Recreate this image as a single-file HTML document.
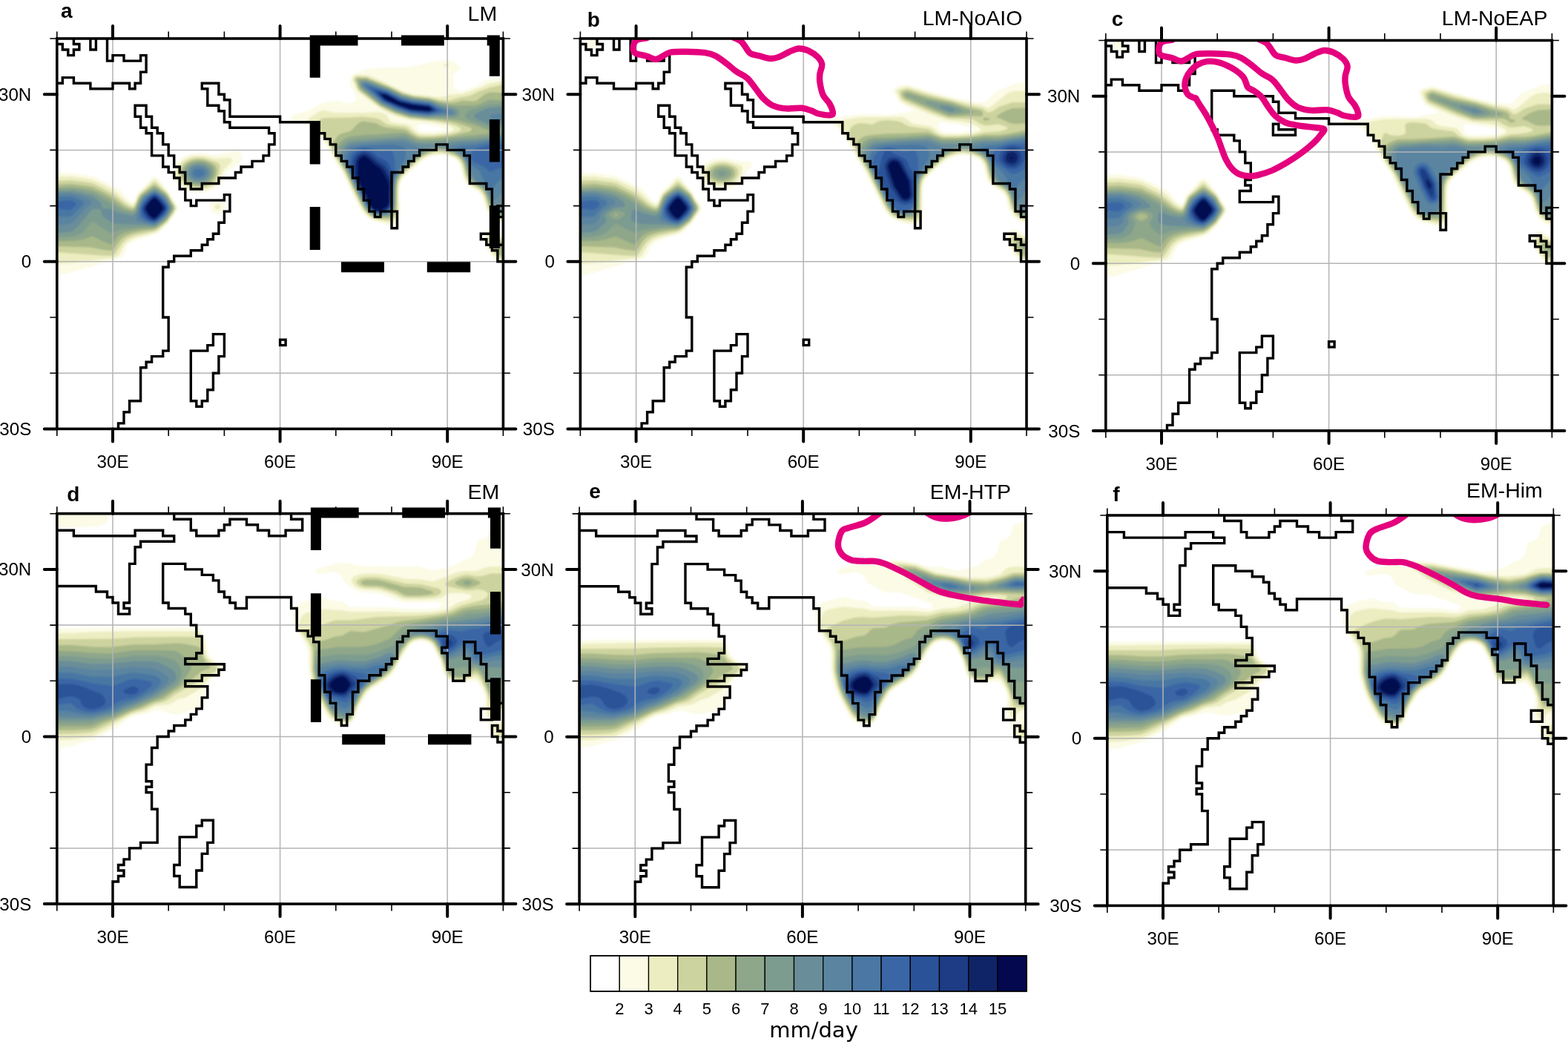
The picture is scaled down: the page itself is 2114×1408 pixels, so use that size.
<!DOCTYPE html>
<html lang="en"><head><meta charset="utf-8"><title>Precipitation maps</title>
<style>html,body{margin:0;padding:0;background:#fff}svg{display:block}text{font-family:"Liberation Sans",Arial,Helvetica,sans-serif;fill:#000}.b{font-weight:bold;font-size:28px}.t{font-size:24.2px}.ti{font-size:28.5px}.cb{font-size:22px}.u{font-family:"DejaVu Sans",Verdana,sans-serif;font-size:29px}</style></head><body>
<svg width="2114" height="1408" viewBox="0 0 2114 1408" role="img" aria-label="Precipitation maps for six simulations">
<rect width="2114" height="1408" fill="#fff"/>
<defs><clipPath id="cpa"><rect x="0" y="0" width="601.6" height="526.4"/></clipPath><filter id="bl" x="-5%" y="-5%" width="110%" height="110%"><feGaussianBlur stdDeviation="1.1"/></filter></defs>
<g transform="translate(76.8 52)"><g clip-path="url(#cpa)"><g filter="url(#bl)"><path fill="#fbfbe6" fill-rule="evenodd" d="M511.9 30.1L522.6 28.5L528.3 28.9L533.9 31.1L538.7 33.8L544.1 39.5L544.2 41.4L535.1 47L533.9 48.9L533.6 50.8L535.2 65.8L537.7 68.7L541.4 70.3L547.1 70.4L565.7 63.9L573.4 58.4L579 56L587.3 54.5L601.6 52.9L601.6 249.6L596 248.4L590.3 246L586.6 243.2L582.8 239L577.6 229.4L573.4 215.3L570.9 210.6L565.9 205.9L554.6 199.3L549.6 193.6L546.4 186.1L543.3 172.3L541.4 168.2L539.6 165.7L535.8 162.8L530.2 160.3L522.6 158.2L517 157.6L511.4 158L504.2 159.8L498.2 162.2L492.6 165.4L471.9 183.6L466.2 189.9L463.8 195.5L462.6 203L462.5 216.2L463.3 229.4L463 236.9L460.9 244.4L458.7 247.8L456.8 249.7L453.1 251.8L449.3 252.2L430.5 247.4L424.9 245.5L421.1 243.6L417.2 240.6L413.5 236.9L409.4 231.2L401.2 216.2L383.5 179.7L373.3 163.6L363.2 144.8L349.7 125.9L344 119.9L338.4 116.6L332.8 115L320.7 112.8L315.9 110.9L315.5 109L315.8 107L316.6 105.3L319.6 102.5L323.4 101L334.6 98.6L340.3 96.8L355.3 88.1L359.1 86.6L376 83.9L379.8 84.3L392.9 87.7L396.7 87.5L400.4 85.7L402.8 82.7L403.3 79L401 73.3L395.3 63.9L394.6 60.2L395.4 54.5L397 50.8L398.6 48.9L402.3 46.6L408 45.3L411.7 42.9L416.5 41.4L434.3 39.6L471.9 39.1L490.7 35.3ZM488.8 115.9L486.9 116.6L486 118.4L486.2 120.3L486.9 122.2L488.6 124.1L490.7 124.9L507.6 125.7L519.6 124.1L523.8 122.2L520 120.3L507.6 117.4L492.6 115.8ZM214.3 157.3L238.8 151.7L242.5 151.7L244.4 152.3L247.2 154.2L248.7 156L250 159.8L249.7 163.6L248.9 165.4L246.3 168.5L233.1 176.9L229.4 179.9L227.5 182.5L223.5 191.8L220.9 195.5L216.2 200.1L210.6 203.7L203 206.6L195.5 208L188 208.1L180.5 207L173 204.4L165.4 199.8L161.1 195.5L157.7 189.9L156.4 186.1L155.8 180.5L156.8 174.8L158.4 171.1L160.8 167.3L164.4 163.6L169.2 160L173 158.1L180.5 155.5L189.9 154.3L197.4 154.7L208.7 157ZM0 319.7L0 180.8L18.8 180.9L45.1 184.9L50.8 186.4L81.8 201.2L86.5 205.1L95.2 216.2L99.6 219.9L101.5 220.6L103.4 219.9L105.3 216.7L107.5 210.6L109.6 206.8L117.6 199.3L126 188.9L129.7 186.1L131.6 185.8L133.5 186.2L137.2 189.1L143.4 197.4L150.4 205.5L156 215.6L161.8 223.7L163.3 227.5L163.3 229.4L162.7 231.2L158.2 238.8L150.4 249.5L139.1 260.7L133.5 263.9L109 271.3L101.4 274.5L97.8 277.2L95.1 280.1L90.6 291.4L89.4 293.3L86.5 295.7L79 298.8L62 302.3L47 307.8L30.1 311.7L18.8 316.1ZM212 218.1L216.2 217.2L220 217.7L223.7 219.5L226 221.8L227.6 225.6L227.4 229.4L225.6 232.9L223.3 235L218.3 236.9L214.3 236.8L209.9 235L206.8 231.8L205.4 227.5L206.1 223.7L208.7 220.1ZM581.8 257.6L584.7 257.1L588.4 258L601.6 265L601.6 303.7L594.1 300.7L588.4 296.3L582.8 289.1L577.8 280.1L575.5 272.6L575.4 267L577.4 261.3L579 259.3Z"/><path fill="#ecedc0" fill-rule="evenodd" d="M524.3 33.8L526.4 33.8L528.3 35.4L527.5 37.6L524.5 38.3L522.4 37.6L521.6 35.7ZM403.8 48.9L419.2 49.6L438 57.1L467.1 71.4L473.4 73.3L481.3 75.3L503.8 77.6L513.2 79.1L518.6 79L530.2 75.7L547.1 74.6L571.5 66.1L582.8 60.5L601.6 57.3L601.6 246.6L596 245.1L592.2 243.4L586.2 238.8L583.2 235L580.2 229.4L575.6 214.3L572.6 208.7L568.9 204.9L558.4 198.7L552.8 193.6L550.6 189.9L549.1 186.1L545.2 170.3L541.4 164.1L537.7 161.1L532 158.5L524 156L517 155L507.6 156.1L500.1 158.6L493.8 161.7L488.5 165.4L471.7 180.5L464.8 188L462 193.6L460.7 201.2L460.4 214.3L460.9 227.5L460.4 235L458.1 242.5L455 246.5L453.1 247.7L449.3 248.4L430.5 245L423 242L417.4 237.8L413.4 233.1L408.7 225.6L399 206.8L387.3 182L374.8 161.7L365.5 142.9L347.8 118.8L344 115.6L336.7 110.9L338.5 109L347.8 101.9L357.2 96.9L361 97.1L371.2 99.6L377.9 100.3L411.7 100.2L432.4 99.2L438 100L443.7 102.6L446 105.3L448.4 110.9L450.7 112.8L455 113.8L470 115.6L473.8 116.6L477.5 118.7L484.4 126L488.8 128.3L492.6 128.8L505.7 129L524.5 127.2L532 125.1L534.2 124.1L535.2 122.2L533.7 120.3L530.5 118.4L525.1 116.6L505.4 112.8L477.5 109.7L470 108.2L456.8 104.7L443.7 99L434.3 93.3L405.8 71.4L403.3 67.7L401.4 62L398.6 56.4L398.9 52.6L400.2 50.8ZM187.1 157.9L197.4 158.2L214.3 161.9L229.4 160.9L233.1 161.1L235.1 161.7L236.3 163.6L234.4 167.3L225 176.7L223.7 178.9L219.6 189.9L217.1 193.6L213.3 197.4L208.7 200.5L201.2 203.4L193.6 204.7L186.1 204.5L176.7 202.1L171.4 199.3L167.3 196.2L162.5 189.9L161 186.1L160.3 180.5L160.9 176.7L162.3 173L164.6 169.2L168.3 165.4L173 162.2L176.7 160.4L182.4 158.6ZM0 186.1L18.8 185.9L43.2 189.3L48.9 190.7L65.8 198.5L77.1 204.6L80.8 207.5L94 220L99.5 223.7L101.5 224.3L103.4 223.6L105.3 220.8L108.6 212.4L110.9 208.4L119.3 201.2L127.8 192L129.7 190.6L131.6 190.1L133.5 190.7L135.4 192.2L150.4 208.4L154.5 216.2L160.7 225.6L161.2 229.4L158.6 235L149.3 248.2L139.1 257.5L135.4 260.3L131.6 262L107.2 268.2L99.6 271.5L95.3 274.5L91.4 278.2L84 291.4L82.1 293.3L79 295.2L73.3 296.6L58.3 297.9L45.1 300.1L16.9 303.1L0 304.1ZM215.3 223.7L218.1 223.7L220.3 225.6L220.6 227.5L220 229.1L218.1 230.4L216.2 230.7L214.3 230.1L212.5 227.5L212.9 225.6ZM581 263.2L582.8 262.1L586.6 262.1L601.6 268.6L601.6 300.4L596 298.1L592 295.2L586.9 289.5L581.9 282L579.4 276.4L578.5 270.7L579 266.6Z"/><path fill="#cdd39f" fill-rule="evenodd" d="M401.5 52.6L404.2 51L417.4 51.4L449.3 64.7L466.8 73.3L481.3 77.2L502 79.5L515.8 82.7L524.5 83.6L530.2 83.2L541.4 79.8L554.6 77.5L558.4 76.2L568.2 71.4L582.8 66.2L601.6 62.1L601.6 244.3L594.1 241.7L590.3 239.3L586.6 235.8L583.3 231.2L581.5 227.5L577.2 213.1L573.7 206.8L569.6 202.9L558.4 196.3L554 191.8L550.7 184.2L547.1 169.8L543.3 163.3L539.6 160L535.8 157.9L524.5 154.1L517 152.9L511.4 153.2L505.7 154.5L498.2 157.2L492.6 160.1L486.9 164.2L470 179.5L463.9 186.1L460.8 191.8L459.3 199.3L458.9 210.6L459.2 225.6L458.5 233.1L456.8 238.9L455 242L453.1 243.8L451.2 244.7L447.4 245.2L432.4 243.6L424.9 241L418.9 236.9L414.1 231.2L408.6 221.8L387.3 178.2L376 159.8L367.5 141L358.8 129.7L351.5 118.4L351 114.7L351.4 112.8L353.4 110.2L357.2 107.8L362.8 106.9L392.9 106.4L411.7 105.4L426.8 106.8L434.3 108.6L443.4 114.7L448.2 116.6L468.1 118.9L471.9 120.1L479.4 126.1L485 129.7L488.8 131.1L492.6 131.5L507.6 131.4L528.3 129.1L540.4 126L544 124.1L544.8 122.2L542.9 120.3L539.6 118.3L528.3 114.3L509.5 111.2L475.6 107.7L456.8 102.1L445.6 97L434.3 91.1L408 70.9L405.3 67.7L403.5 62L400.9 56.4L400.7 54.5ZM182.1 161.7L189.9 160.5L199.3 161.4L211.5 165.4L216 167.3L218.7 169.2L219.7 171.1L219.9 173L218 184.2L215.6 189.9L210.6 195.5L206.8 198L201.2 200.4L195.5 201.7L188 201.8L182.4 200.9L176.7 198.8L171.5 195.5L167.7 191.8L165.5 188L164.3 184.2L164.2 178.6L165.3 174.8L167.5 171.1L171.1 167.3L176.7 163.7ZM0 191.8L18.8 191.1L43.2 194.2L48.9 195.6L73.3 207.8L79 211.7L92.1 222.8L97.8 226.1L101.5 227.2L103.4 226.6L105.3 224.3L110.2 212.4L112.8 208.9L129.7 194.7L131.6 194.1L133.5 194.8L148.7 208.7L151.3 212.4L154.2 218.4L158.9 225.6L159.6 229.4L156.9 235L148.5 246.8L137.2 256.5L131.6 259.7L105.3 265.2L96.6 268.8L92.1 271.9L88.4 275.4L79 289.5L77.2 291.4L75.2 292.4L71.4 292.9L58.3 292.4L0 288.1ZM584.2 267L586.6 266.7L588.4 267.2L596 270.1L601.6 271.6L601.6 297.6L596.5 295.2L592.2 291.5L584.7 281.2L582.4 276.4L581.8 272.6L582.3 268.8Z"/><path fill="#a9b888" fill-rule="evenodd" d="M403.3 54.5L404.2 53.6L406.1 53.1L417.4 53.2L449.3 66.1L464.4 73.8L468.1 75.1L481.3 78.5L502 80.8L515.1 84.6L526.4 86.5L535.4 86.5L547.1 83.7L562.3 84.6L565.9 83.5L575.3 76.1L580.9 73.1L586.6 72.2L601.6 73.2L601.6 242.3L594.1 239.4L588.4 235L585.4 231.2L583.4 227.5L578.6 212.4L575.3 206.1L571.5 202.3L560.2 195.5L556.2 191.8L553.9 188L552.5 184.2L548.6 169.2L546.8 165.4L544.1 161.7L539.6 158L535.5 156L522.6 151.7L517 150.9L511.4 151.3L505.7 152.6L498.2 155.3L492.6 158.1L485 163.7L468.1 179L462.5 185.4L459.3 191.8L458.2 197.4L457.4 229.4L456.1 235L453.1 240.1L451.2 241.5L447.4 242.5L432.4 242L424.9 239.4L419.2 235.2L414.5 229.4L409.2 220L399.6 201.2L389.2 178.6L378.8 161.7L373.7 150.4L371.8 144.8L371.5 141L374.8 137.2L377.9 132L379.8 130.2L383.5 128.3L394.8 125.1L396.7 124.1L405.8 114.7L408.6 112.8L413.6 111.4L430.5 114.3L438 118.4L443.7 120.1L468.1 122.8L471.9 124.5L477.5 128.5L483.2 131.6L486.9 133.1L490.7 133.9L509.5 133.6L532 131L554.7 126L558.4 124.1L559.6 122.2L557.9 120.3L554.6 119.1L539.6 114.1L530.2 111.8L513.2 109.7L498.2 108.8L475.6 106.3L455 99.9L436.2 90.8L409 69.6L406.3 65.8L403.2 56.4ZM185.2 163.6L191.8 163L199.3 164L207.9 167.3L213.1 171.1L214.4 173L215.4 176.7L215.4 180.5L214.7 184.2L212 189.9L206.8 194.9L203 197L197.4 198.8L191.8 199.5L186.1 199.1L180.5 197.6L176.7 195.8L173 193.1L170.1 189.9L168.1 186.1L167.3 182.4L167.5 178.6L169.2 174L171.3 171.1L175.7 167.3L180.5 164.9ZM0 280.2L0 196.9L18.8 196L47 199.8L60.2 205.7L73.3 212.6L90.5 225.6L97.8 229L101.5 229.8L103.4 229.3L105.3 227.2L110.8 214.3L113.4 210.6L127.8 199.6L131.6 197.8L135.4 199.7L144.8 206.9L148.5 210.5L157.3 225.6L158 229.4L156.4 233.1L148.5 244.9L144.8 248.5L137.2 254.3L131.6 257.5L116.6 259.6L105.3 261.8L99.6 263.2L94 265.4L90.2 267.6L86.4 270.7L83.2 274.5L77.1 284L75.2 285.7L73.3 286.3L62 284.9L45.1 281.5ZM587.4 274.5L588.4 273.5L590.3 273.1L601.6 274.4L601.6 293.1L597.8 292.5L596 291.5L592.5 287.6L588.3 280.1L587.2 276.4Z"/><path fill="#8ea68a" fill-rule="evenodd" d="M405.6 56.4L408 55L417.4 54.9L449.3 67.4L466.2 75.8L481.3 79.7L502 82L517 86.9L530.2 89.4L543.3 90.4L564 89.9L569.9 88.4L574.6 86.5L580.9 83L584.7 82.2L601.6 84.1L601.6 240.5L594.1 237.3L590.3 234.4L587.5 231.2L584.3 225.6L579 209.7L575.3 203.8L571.5 200.5L560.4 193.6L556.9 189.9L554.2 184.2L549.4 167.3L545.2 160.7L541.4 157.4L535.8 154.5L522.6 149.9L517 149.1L511.4 149.5L505.7 150.8L496.7 154.2L490.7 157.4L485 161.7L468.1 177.1L461.6 184.2L458.6 189.9L457 197.4L456.5 223.7L455.9 229.4L454 235L451.2 238.6L449.3 239.7L445.6 240.6L434.3 240.9L430.5 240.3L426.8 238.9L420.8 235L416 229.4L410.6 220L399.2 197.4L391 179.5L379.5 159.8L375.5 150.4L375.7 146.6L381.6 140.1L387.3 135.4L391 133.6L394.8 132.5L413.6 130L430.5 129.6L451.2 127.7L466.2 127.1L470 127.8L483.2 134.3L488.8 136.2L507.6 136.1L579 128.4L582 127.8L583.8 126L581.2 124.1L568.6 118.4L541.4 110.1L513.2 107.8L498.2 107.6L477.5 105.4L471.9 104.1L455 98.6L436.2 89.4L411.5 69.6L408.1 65.8ZM188.3 165.4L195.5 165.6L201.8 167.3L208.3 171.1L211.2 174.8L212.3 180.5L210.9 186.1L206.8 191.6L201.2 195.1L193.6 197L188 197L184.2 196.3L180.5 195L176.7 192.8L173.6 189.9L171.2 186.1L170.3 182.4L170.5 178.6L173.3 173L176.7 169.7L180.5 167.5ZM0 201.3L20.7 200.3L37.6 202.4L47 204.4L58.3 209.3L73.3 217.3L82.7 224.6L88.4 228.1L95.9 231.2L101.5 232.4L103.4 231.9L105.3 230.1L111.3 216.2L114.7 211.3L127.8 201.9L131.6 200.5L135.4 202.1L146.8 210.6L149.6 214.3L155.7 225.6L156.6 229.4L155 233.1L148.5 243.1L142.9 248.3L133.5 254.8L129.7 255.9L110.9 257.3L97.8 259.8L90.2 262L86.5 263.8L82.7 266.5L80.5 268.8L75.2 276.7L73.3 277.7L68.6 276.4L48.9 267.1L47 267.1L33.8 271.1L22.6 272.9L0 273.3ZM596.2 278.2L601.6 277.4L601.6 284.2L595.6 282L594.2 280.1Z"/><path fill="#7d9c90" fill-rule="evenodd" d="M409.8 56.6L417.4 56.6L447.4 67.9L466.2 77.1L481.3 80.9L502 83.2L517 88.7L537.7 93.5L541.3 95.9L542.6 97.8L542.7 101.5L541.7 103.4L539.8 105.3L535.8 106.7L511.4 106.1L500.1 106.5L475.6 103.9L456.8 98L436.8 88.4L411.7 67.7L409.1 63.9L407.8 58.3ZM558.8 95.9L584.7 88.7L601.6 88.4L601.6 123.8L600.1 122.2L596 120.9L582.8 118.9L575.3 116.8L556.5 109.9L551.9 107.2L550.9 105.3L550.9 103.4L552.7 99.7L554.8 97.8ZM599.9 126L601.6 124.2L601.6 238.7L597.8 237.4L594.1 235.3L588.2 229.4L585.2 223.7L580 208.7L576.5 203L572.2 199.3L562.1 193.1L558.4 189.3L555.7 184.2L550.8 167.3L549 163.6L546.2 159.8L541.9 156L537.7 153.8L524.5 148.7L517 147.3L511.4 147.8L505.7 149.2L498.2 151.8L492.6 154.5L485 159.9L464.4 179L458.9 186.1L456.8 191.8L455.7 201.2L455.2 225.6L453.1 233.2L450.1 236.9L445.6 238.8L436.2 239.7L432.4 239.5L428.6 238.5L424.9 236.7L421.1 233.8L418.7 231.2L414.9 225.6L403.1 203L391 176.8L381 159.8L379.3 156L378.3 152.3L381.6 146.6L387.3 141.3L392.9 137.8L398.6 136.4L468.1 131.1L471.9 132L483.2 137.2L488.8 138.8L509.5 138.6L545.2 135.1L564 134.3L580.9 132.3L591.3 129.7ZM182.5 169.2L188 167.7L193.6 167.7L199.3 168.9L204.9 171.9L207.6 174.8L209.1 178.6L208.7 184.2L206.6 188L204.9 189.9L201.2 192.5L197.4 194L193.6 194.8L186.1 194.4L182.4 193.2L178.6 191L174.3 186.1L173.2 182.4L173.5 178.6L174.8 175.5L176.8 173ZM129.6 203L131.6 202.6L135.4 204L146.6 212.3L148.5 214.8L155 227.5L154.5 231.2L148.5 241.3L142.9 246.6L133.5 253L129.7 254.1L114.7 253.9L92.1 256.4L84.6 257.9L75.2 262L73.3 262.1L69.6 260.5L62 256.2L48.9 246.9L47 247.2L45.1 248.9L36.8 259.4L33.8 261.9L30.1 263.9L24.4 265.9L18.8 267.2L0 268.1L0 204L20.7 203.3L33.8 205.3L47 208.4L55.7 212.4L75.2 223.8L86.4 231.2L94 233.8L101.5 235L103.4 234.5L105.3 233L106.4 231.2L112.7 216.2L114.7 213.3L120.3 208.8Z"/><path fill="#6a8d9a" fill-rule="evenodd" d="M411.3 58.3L415.5 57.9L417.4 58.3L447.4 69.1L462.5 76.9L466.2 78.3L481.3 82.1L503.8 84.9L515.1 89.9L535.8 96.1L537.8 97.8L538.4 99.6L538.1 101.5L536.3 103.4L533.9 104.1L511.4 104.5L498.2 105.2L475.6 102.8L458.7 97.4L439.9 88.9L436.2 86.5L412 65.8L410.9 63.9L410 60.2ZM580.9 94L586.6 93.2L601.6 92.5L601.6 115.8L586.6 115.6L580.9 114.9L575.6 112.8L564.3 107.2L562.4 105.3L562.7 103.4L564.8 101.5L575.5 95.9ZM582.8 134.8L601.6 130.3L601.6 233.2L594.1 233.2L591.9 231.2L587.7 225.6L581.4 208.7L578.1 203L573.4 198.6L562.6 191.8L559.2 188L556.5 182L552.1 167.3L549.3 161.7L546.3 157.9L541.4 154.2L535.8 151.5L522.6 146.2L517 145.5L511.4 145.8L503.8 147.9L494.4 151.8L490.7 153.9L483.2 159.7L463.1 178.6L458.7 184.2L456.8 188L455.8 191.8L454.7 201.2L454.1 225.6L453.2 229.4L451.4 233.1L447.4 236.5L443.7 237.7L434.3 238.6L428.6 237.4L424.9 235.5L421.9 233.1L418.5 229.4L416.1 225.6L403.3 201.2L391 174.4L381.6 157.9L382.6 154.2L384.3 150.4L389.1 144.8L394.8 141.2L400.4 140L430.5 137.2L468.1 134.6L471.5 135.4L479.4 139.2L486.9 141.5L492.6 142.1L509.5 142.1L524.5 141.1L545.2 138.1L565.9 137.2ZM184.3 171.1L188 170.1L193.6 170L199.3 171.5L203 173.9L205.3 176.7L206.2 180.5L205.6 184.2L203.1 188L200.7 189.9L197.4 191.5L191.8 192.6L188 192.4L184.2 191.3L179.1 188L176.7 184.2L176.2 182.4L176.6 178.6L178.7 174.8L180.8 173ZM129.4 204.9L131.6 204.4L133.5 204.8L144.9 212.4L148.5 217.2L153.6 227.5L153.2 231.2L147.5 240.6L141 246.5L133.5 251.4L131.6 252.2L127.8 252.5L114.7 251.1L92.1 250.5L77.1 249.2L71.4 246.8L62.7 240.6L60.3 236.9L59.9 231.2L58.3 229.8L50.8 229.7L46.8 231.2L30.1 251.6L21.4 259.4L16.9 261.1L0 262.3L0 206.4L20.7 206L33.7 208.7L43.2 211.3L50 214.3L57.8 220L59.4 221.8L60.2 223.7L60.7 227.5L62 229.2L73.3 229.8L80.8 234L84.6 235.5L94 237.6L101.5 238.4L103.4 237.8L105.3 236.3L107.2 233.5L112.8 219.1L115.7 214.3L120.3 210.4Z"/><path fill="#5a84a0" fill-rule="evenodd" d="M412.7 60.2L415.5 59.6L417.4 59.9L445.6 69.6L462.5 78.3L466.2 79.6L479.4 82.9L500.1 85.2L503.8 86.1L515.1 91.6L532.8 97.8L534.7 99.6L533.9 101L532 101.8L511.4 102.9L500.1 104.2L477.5 102L471.9 100.4L456.8 95.4L438 86.5L426.8 76.2L414.3 65.8L412.8 63.9L412.1 62ZM584.9 103.4L588.4 102L601.6 101.5L601.6 110.8L592.2 110.2L585.7 109L584.2 107.2L584.2 105.3ZM588.4 136.3L601.6 133.3L601.6 205.3L594.8 214.3L588.4 219.2L586.6 218.8L585.3 214.3L582.8 208.7L579 202.3L575.3 198.3L569.6 194.1L567.7 193.6L564.1 189.9L559.6 180.5L556.5 176.9L555.6 173L552.6 165.4L548.1 157.9L545.2 155.2L541.4 152.7L528.8 146.6L530.8 144.8L541.4 141.8L547.1 141.1L565.9 140.2ZM449.1 139.1L464.5 139.1L470 139.9L486.9 146.6L488.6 148.5L489 152.3L463.3 176.7L459.9 180.5L456.8 185.3L455.2 189.9L454.3 195.5L453.3 223.7L452.6 227.5L451 231.2L447.4 234.8L443.7 236.4L438 237.4L432.4 237.4L428.6 236.3L423.3 233.1L419.7 229.4L417.2 225.6L403.4 199.3L392.9 175.9L385.4 161.8L385.4 160.7L386.7 156L389.6 150.4L392.9 146.6L396.7 144.5L411.7 141.9ZM186.9 173L191.8 172.4L195.5 172.9L199.3 174.6L201.2 176.3L202.5 178.6L202.9 180.5L202.1 184.2L200.8 186.1L197.4 188.6L191.8 190.1L186.1 189.2L182.4 187.1L180.5 184.8L179.6 182.4L180 178.6L183 174.8ZM128.9 206.8L131.6 206L133.5 206.4L139.1 209.8L144.8 214.2L146.6 216.5L151.6 225.6L152.4 229.4L148.5 237.3L144.8 241.7L135.4 248.9L131.6 250.7L129.7 250.9L120.3 249.6L110.9 246.8L107.2 244.6L106.4 242.5L110.7 227.5L114.8 218.1L116.6 215.5L119.9 212.4ZM0 251.6L0 209.2L16.9 208.9L22.6 209.6L32.7 212.4L41.9 216.2L45.2 218.1L47.1 220L47.3 221.8L38.8 229.4L28.2 241.5L18.8 249.5L15 250.4Z"/><path fill="#4a77a3" fill-rule="evenodd" d="M415 62L418.4 62L445.6 70.8L464.4 80.3L479.4 84.1L502 86.7L513.2 92.6L525.8 97.8L526.3 99.6L502 102.9L498.2 103L477.5 100.8L460.6 95.5L441.8 87.3L438 85L428.6 76L416.8 65.8L415.1 63.9ZM564 143.6L601.6 136.8L601.6 188.6L597.8 190.6L594.1 193.6L584.7 204.5L582.8 203.5L575.1 189.9L569.9 178.6L565.5 174.8L556.5 170.1L551.1 159.8L549 157L545.2 153.3L540.2 150.4L539.6 149.2L538.5 148.5L541.5 146.6L547.1 145ZM410.9 144.8L453.1 143.1L462.5 144.8L466.2 146.2L469.2 148.5L469.9 150.4L470.1 157.9L469.3 163.6L463.7 171.1L461.2 176.7L456.2 184.2L454.2 189.9L453.1 199.3L452.5 221.8L451.5 227.5L449.3 231.4L447.4 233.2L443.7 235.1L436.2 236.6L430.5 236.1L424.9 233.2L420.8 229.4L417.1 223.7L405.3 201.2L389.9 167.3L389.3 165.4L390.6 157.9L392.4 154.2L394.8 150.9L397.7 148.5L400.4 147.3ZM186.4 176.7L191.8 175.5L196 176.7L198 178.6L198.7 180.5L198.6 182.4L197.6 184.2L195 186.1L191.8 186.9L188 186.5L186.1 185.5L184.2 183.6L183.6 180.5L184.3 178.6ZM128.1 208.7L131.6 207.6L133.5 208L137.9 210.6L142.8 214.3L146 218.1L148.5 222.2L150.9 227.5L151 229.4L148.5 235L144 240.6L135.4 247.5L131.6 249.2L129.7 249.4L122.7 248.2L117.8 246.3L112.3 242.5L111.1 240.6L110.7 238.8L111.5 229.4L112.8 225.4L115.4 220L119.9 214.3ZM0 240.3L0 212.9L18.8 212.8L24 214.3L32.4 218.1L35.3 220L36.4 221.8L35.7 223.7L34 225.6L22.6 237.1L18.8 239.8L15 240.4Z"/><path fill="#3a66a6" fill-rule="evenodd" d="M420.2 65.8L421.1 65.2L424.9 65.8L445.6 72L464.4 81.5L479.4 85.2L502 87.9L519.3 97.8L507.6 100.7L500.1 101.9L479.4 99.9L473.8 98.7L456.8 92.8L439.9 85L421.6 67.7ZM576 144.8L584.7 143.1L601.6 142.9L601.6 173.1L584.7 179.4L582.8 179L575.3 172.7L563.2 167.3L558.4 163.6L557.2 161.7L557.1 157.9L558.6 154.2L561.4 150.4L564.7 148.5ZM407 148.5L413.6 147.1L419.2 147.4L425.1 148.5L432.4 151.7L436.2 152.5L449.3 150.4L451.2 151.1L453.1 153.7L455.6 163.6L455.4 171.1L456.9 180.5L454.3 186.1L453 191.8L451.8 220L451.1 225.6L449.4 229.4L447.8 231.2L443.7 233.9L438 235.4L432.4 235.6L426.8 233.4L423 230.5L420.4 227.5L417 221.8L400 188L392.9 171.1L393.8 163.6L395.3 157.9L397.8 154.2L402.3 150.6ZM127.4 210.6L131.6 209.1L133.5 209.5L138.3 212.4L144.8 218.9L148.5 224.9L149.5 227.5L149 231.2L144.8 237.9L137.2 244.8L131.6 247.9L126 247.3L119.2 244.4L115.1 240.6L114 238.8L113 235L112.8 231.2L113.4 227.5L116.6 221L122.2 214.3ZM14.4 218.1L18.8 218.2L20.7 218.7L23.3 220L25.6 221.8L26 223.7L25 225.6L20.7 229.8L18.8 230.9L15 231.4L0 229.1L0 219.6Z"/><path fill="#2a5298" fill-rule="evenodd" d="M426.7 69.6L428.6 69.1L430.5 69.3L445.6 73.2L460.6 81.3L464.4 82.7L479.4 86.4L502 89.1L510.2 94L512.1 95.9L511.8 97.8L507.6 99.4L500.1 100.8L479.4 98.8L473.8 97.5L458.7 92.3L441.4 84.6L435.1 79ZM410.7 150.4L415.5 149.9L423 152.2L426.2 154.2L432.4 159.4L439.9 162.7L443.7 165L447.4 169.8L453.1 181.5L453.5 184.2L451.8 195.5L450.5 223.7L449.3 227.5L447.4 230.1L445.6 231.7L441.8 233.5L436.2 234.8L430.5 234.3L425 231.2L421.4 227.5L417.9 221.8L407.2 201.2L397.9 180.5L396.5 176.7L396.3 173L397.1 165.4L398.8 159.8L400.4 157.1L403.5 154.2ZM131.4 210.6L133.5 211L136 212.4L142 218.1L146.6 224.3L148.1 227.5L148.1 229.4L145.1 235L140 240.6L133.5 245.8L129.7 246.6L123.2 244.4L118.6 240.6L115.4 235L114.5 229.4L116.6 224L122.6 216.2L127.8 211.9Z"/><path fill="#1d3c85" fill-rule="evenodd" d="M432.2 73.3L432.4 72.5L434.3 71.8L445.6 74.4L460.6 82.6L464.4 83.9L479.4 87.5L501.8 90.2L507.9 94L509.5 95.9L508 97.8L500.1 99.6L479.4 97.7L475.6 96.9L458.7 91L441.8 83.5L436.8 79ZM406.1 156.4L411.7 153.2L415.5 152.9L419.2 154.3L423 156.6L432.4 164.5L438 167.9L441.8 171.1L446.1 176.7L450 184.2L451.2 187L451.5 189.9L450.7 199.3L450 221.8L448.2 227.5L446.7 229.4L443.7 231.6L438 233.6L432.4 233.9L428.6 232.7L424.1 229.4L421.1 225.8L418.7 221.8L401.8 188L399.3 180.5L400.4 165.4L402.9 159.8ZM129.7 212.4L131.6 212.1L133.5 212.5L136.1 214.3L142.9 221.8L146.4 227.5L146.5 229.4L145.8 231.2L142.9 235.2L135.9 242.5L131.6 245.1L127.3 244.4L121.8 240.6L117.9 235L116.6 231.6L116.3 229.4L117.6 225.6L121.7 220L126 215.2Z"/><path fill="#0f2466" fill-rule="evenodd" d="M435.7 75.2L436.2 74.2L438 73.9L444.2 75.2L460.6 84L464.4 85.2L479.4 88.6L500.1 90.9L502 91.6L505.6 94L506.9 95.9L503.8 97.7L500.1 98.5L479.4 96.5L475.6 95.7L460 90.2L443.7 83.2L440.2 80.8ZM413.3 156L417.4 156.9L421.1 159.3L430.5 167.6L438 173.1L442.6 178.6L449.3 191.9L449.6 216.2L449.3 220.1L447.9 225.6L444.7 229.4L441.5 231.2L436.2 233.1L432.4 233.1L428.6 231.8L425.3 229.4L421.1 224.4L406.1 195.3L402.5 186.1L403 169.2L403.6 165.4L405.4 161.7L407 159.8L409.8 157.4ZM129.6 214.3L131.6 213.8L133.5 214.3L135.4 215.8L142.2 223.7L144.4 227.5L144.5 229.4L142.4 233.1L135.8 240.6L133.5 242.7L131.6 243.4L127.8 242.7L124.1 239.7L119.5 233.1L118.4 229.4L118.7 227.5L121 223.7L126 217.6Z"/><path fill="#03084f" fill-rule="evenodd" d="M439 77.1L439.9 76L441.8 76L445.6 77L460.6 85.7L462.5 86.2L479.4 89.8L500.1 92.1L503.2 94L503.8 95.9L500.1 97.2L498.2 97.2L479.4 95.3L475.6 94.5L458.9 88.4L445.4 82.7L442 80.8ZM411.6 159.8L413.6 159.2L415.5 159.5L419.2 161.6L426.9 169.2L436.2 176.4L440.2 182.4L445.9 193.6L446.9 199.3L446.6 220L446 223.7L444.8 225.6L442.7 227.5L436.1 231.2L432.4 231.7L430 231.2L426.8 229.3L423.6 225.6L418 210.6L409.8 196.3L407 189.9L406.1 184.2L406.3 167.3L407.7 163.6ZM127.8 218.1L131.6 215.8L133.5 216.5L135.4 218.3L141.3 225.6L142.3 227.5L142.4 229.4L140.2 233.1L135.4 238.8L133.5 240.6L131.6 241.5L129.7 241.3L126 238.5L122 233.1L120.6 229.4L120.9 227.5L123.2 223.7Z"/></g></g><path d="M75.2 0V526.4M300.8 0V526.4M526.4 0V526.4M0 150.4H601.6M0 300.8H601.6M0 451.2H601.6" stroke="#b4b4b4" stroke-width="1.5" fill="none"/><g clip-path="url(#cpa)"><path d="M0 7.5L7.5 7.5L7.5 15L15 15L15 22.6L22.6 22.6L22.6 15L30.1 15L30.1 7.5L22.6 7.5L22.6 0M45.1 0L45.1 15L52.6 15L52.6 0M67.7 0L67.7 30.1L75.2 30.1L75.2 22.6L90.2 22.6L90.2 30.1L112.8 30.1L112.8 22.6L120.3 22.6L120.3 45.1L112.8 45.1L112.8 60.2L105.3 60.2L105.3 67.7L97.8 67.7L97.8 60.2L75.2 60.2L75.2 67.7L45.1 67.7L45.1 60.2L22.6 60.2L22.6 52.6L7.5 52.6L7.5 60.2L0 60.2M120.3 90.2L105.3 90.2L105.3 105.3L112.8 105.3L112.8 120.3L120.3 120.3L120.3 127.8L127.8 127.8L127.8 157.9L142.9 157.9L142.9 173L150.4 173L150.4 180.5L157.9 180.5L157.9 188L165.4 188L165.4 203L173 203L173 218.1L180.5 218.1L180.5 225.6L188 225.6L188 218.1L225.6 218.1L225.6 210.6L233.1 210.6L233.1 233.1L225.6 233.1L225.6 248.2L218.1 248.2L218.1 263.2L210.6 263.2L210.6 270.7L203 270.7L203 278.2L195.5 278.2L195.5 285.8L180.5 285.8L180.5 293.3L157.9 293.3L157.9 300.8L150.4 300.8L150.4 308.3L142.9 308.3L142.9 376L150.4 376L150.4 421.1L142.9 421.1L142.9 428.6L127.8 428.6L127.8 436.2L120.3 436.2L120.3 443.7L112.8 443.7L112.8 488.8L97.8 488.8L97.8 503.8L90.2 503.8L90.2 518.9L82.7 518.9L82.7 526.4M120.3 90.2L120.3 105.3L127.8 105.3L127.8 120.3L135.4 120.3L135.4 127.8L142.9 127.8L142.9 142.9L150.4 142.9L150.4 157.9L157.9 157.9L157.9 173L165.4 173L165.4 180.5L173 180.5L173 195.5L180.5 195.5L180.5 203L195.5 203L195.5 195.5L218.1 195.5L218.1 188L240.6 188L240.6 180.5L248.2 180.5L248.2 173L263.2 173L263.2 165.4L278.2 165.4L278.2 157.9L285.8 157.9L285.8 142.9L293.3 142.9L293.3 127.8L285.8 127.8L285.8 120.3L233.1 120.3L233.1 112.8L225.6 112.8L225.6 97.8L218.1 97.8L218.1 90.2L203 90.2L203 67.7L195.5 67.7L195.5 60.2L218.1 60.2L218.1 75.2L225.6 75.2L225.6 82.7L233.1 82.7L233.1 105.3L300.8 105.3L300.8 112.8L353.4 112.8L353.4 127.8L361 127.8L361 135.4L368.5 135.4L368.5 142.9L376 142.9L376 157.9L383.5 157.9L383.5 165.4L391 165.4L391 173L398.6 173L398.6 188L406.1 188L406.1 203L413.6 203L413.6 218.1L421.1 218.1L421.1 233.1L428.6 233.1L428.6 240.6L436.2 240.6L436.2 233.1L451.2 233.1L451.2 180.5L466.2 180.5L466.2 173L473.8 173L473.8 165.4L481.3 165.4L481.3 157.9L488.8 157.9L488.8 150.4L511.4 150.4L511.4 142.9L526.4 142.9L526.4 150.4L549 150.4L549 157.9L556.5 157.9L556.5 195.5L579 195.5L579 203L586.6 203L586.6 233.1L601.6 233.1M601.6 225.6L594.1 225.6L594.1 240.6L601.6 240.6M451.2 233.1L458.7 233.1L458.7 255.7L451.2 255.7ZM601.6 278.2L594.1 278.2L594.1 270.7L586.6 270.7L586.6 263.2L571.5 263.2L571.5 270.7L579 270.7L579 278.2L586.6 278.2L586.6 285.8L594.1 285.8L594.1 300.8L601.6 300.8M210.6 398.6L225.6 398.6L225.6 428.6L218.1 428.6L218.1 451.2L210.6 451.2L210.6 473.8L203 473.8L203 488.8L195.5 488.8L195.5 496.3L188 496.3L188 488.8L180.5 488.8L180.5 421.1L203 421.1L203 413.6L210.6 413.6ZM300.8 406.1L308.3 406.1L308.3 413.6L300.8 413.6Z" fill="none" stroke="#000" stroke-width="3.4" stroke-linejoin="miter" stroke-linecap="square"/></g><path fill="#000" d="M340.9 -4.5h64.8v14h-64.8ZM464.2 -4.5h57.8v14h-57.8ZM579.9 -4.5h17.1v14h-17.1ZM583 -4.5h14v55.2h-14ZM583 109h14v57.5h-14ZM583 225.2h14v57.8h-14ZM383.2 301.2h58v14h-58ZM499 301.2h58.4v14h-58.4ZM340.9 -4.5h14v57.3h-14ZM340.9 111.2h14v58.2h-14ZM340.9 227.1h14v57.9h-14Z"/><rect x="0" y="0" width="601.6" height="526.4" fill="none" stroke="#000" stroke-width="3.6"/><path d="M75.2 0v-17M75.2 526.4v17M300.8 0v-17M300.8 526.4v17M526.4 0v-17M526.4 526.4v17M0 526.4h-17M601.6 526.4h17M0 300.8h-17M601.6 300.8h17M0 75.2h-17M601.6 75.2h17" stroke="#000" stroke-width="4" stroke-linecap="round" fill="none"/><path d="M0 0v-9.5M0 526.4v9.5M150.4 0v-9.5M150.4 526.4v9.5M225.6 0v-9.5M225.6 526.4v9.5M376 0v-9.5M376 526.4v9.5M451.2 0v-9.5M451.2 526.4v9.5M601.6 0v-9.5M601.6 526.4v9.5M0 451.2h-9.5M601.6 451.2h9.5M0 376h-9.5M601.6 376h9.5M0 225.6h-9.5M601.6 225.6h9.5M0 150.4h-9.5M601.6 150.4h9.5M0 0h-9.5M601.6 0h9.5" stroke="#000" stroke-width="1.6" fill="none"/><text class="t" x="75.2" y="579.2" text-anchor="middle">30E</text><text class="t" x="300.8" y="579.2" text-anchor="middle">60E</text><text class="t" x="526.4" y="579.2" text-anchor="middle">90E</text><text class="t" x="-34.5" y="83.8" text-anchor="end">30N</text><text class="t" x="-34.5" y="309.4" text-anchor="end">0</text><text class="t" x="-34.5" y="535" text-anchor="end">30S</text></g><text class="ti" x="670.2" y="27.8" text-anchor="end">LM</text><text class="b" x="82" y="24.4">a</text>
<g transform="translate(782.4 52)"><g clip-path="url(#cpa)"><g filter="url(#bl)"><path fill="#fbfbe6" fill-rule="evenodd" d="M11.1 1.9L13.2 0.9L16.9 0.4L20.7 1.2L22.6 2.3L24.4 4.5L25.3 7.5L24 11.3L21.9 13.2L18.8 14.4L15 14.6L11.1 13.2L9.1 11.3L7.7 7.5L9.1 3.8ZM589.7 60.2L601.6 58.3L601.6 249.6L596 248.4L590.3 246L586.6 243.2L582.8 239L577.6 229.4L573.4 215.3L570.9 210.6L565.9 205.9L554.6 199.3L549.6 193.6L546.4 186.1L543.3 172.3L541.4 168.2L539.6 165.7L535.8 162.8L530.2 160.3L522.6 158.2L517 157.6L511.4 158L504.2 159.8L498.2 162.2L492.6 165.4L471.2 184.2L466.1 189.9L463.5 195.5L462.2 203L462 216.2L462.9 233.1L462.5 238.8L460.6 244.9L456.8 249.7L453.1 251.8L449.3 252.2L428.6 246.7L423 244.4L419.2 242.2L415.5 238.9L409.5 231.2L399.6 212.4L383.5 179.7L373.3 163.6L364.4 146.6L349.7 124.1L345.9 119.9L340.3 115.9L334.6 113.8L320 110.9L319.6 109.2L321.5 107.1L332.8 108.2L338.4 108.1L374.1 102.3L392.9 102L413.6 103.3L447.4 98.2L448.2 97.8L447.3 95.9L444.6 94L434.3 88.9L430.5 86.3L427.7 82.7L425.1 77.1L422.6 73.3L422.1 71.4L422.8 67.7L424.9 65.3L426.8 64.4L432.4 63.6L438 62.1L443.7 62.4L470 70.5L503.8 79.5L528.3 84.5L543.3 85.8L545.2 85.7L547.7 84.6L558.2 73.3L562.1 70.4L574.6 65.8L582.8 61.8ZM483.2 113.7L481.6 114.7L484.6 122.2L486.9 124.8L490.7 126.4L505.7 126.9L517.9 126L527.7 124.1L529.1 122.2L527.4 120.3L524.5 119.2L509.5 116L488.8 113.2ZM180.5 162.5L191.8 161.3L197.4 161.7L214.3 165.6L226.5 165.4L229.8 167.3L230.8 169.2L231 171.1L229.4 174.7L225.6 178.1L223.9 180.5L219.7 189.9L216.6 193.6L212.4 196.9L206.8 199.8L199.3 201.9L189.9 202.7L182.4 201.9L173 198.8L169.2 196.7L165.4 193.6L161.3 188L160.2 184.2L160.1 180.5L161.9 174.8L164.7 171.1L167.3 168.7L174.8 164.3ZM0 319.7L0 180.8L18.8 180.9L45.1 184.9L50.8 186.4L81.8 201.2L86.5 205.1L95.2 216.2L99.6 219.9L101.5 220.6L103.4 219.9L105.3 216.7L107.5 210.6L109.6 206.8L117.6 199.3L126 188.9L129.7 186.1L131.6 185.8L133.5 186.2L137.2 189.1L143.4 197.4L150.4 205.5L156 215.6L161.8 223.7L163.3 227.5L163.3 229.4L162.7 231.2L158.2 238.8L150.4 249.5L139.1 260.7L133.5 263.9L109 271.3L101.4 274.5L97.8 277.2L95.1 280.1L90.6 291.4L89.4 293.3L86.5 295.7L79 298.8L62 302.3L47 307.8L30.1 311.7L18.8 316.1ZM581.8 257.6L584.7 257.1L588.4 258L601.6 265L601.6 303.7L594.1 300.7L588.4 296.3L582.8 289.1L577.8 280.1L575.5 272.6L575.4 267L577.4 261.3L579 259.3Z"/><path fill="#ecedc0" fill-rule="evenodd" d="M428.4 67.7L439.9 64.8L443.7 65.3L470 73.5L520.8 86.3L541.4 90.3L549 93.2L550.8 93.2L553.1 92.1L563.3 84.6L571.4 77.1L577.4 73.3L584.7 71L601.6 70.4L601.6 246.6L596 245.1L592.2 243.4L586.2 238.8L583.2 235L580.2 229.4L575.6 214.3L572.6 208.7L568.9 204.9L558.4 198.7L552.8 193.6L550.6 189.9L549.1 186.1L545.2 170.3L541.4 164.1L537.7 161.1L532 158.5L524 156L517 155L507.6 156.1L500.1 158.6L493.8 161.7L488.5 165.4L471.7 180.5L464.4 188.2L461.7 193.6L460.3 201.2L459.7 236.9L458.1 242.5L455 246.5L453.1 247.6L449.3 248.4L430.5 244.8L423 241.8L419.2 239.2L415.5 235.5L412.2 231.2L408.9 225.6L387.3 182L374.8 161.7L364.7 141.3L351.6 121L346 114.7L347 112.8L351.1 110.9L355.3 109.8L376 106.2L432.4 105.8L438 107.3L440.9 109L445 112.8L449.3 115L471.9 118.2L475.6 120.3L481.8 126L484.8 127.8L490.7 129.6L507.6 129.8L526.4 128.2L535.3 126L539.2 124.1L540.1 122.2L538.5 120.3L535.5 118.4L526.4 114.4L513.2 112L494.4 110L471.9 102.6L435.8 86.5L432.9 84.6L430.5 82L425.9 71.4L426.2 69.6ZM184.2 165.4L191.8 164.8L199.3 165.7L212.4 169.9L215.2 171.1L217.8 173L218.6 174.8L218 180.5L216.2 186.1L213.9 189.9L209.9 193.6L204.9 196.4L199.3 198.3L193.6 199.1L186.1 198.8L180.5 197.7L175.2 195.5L171.1 192.8L168.1 189.9L166 186.1L165.4 180.5L166.5 176.7L169.1 173L173 169.7L178.6 166.9ZM0 186.1L18.8 185.9L43.2 189.3L48.9 190.7L65.8 198.5L77.1 204.6L80.8 207.5L94 220L99.5 223.7L101.5 224.3L103.4 223.6L105.3 220.8L108.6 212.4L110.9 208.4L119.3 201.2L127.8 192L129.7 190.6L131.6 190.1L133.5 190.7L135.4 192.2L150.4 208.4L154.5 216.2L160.7 225.6L161.2 229.4L158.6 235L149.3 248.2L139.1 257.5L135.4 260.3L131.6 262L107.2 268.2L99.6 271.5L95.3 274.5L91.4 278.2L84 291.4L82.1 293.3L79 295.2L73.3 296.6L58.3 297.9L45.1 300.1L16.9 303.1L0 304.1ZM581 263.2L582.8 262.1L586.6 262.1L601.6 268.6L601.6 300.4L596 298.1L592 295.2L586.9 289.5L581.9 282L579.4 276.4L578.5 270.7L579 266.6Z"/><path fill="#cdd39f" fill-rule="evenodd" d="M439 67.7L443.7 68.2L468.1 75.8L500.1 83.3L520.8 89.4L539.6 93.4L543.3 94.9L549 99.3L550.8 99.6L556.1 97.8L564.8 92.1L582.8 85.9L601.6 86.2L601.6 244.3L594.1 241.7L590.3 239.3L586.6 235.8L583.3 231.2L581.5 227.5L577.2 213.1L573.7 206.8L569.6 202.9L558.4 196.3L554 191.8L550.7 184.2L547.1 169.8L543.3 163.3L539.6 160L535.8 157.9L524.5 154.1L517 152.9L511.4 153.2L505.7 154.5L498.2 157.2L492.6 160.1L486.9 164.2L468.9 180.5L462.5 187.7L460.4 191.8L458.7 199.6L458.2 227.5L457.5 235L455.7 240.6L453.1 243.7L451.2 244.7L447.4 245.1L430.5 242.9L423 239.6L417.4 234.8L413.2 229.4L408.9 221.8L387.5 178.6L376.9 161.7L368.5 142.6L361.3 129.7L363.6 122.2L366.6 118.1L370.4 115.9L376 114.2L381.6 114.3L392.9 115.8L394.8 115.4L399 112.8L404.7 110.9L413.6 110L425.5 110.9L432.4 112.4L439.9 117.1L445.6 118.9L470 122.1L478.6 127.8L482.5 129.7L488.8 131.7L494.4 132L509.5 131.9L528.3 130.4L545.2 126.8L562.1 125.4L570.3 124.1L575.4 122.2L575.9 120.3L573.1 118.4L564 115.4L549 117.3L545.2 117.2L538.9 114.7L530.2 109.4L528.3 108.8L496.3 107.6L475.6 100.3L439.9 85.3L434.3 82.1L432.1 79L430.2 73.3L430.2 71.4L433.1 69.6ZM181.9 169.2L188 168L195.5 168.1L203 169.9L208.7 172.6L211.4 174.8L213 178.6L212.9 182.4L211.6 186.1L208.8 189.9L206.5 191.8L203 193.7L197.4 195.5L191.8 196.2L186.1 195.8L180.5 194.3L176.7 192.5L173.4 189.9L171.1 186.8L170 184.2L169.9 180.5L171.3 176.7L173 174.5L176.7 171.5ZM0 191.8L18.8 191.1L43.2 194.2L48.9 195.6L73.3 207.8L79 211.7L92.1 222.8L97.8 226.1L101.5 227.2L103.4 226.6L105.3 224.3L110.2 212.4L112.8 208.9L129.7 194.7L131.6 194.1L133.5 194.8L148.7 208.7L151.3 212.4L154.2 218.4L158.9 225.6L159.6 229.4L156.9 235L148.5 246.8L137.2 256.5L131.6 259.7L105.3 265.2L96.6 268.8L92.1 271.9L88.4 275.4L79 289.5L77.2 291.4L75.2 292.4L71.4 292.9L58.3 292.4L0 288.1ZM584.2 267L586.6 266.7L588.4 267.2L596 270.1L601.6 271.6L601.6 297.6L596.5 295.2L592.2 291.5L584.7 281.2L582.4 276.4L581.8 272.6L582.3 268.8Z"/><path fill="#a9b888" fill-rule="evenodd" d="M436.1 71.4L439.9 70.4L441.8 70.6L468.1 78.7L500.1 85.6L520.8 92.4L537.7 96.5L540.9 97.8L542.4 99.6L542.5 103.4L541.4 104.9L539.6 105L530.2 104.4L500.1 105.5L494.4 104.7L470 95.1L438 81.4L435.3 79L433.8 75.2L433.9 73.3ZM582.3 94L601.6 92.9L601.6 114.5L586.6 115.3L581.1 114.7L576.3 112.8L567.8 108.4L562.1 106.4L560.8 105.3L565.9 101.5L572.4 97.8ZM543 107.2L545.2 106.5L551 107.2L552.7 109L547.3 110.9L545.2 110.7L543 109ZM580.9 127.8L601.6 123.2L601.6 242.3L594.1 239.4L588.4 235L585.4 231.2L583.4 227.5L578.6 212.4L575.3 206.1L571.5 202.3L560.2 195.5L556.2 191.8L553.9 188L552.5 184.2L548.6 169.2L546.8 165.4L544.1 161.7L539.6 158L535.5 156L522.6 151.7L517 150.9L511.4 151.3L505.7 152.6L498.2 155.3L492.6 158.1L485 163.7L468.1 179L462.5 185L459.6 189.9L457.9 195.5L457 204.9L456.3 229.4L454.6 236.9L452 240.6L449.3 242L443.7 242.3L432.4 241.6L426.8 239.8L423 237.6L419.2 234.5L416.4 231.2L412.7 225.6L395.3 191.8L389.2 178.6L376.9 157.9L373.7 150.4L371.6 142.9L372 141L377.9 134.8L381.6 132.3L389.2 130.6L413.6 128.3L432.4 128L466.2 126.4L470 127L481.1 131.6L488.8 133.9L505.7 134.1L526.4 132.9L545.2 130L565.9 129.9ZM186.6 171.1L191.8 170.7L197.4 171.4L202.2 173L205.3 174.8L207.2 176.7L208.7 180.5L208.1 184.2L206.8 186.5L204.9 188.6L201.2 191.1L193.6 193.2L186.1 192.8L182.4 191.7L178.6 189.7L176.6 188L174.4 184.2L174.2 180.5L174.8 178.6L176 176.7L178.6 174.3L182.4 172.3ZM0 280.2L0 196.9L18.8 196L47 199.8L60.2 205.7L73.3 212.6L90.5 225.6L97.8 229L101.5 229.8L103.4 229.3L105.3 227.2L110.8 214.3L113.4 210.6L127.8 199.6L131.6 197.8L135.4 199.7L144.8 206.9L148.5 210.5L157.3 225.6L158 229.4L156.4 233.1L148.5 244.9L144.8 248.5L137.2 254.3L131.6 257.5L116.6 259.6L105.3 261.8L99.6 263.2L94 265.4L90.2 267.6L86.4 270.7L83.2 274.5L77.1 284L75.2 285.7L73.3 286.3L62 284.9L45.1 281.5ZM587.4 274.5L588.4 273.5L590.3 273.1L601.6 274.4L601.6 293.1L597.8 292.5L596 291.5L592.5 287.6L588.3 280.1L587.2 276.4Z"/><path fill="#8ea68a" fill-rule="evenodd" d="M437.5 75.2L439.9 73.4L441.8 73.6L468.1 81.5L500.1 88L527.7 97.8L530.4 99.6L521.8 101.5L513.2 102.5L500.1 103.2L496.3 102.8L475.6 94.6L439.9 79.1L437.8 77.1ZM564 133.1L601.6 127.2L601.6 240.5L594.1 237.3L590.3 234.4L587.5 231.2L584.3 225.6L579 209.7L575.3 203.8L571.5 200.5L560.4 193.6L556.9 189.9L554.2 184.2L549.4 167.3L545.2 160.7L541.4 157.4L535.8 154.5L522.6 149.9L517 149.1L511.4 149.5L505.7 150.8L498.2 153.5L492.6 156.3L485 161.7L464.5 180.5L460 186.1L458.1 189.9L457 193.6L456 201.2L454.9 227.5L453.6 233.1L451.8 236.9L449.3 239L445.6 240L434.3 240.3L428.6 239L424.9 237.1L421.1 234.3L417.4 230.1L414.3 225.6L407.2 212.4L389.2 175.8L379.5 159.8L376.2 152.3L375.3 148.5L375.7 146.6L383.5 138.6L388.9 135.4L394.8 133.8L432.4 132.7L468.1 130.1L471.9 130.7L488.8 136.2L505.7 136.3L526.4 135.1L545.2 132.8ZM184.8 174.8L191.8 173.7L195.5 174.2L199.3 175.4L201.5 176.7L203.3 178.6L204 180.5L203.4 184.2L202 186.1L199.7 188L193.6 190.1L188 190L182.5 188L180.3 186.1L179.1 184.2L178.8 180.5L179.7 178.6L181.5 176.7ZM0 201.3L20.7 200.3L37.6 202.4L47 204.4L58.3 209.3L73.3 217.3L82.7 224.6L88.4 228.1L95.9 231.2L101.5 232.4L103.4 231.9L105.3 230.1L111.3 216.2L114.7 211.3L127.8 201.9L131.6 200.5L135.4 202.1L146.8 210.6L149.6 214.3L155.7 225.6L156.6 229.4L155 233.1L148.5 243.1L142.9 248.3L133.5 254.8L129.7 255.9L110.9 257.3L97.8 259.8L90.2 262L86.5 263.8L82.7 266.5L80.5 268.8L75.2 276.7L73.3 277.7L68.6 276.4L48.9 267.2L47 267.1L33.8 271.1L22.6 272.9L0 273.3ZM48.9 236.2L45.9 236.9L46.2 238.8L47 239.1L49.8 238.8L50.4 236.9ZM596.2 278.2L601.6 277.4L601.6 284.2L595.6 282L594.2 280.1Z"/><path fill="#7d9c90" fill-rule="evenodd" d="M465.6 86.5L466.2 84.8L470 85.1L480.6 86.5L498.2 89.8L509.7 94L513.6 95.9L515.6 97.8L513.2 99.3L511.4 99.8L500.1 100.9L496.3 100.4L476.5 92.1ZM564 135.6L601.6 129.7L601.6 238.7L597.8 237.4L594.1 235.3L588.2 229.4L585.2 223.7L580 208.7L576.5 203L572.2 199.3L562.1 193.1L558.4 189.3L555.7 184.2L550.8 167.3L548.9 163.6L546.2 159.8L541.9 156L537.7 153.8L524.5 148.7L517 147.3L511.4 147.8L505.7 149.2L498.2 151.8L492.6 154.5L485 159.9L464.4 178.8L458.7 185.7L456.2 191.8L455 200.1L453.8 225.6L453 229.4L451.2 233.8L447.9 236.9L443.7 238.2L434.3 238.8L428.6 237.5L424.9 235.5L421.1 232.4L414.7 223.7L408.6 212.4L391 176.7L381 159.8L379.3 156L378.3 152.3L381.6 146.6L385.4 142.8L391 138.9L396.7 137.1L449.3 134.2L468.1 132.7L472.9 133.5L485 138L488.8 138.8L505.7 138.8L524.5 137.8L545.2 135.5ZM187.2 178.6L191.8 177.8L195.2 178.6L197.4 180.5L197.7 182.4L196.6 184.2L193.6 185.8L189.9 186.2L188 185.7L185.6 184.2L184.7 182.4L185.1 180.5ZM129.6 203L131.6 202.6L135.4 204L146.6 212.3L148.5 214.8L155 227.5L154.5 231.2L148.5 241.3L142.9 246.6L133.5 253L129.7 254.1L114.7 253.9L90.2 256.7L82.7 258.5L75.2 262L73.3 262.1L63.9 257.9L48.9 249.6L47 249.9L45.1 251.3L39.4 257.6L35.1 261.3L28.2 264.7L18.8 267.2L0 268.1L0 204L20.7 203.3L33.8 205.3L47 208.4L55.7 212.4L75.2 223.8L86.4 231.2L94 233.8L101.5 235L103.4 234.5L105.3 233L106.4 231.2L112.7 216.2L114.7 213.3L120.3 208.8ZM47 232.2L41.1 235L39.3 236.9L39.1 238.8L40.5 240.6L45.1 243.6L47 244.2L50.8 243.9L56.4 241.4L59.7 238.8L60.1 236.9L58.8 235L56.4 233.7L50.8 232.2Z"/><path fill="#6a8d9a" fill-rule="evenodd" d="M484.4 92.1L485 91L486.9 90.7L496.3 91.8L503.1 94L505.8 95.9L504.5 97.8L498.2 98.4L491.4 95.9ZM564 137.9L601.6 131.8L601.6 233.2L594.1 233.2L591.9 231.2L587.7 225.6L581.4 208.7L578.1 203L573.4 198.6L562.6 191.8L559.2 188L556.5 182L552.1 167.3L549.3 161.7L546.3 157.9L541.4 154.2L535.8 151.5L522.6 146.2L517 145.5L511.4 145.8L503.8 147.9L494.4 151.8L490.7 153.9L483.2 159.7L462.5 179L457.1 186.1L455.1 191.8L454 199.3L452.8 223.7L452 227.5L450.5 231.2L447.4 234.7L443.7 236.3L436.2 237.4L430.5 236.7L426.8 235.1L423 232.4L419.2 228.3L416.1 223.7L410.8 214.3L391.3 174.8L381.6 157.9L382.6 154.2L384.3 150.4L389.1 144.8L394.8 141.2L400.4 140.2L432.4 137.4L468.1 135.3L471.9 136L481.3 139.9L486.9 141.5L492.6 142.1L507.6 142.2L524.5 141.2L545.2 138.2ZM129.4 204.9L131.6 204.4L133.5 204.8L144.9 212.4L148.5 217.2L153.6 227.5L153.2 231.2L148.5 239.4L144.8 243.4L137.2 249.2L133.5 251.4L129.7 252.5L112.8 251L86.5 250.2L75.2 248.7L70.2 246.3L68.3 244.4L68 242.5L70.5 231.2L73.3 230.2L75.2 230.6L80.8 234L86.5 236L97.8 238.2L101.5 238.4L103.4 237.8L105.3 236.3L107.2 233.5L112.8 219.1L115.7 214.3L120.3 210.4ZM0 262.3L0 206.4L15 205.9L20.7 206L33.7 208.7L43.2 211.3L50 214.3L57.8 220L60.2 223.7L60.2 225.6L58.3 226.9L56.4 227.4L47 228.5L39.5 232L34.9 235L33.3 236.9L32.7 238.8L33.2 240.6L35.5 244.4L35.4 246.3L30.1 252.3L21.5 259.4L16.9 261.1Z"/><path fill="#5a84a0" fill-rule="evenodd" d="M577.2 137.8L601.6 134.1L601.6 205.3L594.8 214.3L588.4 219.2L586.6 218.8L585.3 214.3L582.8 208.7L579 202.3L573.4 196.7L569.6 194.2L567.7 193.6L564 189.9L560.2 182L558.1 178.6L556.5 177L555.5 173L552.6 165.4L548.1 157.9L545.2 155.2L541.4 152.7L528.8 146.6L530.8 144.8L543.3 141.5L564 140.4ZM423 141L451.2 139.2L468.1 139.5L486.9 146.6L488.6 148.5L489 150.4L489 152.3L487.3 154.2L462.5 177.4L456.8 184.3L455 188.4L453.7 193.6L452.3 218.1L450.6 227.5L449.3 230L447.4 232.2L443.7 234.4L439.9 235.5L434.3 236L428.6 234.6L423.6 231.2L419.2 226.3L412 214.3L392.9 175.7L385.3 161.7L386 157.9L388.5 152.3L391 148.5L394.8 145.4L398.6 144L404.2 142.9ZM128.9 206.8L131.6 206L133.5 206.4L139.1 209.8L144.8 214.2L146.6 216.5L151.6 225.6L152.4 229.4L148.5 237.3L144.8 241.7L135.4 248.9L131.6 250.7L129.7 250.9L120.3 249.6L110.9 246.8L107.2 244.6L106.4 242.5L110.7 227.5L114.8 218.1L116.6 215.5L119.9 212.4ZM0 251.6L0 209.2L16.9 208.9L22.6 209.6L32.7 212.4L41.9 216.2L45.2 218.1L47.1 220L47.3 221.8L45.5 223.7L32 232.4L28.8 235L26.4 238.8L24.8 244.4L20.7 248.4L18.8 249.5L15 250.4Z"/><path fill="#4a77a3" fill-rule="evenodd" d="M579 139.8L601.6 137L601.6 188.6L597.8 190.6L594.1 193.7L584.7 204.5L582.8 203.5L578.6 195.5L569.1 180.5L564 175.5L556.5 170.4L551.1 159.8L549 157L545.2 153.3L540.2 150.4L539.6 149.2L538.5 148.5L541.5 146.6L547.1 145L562.1 143.7ZM411 144.8L453.1 143.1L462.5 144.8L466.2 146.2L469.2 148.5L469.9 150.4L470.1 157.9L469.3 163.6L463.7 171.1L460.8 176.7L456.7 182.4L453.4 189.9L452.3 197.4L451.5 216.2L449.8 225.6L447.4 229.8L445.6 231.5L441.8 233.4L436.2 234.5L430.5 233.9L425.6 231.2L421.1 226.8L417.4 221.5L412.2 212.4L389.9 167.3L389.3 165.4L390.7 157.9L392.5 154.2L394.8 151.1L397.9 148.5L400.4 147.3ZM128.1 208.7L131.6 207.6L133.5 208L137.9 210.6L142.8 214.3L146 218.1L148.5 222.2L150.9 227.5L151 229.4L148.5 235L144 240.6L135.4 247.5L131.6 249.2L129.7 249.4L122.7 248.2L117.8 246.3L112.3 242.5L111.1 240.6L110.7 238.8L111.5 229.4L112.8 225.4L115.4 220L119.9 214.3ZM0 240.3L0 212.9L18.8 212.8L24 214.3L32.4 218.1L35.3 220L36.4 221.8L35.7 223.7L33.9 225.6L24.4 233.1L18.8 239.4L15 240.4Z"/><path fill="#3a66a6" fill-rule="evenodd" d="M576.1 142.9L584.7 141.7L601.6 142.7L601.6 174.4L592.2 179.8L584.7 182.9L582.8 182.8L579 181L562.7 169.2L557.1 163.6L555.7 159.8L557 154.2L559.1 150.4L561.5 148.5L565.3 146.6ZM407.8 148.5L413.6 147.2L419.2 147.5L424.9 148.7L432.4 152L436.2 152.5L449.3 150.4L451.2 151.1L453.1 153.8L455.6 163.6L455.1 173L455.3 180.5L455.1 182.4L452.9 188L451.8 193.6L450.3 218.1L449.3 222.9L447.4 227.2L445.6 229.4L442.1 231.2L436.2 233.1L433.7 233.1L428.6 231.7L425.4 229.4L421.1 224.9L413.4 212.4L394.8 174.8L393.3 171.1L394.8 162.6L396.6 157.9L401.5 152.3L403.9 150.4ZM127.4 210.6L131.6 209.1L133.5 209.5L138.3 212.4L144.8 218.9L148.5 224.9L149.5 227.5L149 231.2L144.8 237.9L137.2 244.8L131.6 247.9L126 247.3L119.2 244.4L115.1 240.6L114 238.8L113 235L112.8 231.2L113.4 227.5L116.6 221L122.2 214.3ZM14.4 218.1L18.8 218.2L23.3 220L25.6 221.8L26 223.7L24.9 225.6L20.7 229.5L16.9 231.3L0 229.1L0 219.6Z"/><path fill="#2a5298" fill-rule="evenodd" d="M580.6 144.8L586.6 144.8L593 146.6L600.1 150.4L601.6 152.3L601.5 154.2L598.9 163.6L595.8 169.2L590.3 174.1L584.7 176.4L579 175.8L573.4 173L566.7 167.3L564.6 163.6L564.9 157.9L566.3 154.2L568.7 150.4L570.6 148.5L573.9 146.6ZM410.7 152.3L413.6 151.1L417.4 151.7L424.3 156L434.3 160.5L438.9 163.6L441.7 167.3L443.9 173L449.3 182.6L451.2 187L451.4 189.9L450.4 195.5L449.9 214.3L449.3 218.4L447.4 221.4L445.6 222.6L441.8 223.8L438 224.3L432.4 223.2L423 217.5L417.4 216.5L413.5 210.6L407.7 197.4L402.3 187.4L400.4 182.4L402.5 176.7L406.9 159.8L409.2 154.2ZM131.4 210.6L133.5 211L136 212.4L142 218.1L146.6 224.3L148.1 227.5L148.1 229.4L145.1 235L140 240.6L133.5 245.8L129.7 246.6L123.2 244.4L118.6 240.6L115.4 235L114.5 229.4L116.6 224L122.6 216.2L127.8 211.9Z"/><path fill="#1d3c85" fill-rule="evenodd" d="M578.9 148.5L584.7 148.2L588.4 149.6L591.7 152.3L593.6 156L593.9 161.7L592.8 165.4L590 169.2L587.5 171.1L584.7 172.3L580.9 172.5L575.3 170.4L571.5 167.3L569.4 163.6L569.3 159.8L571.4 154.2L575 150.4ZM415.9 161.7L419.2 160.5L424.9 160.5L428.6 161.7L432.4 164L435.2 167.3L439.9 177.4L446.9 189.9L448.2 193.6L449.3 210.6L448.4 214.3L447.4 216.2L443.7 219.6L441.8 220.4L438 220.9L432.4 219.1L429.2 216.2L418.8 201.2L412.8 184.2L410.3 174.8L410.3 171.1L411.4 167.3L413.6 163.6ZM129.7 212.4L131.6 212.1L133.5 212.5L136.1 214.3L142.9 221.8L146.4 227.5L146.5 229.4L145.8 231.2L142.9 235.2L135.9 242.5L131.6 245.1L127.3 244.4L121.8 240.6L117.9 235L116.6 231.6L116.3 229.4L117.6 225.6L121.7 220L126 215.2Z"/><path fill="#0f2466" fill-rule="evenodd" d="M576.8 154.2L579 152.9L582.8 152.4L586.6 153.9L588.4 156L589.3 157.9L589.6 161.7L588.4 164.9L586.2 167.3L582.8 168.7L580.9 168.8L577.2 167.5L574.8 165.4L573.8 163.6L573.5 159.8L575 156ZM420 163.6L423 163.1L426.8 163.7L429.9 165.4L431.7 167.3L444.5 191.8L446.7 210.6L445.6 214.4L443.7 216.6L441.8 217.8L439.9 218.4L436.2 218.2L432.6 216.2L421.8 199.3L413.9 176.7L413.3 173L414 169.2L414.9 167.3L417.4 164.8ZM129.6 214.3L131.6 213.8L133.5 214.3L135.4 215.8L142.2 223.7L144.4 227.5L144.5 229.4L142.4 233.1L135.8 240.6L133.5 242.7L131.6 243.4L127.8 242.7L124.1 239.7L119.5 233.1L118.4 229.4L118.7 227.5L121 223.7L126 217.6Z"/><path fill="#03084f" fill-rule="evenodd" d="M580.3 159.8L580.9 159.3L582.8 159.6L582.8 162.1L580.9 162.5L580 161.7ZM418.3 167.3L421.1 165.8L423 165.4L426.8 166.3L428.6 167.5L442 191.8L442.6 193.6L444.3 210.6L443.9 212.4L442.7 214.3L439.9 216L436.2 215.7L434.1 214.3L424.3 199.3L416 174.8L416 171.1ZM127.8 218.1L131.6 215.8L133.5 216.5L135.4 218.3L141.3 225.6L142.3 227.5L142.4 229.4L140.2 233.1L135.4 238.8L133.5 240.6L131.6 241.5L129.7 241.3L126 238.5L122 233.1L120.6 229.4L120.9 227.5L123.2 223.7Z"/></g></g><path d="M75.2 0V526.4M300.8 0V526.4M526.4 0V526.4M0 150.4H601.6M0 300.8H601.6M0 451.2H601.6" stroke="#b4b4b4" stroke-width="1.5" fill="none"/><g clip-path="url(#cpa)"><path d="M0 7.5L7.5 7.5L7.5 15L15 15L15 22.6L22.6 22.6L22.6 15L30.1 15L30.1 7.5L22.6 7.5L22.6 0M45.1 0L45.1 15L52.6 15L52.6 0M67.7 0L67.7 30.1L75.2 30.1L75.2 22.6L90.2 22.6L90.2 30.1L112.8 30.1L112.8 22.6L120.3 22.6L120.3 45.1L112.8 45.1L112.8 60.2L105.3 60.2L105.3 67.7L97.8 67.7L97.8 60.2L75.2 60.2L75.2 67.7L45.1 67.7L45.1 60.2L22.6 60.2L22.6 52.6L7.5 52.6L7.5 60.2L0 60.2M120.3 90.2L105.3 90.2L105.3 105.3L112.8 105.3L112.8 120.3L120.3 120.3L120.3 127.8L127.8 127.8L127.8 157.9L142.9 157.9L142.9 173L150.4 173L150.4 180.5L157.9 180.5L157.9 188L165.4 188L165.4 203L173 203L173 218.1L180.5 218.1L180.5 225.6L188 225.6L188 218.1L225.6 218.1L225.6 210.6L233.1 210.6L233.1 233.1L225.6 233.1L225.6 248.2L218.1 248.2L218.1 263.2L210.6 263.2L210.6 270.7L203 270.7L203 278.2L195.5 278.2L195.5 285.8L180.5 285.8L180.5 293.3L157.9 293.3L157.9 300.8L150.4 300.8L150.4 308.3L142.9 308.3L142.9 376L150.4 376L150.4 421.1L142.9 421.1L142.9 428.6L127.8 428.6L127.8 436.2L120.3 436.2L120.3 443.7L112.8 443.7L112.8 488.8L97.8 488.8L97.8 503.8L90.2 503.8L90.2 518.9L82.7 518.9L82.7 526.4M120.3 90.2L120.3 105.3L127.8 105.3L127.8 120.3L135.4 120.3L135.4 127.8L142.9 127.8L142.9 142.9L150.4 142.9L150.4 157.9L157.9 157.9L157.9 173L165.4 173L165.4 180.5L173 180.5L173 195.5L180.5 195.5L180.5 203L195.5 203L195.5 195.5L218.1 195.5L218.1 188L240.6 188L240.6 180.5L248.2 180.5L248.2 173L263.2 173L263.2 165.4L278.2 165.4L278.2 157.9L285.8 157.9L285.8 142.9L293.3 142.9L293.3 127.8L285.8 127.8L285.8 120.3L233.1 120.3L233.1 112.8L225.6 112.8L225.6 97.8L218.1 97.8L218.1 90.2L203 90.2L203 67.7L195.5 67.7L195.5 60.2L218.1 60.2L218.1 75.2L225.6 75.2L225.6 82.7L233.1 82.7L233.1 105.3L300.8 105.3L300.8 112.8L353.4 112.8L353.4 127.8L361 127.8L361 135.4L368.5 135.4L368.5 142.9L376 142.9L376 157.9L383.5 157.9L383.5 165.4L391 165.4L391 173L398.6 173L398.6 188L406.1 188L406.1 203L413.6 203L413.6 218.1L421.1 218.1L421.1 233.1L428.6 233.1L428.6 240.6L436.2 240.6L436.2 233.1L451.2 233.1L451.2 180.5L466.2 180.5L466.2 173L473.8 173L473.8 165.4L481.3 165.4L481.3 157.9L488.8 157.9L488.8 150.4L511.4 150.4L511.4 142.9L526.4 142.9L526.4 150.4L549 150.4L549 157.9L556.5 157.9L556.5 195.5L579 195.5L579 203L586.6 203L586.6 233.1L601.6 233.1M601.6 225.6L594.1 225.6L594.1 240.6L601.6 240.6M451.2 233.1L458.7 233.1L458.7 255.7L451.2 255.7ZM601.6 278.2L594.1 278.2L594.1 270.7L586.6 270.7L586.6 263.2L571.5 263.2L571.5 270.7L579 270.7L579 278.2L586.6 278.2L586.6 285.8L594.1 285.8L594.1 300.8L601.6 300.8M210.6 398.6L225.6 398.6L225.6 428.6L218.1 428.6L218.1 451.2L210.6 451.2L210.6 473.8L203 473.8L203 488.8L195.5 488.8L195.5 496.3L188 496.3L188 488.8L180.5 488.8L180.5 421.1L203 421.1L203 413.6L210.6 413.6ZM300.8 406.1L308.3 406.1L308.3 413.6L300.8 413.6Z" fill="none" stroke="#000" stroke-width="3.4" stroke-linejoin="miter" stroke-linecap="square"/></g><g clip-path="url(#cpa)"><path d="M89.5 -0.6C87.5 -0.3 80.3 0.3 77.5 1.5C74.6 2.7 73.4 4 72.5 6.4C71.6 8.9 71.2 14 71.8 16.4C72.4 18.7 73.2 19.5 76 20.6C78.9 21.8 84.6 22.2 88.8 23.5C93.1 24.7 97.8 28 101.6 28C105.4 28 108.2 25.1 111.5 23.5C114.8 21.9 116.3 19.5 121.5 18.5C126.7 17.6 134.9 17.7 142.7 17.8C150.5 17.9 161.7 18.3 168.3 19.2C174.9 20.2 177.7 21.1 182.5 23.5C187.2 25.8 191.9 29.9 196.7 33.4C201.4 37 206.1 41.5 210.9 44.8C215.6 48.1 220.8 49.5 225 53.3C229.3 57.1 232.9 63 236.4 67.5C239.9 72 242.5 76.5 246.3 80.2C250.1 84 253.9 87.8 259.1 90.2C264.3 92.5 270.9 93.8 277.6 94.4C284.2 95 293.2 93.2 298.8 93.7C304.5 94.2 307.8 96 311.6 97.3C315.4 98.6 317 100.6 321.5 101.5C326 102.5 335.5 103.7 338.6 102.9C341.6 102.2 340.5 99.9 340 97.3C339.5 94.7 337.9 90.9 335.7 87.3C333.6 83.8 329.3 80.7 327.2 76C325.1 71.3 323.7 63.7 323 59C322.3 54.2 322.5 51.6 323 47.6C323.4 43.6 326.3 38.6 325.8 34.8C325.3 31 323.2 28 320.1 24.9C317 21.8 311.6 18.3 307.4 16.4C303.1 14.5 298.8 13.3 294.6 13.5C290.3 13.8 286.3 15.9 281.8 17.8C277.3 19.7 271.9 23.4 267.6 24.9C263.4 26.4 260.5 27.3 256.3 27C252 26.8 246.6 24.7 242.1 23.5C237.6 22.3 232.6 22.1 229.3 19.9C226 17.8 224.3 13.4 222.2 10.7C220.1 8 219.1 5.6 216.5 3.6C213.9 1.6 208.3 -0.5 206.6 -1.4" fill="none" stroke="#e5007d" stroke-width="8.4" stroke-linecap="round" stroke-linejoin="round"/></g><rect x="0" y="0" width="601.6" height="526.4" fill="none" stroke="#000" stroke-width="3.6"/><path d="M75.2 0v-17M75.2 526.4v17M300.8 0v-17M300.8 526.4v17M526.4 0v-17M526.4 526.4v17M0 526.4h-17M601.6 526.4h17M0 300.8h-17M601.6 300.8h17M0 75.2h-17M601.6 75.2h17" stroke="#000" stroke-width="4" stroke-linecap="round" fill="none"/><path d="M0 0v-9.5M0 526.4v9.5M150.4 0v-9.5M150.4 526.4v9.5M225.6 0v-9.5M225.6 526.4v9.5M376 0v-9.5M376 526.4v9.5M451.2 0v-9.5M451.2 526.4v9.5M601.6 0v-9.5M601.6 526.4v9.5M0 451.2h-9.5M601.6 451.2h9.5M0 376h-9.5M601.6 376h9.5M0 225.6h-9.5M601.6 225.6h9.5M0 150.4h-9.5M601.6 150.4h9.5M0 0h-9.5M601.6 0h9.5" stroke="#000" stroke-width="1.6" fill="none"/><text class="t" x="75.2" y="579.2" text-anchor="middle">30E</text><text class="t" x="300.8" y="579.2" text-anchor="middle">60E</text><text class="t" x="526.4" y="579.2" text-anchor="middle">90E</text><text class="t" x="-34.5" y="83.8" text-anchor="end">30N</text><text class="t" x="-34.5" y="309.4" text-anchor="end">0</text><text class="t" x="-34.5" y="535" text-anchor="end">30S</text></g><text class="ti" x="1378.4" y="33.5" text-anchor="end">LM-NoAIO</text><text class="b" x="791.8" y="35.8">b</text>
<g transform="translate(1490.8 54.5)"><g clip-path="url(#cpa)"><g filter="url(#bl)"><path fill="#fbfbe6" fill-rule="evenodd" d="M11.1 1.9L13.2 0.9L16.9 0.4L20.7 1.2L22.6 2.3L24.4 4.5L25.3 7.5L24 11.3L21.9 13.2L18.8 14.4L15 14.6L11.1 13.2L9.1 11.3L7.7 7.5L9.1 3.8ZM589.7 60.2L601.6 58.3L601.6 249.6L596 248.4L590.3 246L586.6 243.2L582.8 239L577.6 229.4L573.4 215.3L570.9 210.6L565.9 205.9L554.6 199.3L549.6 193.6L546.4 186.1L543.3 172.3L541.4 168.2L539.6 165.7L535.8 162.8L530.2 160.3L522.6 158.2L517 157.6L511.4 158L504.2 159.8L498.2 162.2L492.6 165.4L469 186.1L464.4 191.7L462.2 197.4L461.4 204.9L461.4 216.2L462.5 233.1L462.3 238.8L460.8 244.4L458.7 247.8L456.8 249.7L453.1 251.8L449.3 252.1L437.5 248.2L426.8 245.4L423 243.8L416.2 238.8L410.4 231.2L401.4 214.3L385.4 181.7L374.4 165.4L364.7 147L355.3 130.8L351.6 125.3L345.9 119.2L340.3 115.6L334.6 113.6L320 110.9L319.6 109.2L321.5 107.1L332.8 108.2L338.4 108.2L374.1 102.3L392.9 102L413.6 103.3L421.1 102.4L432.4 100.2L443.7 99.1L447.4 98.2L448 97.8L446.8 95.9L444.1 94L434.3 89.2L430.3 86.5L427.3 82.7L422.1 71.4L422.8 67.7L424.9 65.3L426.8 64.4L438 61.8L443.7 62.1L470 70.3L503.8 79.3L526.4 83.9L543.3 85.6L545.2 85.6L547.6 84.6L558.2 73.3L562.1 70.4L574.6 65.8L582.8 61.8ZM483.2 113.6L481.5 114.7L484.4 124.1L486.9 126.4L490.7 127.7L507.6 128L524.5 126.4L526.6 126L530.1 124.1L530.5 122.2L528.5 120.3L524.5 118.8L511.4 116.3L488.8 113.2ZM0 319.7L0 180.8L18.8 180.9L45.1 184.9L50.8 186.4L81.8 201.2L86.5 205.1L95.2 216.2L99.6 219.9L101.5 220.6L103.4 219.9L105.3 216.7L107.5 210.6L109.6 206.8L117.6 199.3L126 188.9L129.7 186.1L131.6 185.8L133.5 186.2L137.2 189.1L143.4 197.4L150.4 205.5L156 215.6L161.8 223.7L163.3 227.5L163.3 229.4L162.7 231.2L158.2 238.8L150.4 249.5L139.1 260.7L133.5 263.9L109 271.3L101.4 274.5L97.8 277.2L95.1 280.1L90.6 291.4L89.4 293.3L86.5 295.7L79 298.8L62 302.3L47 307.8L30.1 311.7L18.8 316.1ZM581.8 257.6L584.7 257.1L588.4 258L601.6 265L601.6 303.7L594.1 300.7L588.4 296.3L582.8 289.1L577.8 280.1L575.5 272.6L575.4 267L577.4 261.3L579 259.3Z"/><path fill="#ecedc0" fill-rule="evenodd" d="M428.6 67.6L438 64.5L443.7 64.9L471 73.3L520.8 85.9L541.4 89.8L549 92.9L550.8 93.1L552.7 92.4L560.8 86.5L571.4 77.1L577.4 73.3L584.7 71L601.6 70.4L601.6 246.6L596 245.1L592.2 243.4L586.2 238.8L583.2 235L580.2 229.4L575.6 214.3L572.6 208.7L568.9 204.9L558.4 198.7L552.8 193.6L550.6 189.9L549.1 186.1L545.2 170.3L541.4 164.1L537.7 161.1L532 158.5L524 156L517 155L511.4 155.4L505.7 156.7L498.2 159.4L492.6 162.5L486.9 166.8L467.3 184.2L462.5 189.8L460.1 195.5L459.1 203L458.9 216.2L459.5 233.1L459.2 238.8L458 242.5L455 246.5L453.1 247.6L449.3 248.2L430.5 243.8L423 240.8L417.4 236.3L413.3 231.2L409 223.7L387.3 180.1L374.9 161.7L363.3 137.2L353.4 122.3L346.8 114.7L347.5 112.8L351.3 110.9L355.3 109.8L376 106.2L432.4 105.8L438 107.3L440.9 109L444.8 112.8L449.3 115.1L468.1 117.4L472.1 118.4L475 120.3L479.4 126L481.8 127.8L488.8 130.6L507.6 130.9L524.7 129.7L530.2 128.5L537 126L539.9 124.1L540.6 122.2L538.9 120.3L535.8 118.4L526.4 114.5L513.2 112.3L494.4 110.3L475.6 104.2L462.5 99.1L435 86.5L430.5 82.7L425.9 71.4L426.8 68.7ZM0 186.1L18.8 185.9L43.2 189.3L48.9 190.7L65.8 198.5L77.1 204.6L80.8 207.5L94 220L99.5 223.7L101.5 224.3L103.4 223.6L105.3 220.8L108.6 212.4L110.9 208.4L119.3 201.2L127.8 192L129.7 190.6L131.6 190.1L133.5 190.7L135.4 192.2L150.4 208.4L154.5 216.2L160.7 225.6L161.2 229.4L158.6 235L149.3 248.2L139.1 257.5L135.4 260.3L131.6 262L107.2 268.2L99.6 271.5L95.3 274.5L91.4 278.2L84 291.4L82.1 293.3L79 295.2L73.3 296.6L58.3 297.9L45.1 300.1L16.9 303.1L0 304.1ZM581 263.2L582.8 262.1L586.6 262.1L601.6 268.6L601.6 300.4L596 298.1L592 295.2L586.9 289.5L581.9 282L579.4 276.4L578.5 270.7L579 266.6Z"/><path fill="#cdd39f" fill-rule="evenodd" d="M436.6 67.7L439.9 67L443.7 67.6L470 75.8L500.1 82.9L522.6 89.2L539.6 92.8L543.3 94.2L549 98.9L550.8 99.4L554.6 98.6L564.8 92.1L582.8 85.9L601.6 86.2L601.6 244.3L594.1 241.7L590.3 239.3L586.6 235.8L583.3 231.2L581.5 227.5L577.2 213.1L573.7 206.8L569.6 202.9L558.4 196.3L554 191.8L550.7 184.2L547.1 169.8L543.3 163.3L539.6 160L535.8 157.9L524.5 154.1L517 152.9L511.4 153.2L505.7 154.5L498.2 157.2L492.6 160.1L486.9 164.2L466.4 182.4L461.2 188L458.7 193.1L457.5 199.3L456.6 236.9L455.5 240.6L453.1 243.6L451.2 244.5L447.4 244.6L430.5 241.7L424.9 239.5L419 235L415.8 231.2L412.3 225.6L389.2 179.5L377.1 161.7L371.8 150.4L368.1 139.1L368.3 137.2L371.7 133.5L374.1 127.6L376 125L377.9 125.1L381.6 127L385.4 128L394.8 128.4L400.4 127.5L403.6 126L404.5 124.1L403.7 114.7L404.3 112.8L408.2 110.9L413.6 110.4L422.7 110.9L430.5 112.1L432.5 112.8L438 117.4L443.7 119.3L468.1 122.8L470 123.7L474.8 127.8L478.3 129.7L485 132.3L490.7 133.4L507.6 133.4L526.4 132.1L545.2 126.9L562.1 125.4L570.4 124.1L575.4 122.2L575.9 120.3L573.1 118.4L564 115.4L549 117.3L545.2 117.2L538.9 114.7L530.2 110L526.4 109.1L496.3 108.1L473.8 100.2L438 85.1L434.1 82.7L431.5 79L429.9 73.3L430 71.4L432.4 69.6ZM0 191.8L18.8 191.1L43.2 194.2L48.9 195.6L73.3 207.8L79 211.7L92.1 222.8L97.8 226.1L101.5 227.2L103.4 226.6L105.3 224.3L110.2 212.4L112.8 208.9L129.7 194.7L131.6 194.1L133.5 194.8L148.7 208.7L151.3 212.4L154.2 218.4L158.9 225.6L159.6 229.4L156.9 235L148.5 246.8L137.2 256.5L131.6 259.7L105.3 265.2L96.6 268.8L92.1 271.9L88.4 275.4L79 289.5L77.2 291.4L75.2 292.4L71.4 292.9L58.3 292.4L0 288.1ZM584.2 267L586.6 266.7L588.4 267.2L596 270.1L601.6 271.6L601.6 297.6L596.5 295.2L592.2 291.5L584.7 281.2L582.4 276.4L581.8 272.6L582.3 268.8Z"/><path fill="#a9b888" fill-rule="evenodd" d="M434.8 71.4L438 70L441.8 69.9L468.1 78L500.1 85.1L520.8 91.7L539.6 96.2L542.2 97.8L543.4 99.6L544.6 105.3L547.1 106.3L551.4 107.2L552.7 109L547.5 110.9L545.2 110.8L542.5 109L541.1 107.2L537.7 105.9L533.9 105.3L502 106.1L494.4 105.3L468.1 95.1L438 82.1L436 80.8L433.7 77.1L433.3 73.3ZM582.3 94L601.6 92.9L601.6 114.5L586.6 115.3L581.1 114.7L576.3 112.8L567.8 108.4L562.1 106.4L560.8 105.3L565.9 101.5L572.4 97.8ZM580.9 127.8L601.6 123.2L601.6 242.3L594.1 239.4L588.4 235L585.4 231.2L583.4 227.5L578.6 212.4L575.3 206.1L571.5 202.3L560.2 195.5L556.2 191.8L553.9 188L552.5 184.2L548.6 169.2L546.8 165.4L544.1 161.7L539.6 158L535.5 156L522.6 151.7L517 150.9L511.4 151.3L505.7 152.6L498.2 155.3L492.6 158.1L485.2 163.6L473.8 174.1L463.8 182.4L460.3 186.1L458.1 189.9L456.4 195.5L455.7 203L454.9 231.2L453.8 236.9L453.1 238.8L451.4 240.6L449.3 241.5L445.6 241.6L432.4 240.1L426.8 238.3L423 236.1L419.7 233.1L414.3 225.6L391 179.5L377 157.9L374.5 152.3L372.9 146.6L372.9 144.8L374.1 143.3L383.5 137L389.2 134.4L394.8 133.3L413.6 133.1L434.3 132.1L468.1 129.5L471.9 130.3L488.8 135.8L509.5 135.7L526.4 134.5L545.2 130.1L567.1 129.7ZM0 280.2L0 196.9L18.8 196L47 199.8L60.2 205.7L73.3 212.6L90.5 225.6L97.8 229L101.5 229.8L103.4 229.3L105.3 227.2L110.8 214.3L113.4 210.6L127.8 199.6L131.6 197.8L135.4 199.7L144.8 206.9L148.5 210.5L157.3 225.6L158 229.4L156.4 233.1L148.5 244.9L144.8 248.5L137.2 254.3L131.6 257.5L116.6 259.6L105.3 261.8L99.6 263.2L94 265.4L90.2 267.6L86.4 270.7L83.2 274.5L77.1 284L75.2 285.7L73.3 286.3L62 284.9L45.1 281.5ZM47 236.7L47 238.8L48.9 238L49.1 236.9ZM587.4 274.5L588.4 273.5L590.3 273.1L601.6 274.4L601.6 293.1L597.8 292.5L596 291.5L592.5 287.6L588.3 280.1L587.2 276.4Z"/><path fill="#8ea68a" fill-rule="evenodd" d="M437.5 73.3L439.9 72.5L441.8 72.6L468.1 80.7L500.1 87.3L520.8 94.6L532.4 97.8L536.3 99.6L531.4 101.5L520.8 102.6L505.7 103.7L496.3 103.5L476.7 95.9L439.9 80.1L438.1 79L436.7 77.1L436.4 75.2ZM565.9 132.9L601.6 127.2L601.6 240.5L594.1 237.3L590.3 234.4L587.5 231.2L584.3 225.6L579 209.7L575.3 203.8L571.5 200.5L560.4 193.6L556.9 189.9L554.2 184.2L549.4 167.3L545.2 160.7L541.4 157.4L535.8 154.5L522.6 149.9L517 149.1L511.4 149.5L505.7 150.8L498.2 153.5L492.6 156.3L485.1 161.7L473.8 172.1L461.5 182.4L457.2 188L455 195L453.6 225.6L452.8 231.2L451.2 235.9L449.3 237.9L445.6 238.9L434.3 238.6L428.6 237.3L424.9 235.3L422 233.1L419.2 230.1L416.2 225.6L392.9 179.9L389.2 173.4L379.9 159.8L375.7 150.4L376 147.8L383.5 141.8L391 138L396.7 136.7L413.6 136.4L468.1 132.7L471.9 133.2L483.8 137.2L488.8 138.4L509.5 138L526.4 136.9L545.2 132.9ZM0 201.3L20.7 200.3L37.6 202.4L47 204.4L58.3 209.3L73.3 217.3L82.7 224.6L88.4 228.1L95.9 231.2L101.5 232.4L103.4 231.9L105.3 230.1L111.3 216.2L114.7 211.3L127.8 201.9L131.6 200.5L135.4 202.1L146.8 210.6L149.6 214.3L155.7 225.6L156.6 229.4L155 233.1L148.5 243.1L142.9 248.3L133.5 254.8L129.7 255.9L110.9 257.3L97.8 259.8L90.2 262L86.5 263.8L82.7 266.5L80.5 268.8L75.2 276.7L73.3 277.7L68.6 276.4L48.9 266.7L47 266.6L37.6 270.2L26.3 272.4L16.9 273.3L0 273.3ZM47 232.8L43.2 234.3L40.7 236.9L40.6 238.8L41.4 239.9L45.1 243L47 243.7L50.8 243L54.7 240.6L56.6 238.8L56.9 236.9L55.5 235L51.4 233.1ZM596.2 278.2L601.6 277.4L601.6 284.2L595.6 282L594.2 280.1Z"/><path fill="#7d9c90" fill-rule="evenodd" d="M446 79L447.4 78.3L451.2 78.8L466.2 83.2L500.1 89.5L512.1 94L518.7 97.8L517.4 99.6L513.2 100.6L502 101.6L496.3 101.3L474.2 92.1ZM565.9 135.4L601.6 129.7L601.6 238.7L597.8 237.4L594.1 235.3L588.2 229.4L585.2 223.7L580 208.7L576.5 203L572.2 199.3L562.1 193.1L558.4 189.3L555.7 184.2L550.8 167.3L548.9 163.6L546.2 159.8L541.9 156L537.7 153.8L524.5 148.7L517 147.3L511.4 147.8L505.7 149.2L498.2 151.8L492.6 154.5L485 159.9L473.8 170.4L460.6 181.2L456.6 186.1L454.8 189.9L453.8 193.6L453.1 199.3L452.2 223.7L451.2 229.4L449.6 233.1L447.4 235.3L441.8 236.8L434.3 236.9L428.6 235.5L424.9 233.4L422.4 231.2L416.8 223.7L392.9 177L380.6 157.9L379.6 156L379 152.3L381.3 148.5L385.2 144.8L391 141.3L396.7 139.8L413.6 139.1L432.4 137.4L451.2 136.9L468.1 135.6L471.9 136.1L483.2 139.7L488.8 140.7L509.5 140.3L526.4 139.3L545.2 135.6ZM129.6 203L131.6 202.6L135.4 204L146.6 212.3L148.5 214.8L155 227.5L154.5 231.2L148.5 241.3L142.9 246.6L133.5 253L129.7 254.1L114.7 253.9L92.1 256.4L84.6 257.9L75.2 261.9L73.3 261.9L69.6 259.8L65.8 256.6L62 252L59.7 248.2L59.1 246.3L59.6 244.4L63.6 238.8L63.9 236.9L63.4 235L61.7 233.1L57.1 231.2L50.8 230.2L47 230.3L39.7 233.1L37.2 235L35.7 236.9L35.4 238.8L36.1 240.6L38.9 244.4L39.6 246.3L39.4 248.2L35.8 257.6L32 262.3L26.8 265.1L20.1 267L0 268.1L0 204L20.7 203.3L33.8 205.3L47 208.4L55.7 212.4L75.2 223.8L86.4 231.2L94 233.8L101.5 235L103.4 234.5L105.3 233L106.4 231.2L112.7 216.2L114.7 213.3L120.3 208.8Z"/><path fill="#6a8d9a" fill-rule="evenodd" d="M476.9 88.4L481.3 88.4L500.1 91.7L508.9 95.9L509.4 97.8L502 99.3L496.3 99L480.8 92.1L477.5 90.2ZM564 137.9L601.6 131.8L601.6 233.2L594.1 233.2L591.9 231.2L587.7 225.6L581.4 208.7L578.1 203L573.4 198.6L562.6 191.8L559.2 188L556.5 182L552.1 167.3L549.3 161.7L547.1 158.7L543.3 155.4L539.6 153.2L522.6 146.1L517 145.4L511.4 145.7L503.8 147.9L492.6 152.8L485 158.1L471.9 170.4L458.7 181L454.9 186.1L452.9 191.8L452 199.3L451.6 216.2L449.8 227.5L448 231.2L445.9 233.1L439.9 235.1L434.3 235.2L428.6 233.7L424.9 231.4L421.1 227.5L415.4 218.1L395.3 178.6L383.9 159.8L385.3 152.3L387 148.5L390.9 144.8L396.7 142.6L432.4 139.8L451.2 140.2L468.1 138.9L488.8 143.1L507.6 143.3L526.4 142.1L545.2 138.3ZM129.4 204.9L131.6 204.4L133.5 204.8L144.9 212.4L148.5 217.2L153.6 227.5L153.2 231.2L148.5 239.4L144.8 243.4L137.2 249.2L133.5 251.4L129.7 252.5L112.8 251L88.4 250.3L77.1 249.1L73.3 247.1L71.4 245L70.4 242.5L70.4 240.6L71.9 233.1L73.3 230.9L75.2 230.8L82.7 234.8L88.4 236.5L99.6 238.4L103.4 237.8L105.3 236.3L107.2 233.5L112.8 219.1L115.7 214.3L120.3 210.4ZM0 262.3L0 206.4L18.8 205.9L26.3 207.1L40.9 210.6L47 212.7L52.8 216.2L57.8 220L59.4 221.8L60.2 223.7L59.6 225.6L58.3 226.1L47 227.7L39.5 230.3L34.3 233.1L32.1 235L30.2 238.8L31.1 244.4L30.1 247.9L24.9 255.7L20.7 259.7L15 261.3Z"/><path fill="#5a84a0" fill-rule="evenodd" d="M493.6 94L498.2 94L501.2 95.9L498.2 96.5L496.3 96.1ZM564 140.5L601.6 134.1L601.6 205.3L594.8 214.3L588.4 219.2L586.6 218.8L585.3 214.3L582.8 208.7L579 202.3L573.4 196.7L569.6 194.2L567.7 193.6L564 189.9L560.3 182.4L558 178.6L556.5 177.1L555.5 173L552.6 165.4L548.1 157.9L545.2 155.2L541.4 152.7L528.8 146.6L531.4 144.8L543.3 141.6ZM396.7 146.2L432.4 142.9L451.2 144.6L470 143L485.5 146.6L488.4 148.5L489 152.3L487.3 154.2L471.1 169.2L466.2 173.1L462.5 175L460.6 176.7L454 184.2L452.3 188L451 195.5L450.8 212.4L449.3 222.8L447.8 227.5L446.6 229.4L443.7 231.8L440 233.1L434.3 233.5L428.6 231.9L424.9 229.4L421.1 225L415.5 215.3L399.1 182.4L391.7 169.2L391.1 167.3L391.4 157.9L391.8 152.3L393 148.5L394.8 146.9ZM128.9 206.8L131.6 206L133.5 206.4L139.1 209.8L144.8 214.2L146.6 216.5L151.6 225.6L152.4 229.4L148.5 237.3L144.8 241.7L135.4 248.9L131.6 250.7L129.7 250.9L120.3 249.6L110.9 246.8L107.2 244.6L106.4 242.5L110.7 227.5L114.8 218.1L116.6 215.5L119.9 212.4ZM0 251.6L0 209.2L16.9 208.9L22.6 209.6L32.7 212.4L41.9 216.2L45.2 218.1L47.1 220L47.3 221.8L42.6 225.6L32 230.9L28.8 233.1L25.8 236.9L23.2 244.4L18.8 249.2L15 250.4Z"/><path fill="#4a77a3" fill-rule="evenodd" d="M579 139.9L601.6 137L601.6 188.7L597.8 190.6L594.1 193.7L584.7 204.5L582.8 203.5L578.5 195.5L568 180.5L562.4 174.8L556.5 170.6L551.1 159.8L549 157L545.2 153.3L540.2 150.4L539.6 149.2L538.5 148.5L541.6 146.6L547.1 145L562.1 143.7ZM419.2 167.2L424.9 164.5L428.6 164.4L432.4 165.6L435.2 167.3L437 169.2L439.2 173L448.2 189.9L449.2 193.6L449.3 196.6L449.8 210.6L449.3 216.2L447.4 218.6L443.7 220.8L438 220.9L434.3 219L431.7 216.2L424.1 201.2L416.1 182.4L414.7 176.7L415.4 173L417.4 169.2ZM128.1 208.7L131.6 207.6L133.5 208L137.9 210.6L142.8 214.3L146 218.1L148.5 222.2L150.9 227.5L151 229.4L148.5 235L144 240.6L135.4 247.5L131.6 249.2L129.7 249.4L122.7 248.2L117.8 246.3L112.3 242.5L111.1 240.6L110.7 238.8L111.5 229.4L112.8 225.4L115.4 220L119.9 214.3ZM0 240.3L0 212.9L18.8 212.8L24 214.3L32.4 218.1L35.3 220L36.4 221.8L35.7 223.7L33.7 225.6L25.3 231.2L18.8 239.1L16.9 240.1Z"/><path fill="#3a66a6" fill-rule="evenodd" d="M577.1 142.9L584.7 141.9L601.6 142.7L601.6 175L592.2 181L584.7 184.2L580.9 183.6L575.3 180.2L569.6 176L558.3 165.4L555.9 161.7L555.6 159.8L557 154.2L559.2 150.4L561.7 148.5L565.6 146.6ZM422.5 169.2L424.9 168.1L428.6 168L431.7 169.2L433.9 171.1L445.5 191.8L448 210.6L446.9 214.3L443.7 217.2L439.9 217.8L436 216.2L434.4 214.3L426.8 199.3L418.5 178.6L418.5 174.8L419.1 173L420.3 171.1ZM127.4 210.6L131.6 209.1L133.5 209.5L138.3 212.4L144.8 218.9L148.5 224.9L149.5 227.5L149 231.2L144.8 237.9L137.2 244.8L131.6 247.9L126 247.3L119.2 244.4L115.1 240.6L114 238.8L113 235L112.8 231.2L113.4 227.5L116.6 221L122.2 214.3ZM14.4 218.1L18.8 218.2L22.6 219.6L25.6 221.8L26 223.7L24.8 225.6L20.7 229.3L16.9 231.3L0 229.1L0 219.6Z"/><path fill="#2a5298" fill-rule="evenodd" d="M574.6 146.6L580.9 145L588.4 145.5L596.8 148.5L599.9 150.4L601.6 152.3L600.6 159.8L598.2 167.3L594.2 173L588.4 177L582.8 178.4L577.2 177L573.4 174.9L569.6 171.9L567 169.2L564.4 165.4L563.9 163.6L564 159.8L566.2 154.2L569.6 149.7ZM424.5 171.1L426.8 170.5L428.6 170.7L432.1 173L443.7 193.2L445.4 210.6L445 212.4L443.7 214.3L441.8 215.2L439.9 215.2L438 214.5L436.3 212.4L429.2 199.3L426.2 191.8L421.2 178.6L420.9 176.7L422.2 173ZM131.4 210.6L133.5 211L136 212.4L142 218.1L146.6 224.3L148.1 227.5L148.1 229.4L145.1 235L140 240.6L133.5 245.8L129.7 246.6L123.2 244.4L118.6 240.6L115.4 235L114.5 229.4L116.6 224L122.6 216.2L127.8 211.9Z"/><path fill="#1d3c85" fill-rule="evenodd" d="M580.4 148.5L584.7 148.5L590.3 151.1L593.1 154.2L594.9 159.8L594.3 165.4L592.2 169.4L588.3 173L582.8 174.8L579 174.3L573.4 171.3L569.7 167.3L568.2 163.6L569 157.9L571.5 153.7L575.3 150.4ZM424.6 174.8L426.8 173.6L428.6 174L429.6 174.8L441.7 193.6L442.1 206.8L441.8 209.7L440.9 210.6L439.9 210.8L438 209.2L430.7 197.4L424.9 180.5L424 176.7ZM129.7 212.4L131.6 212.1L133.5 212.5L136.1 214.3L142.9 221.8L146.4 227.5L146.5 229.4L145.8 231.2L142.9 235.2L135.9 242.5L131.6 245.1L127.3 244.4L121.8 240.6L117.9 235L116.6 231.6L116.3 229.4L117.6 225.6L121.7 220L126 215.2Z"/><path fill="#0f2466" fill-rule="evenodd" d="M576.4 154.2L579 152.8L582.8 152.3L586.6 153.7L589.1 156L590.8 159.8L590.9 163.6L589.4 167.3L586.6 170.1L582.8 171.5L579 171.1L575.5 169.2L573.4 167L571.9 163.6L572.2 159.8L574.3 156ZM431.7 188L432.4 186.8L434.3 188L438.7 193.6L439.3 195.5L438 200.4L436.2 200.1L433.6 197.4L432.3 193.6ZM129.6 214.3L131.6 213.8L133.5 214.3L135.4 215.8L142.2 223.7L144.4 227.5L144.5 229.4L142.4 233.1L135.8 240.6L133.5 242.7L131.6 243.4L127.8 242.7L124.1 239.7L119.5 233.1L118.4 229.4L118.7 227.5L121 223.7L126 217.6Z"/><path fill="#03084f" fill-rule="evenodd" d="M578.4 157.9L580.9 156.9L582.8 157L584.7 157.8L586.3 159.8L586.7 163.6L584.7 166.5L582.8 167.5L580.9 167.6L579 167L577.1 165.4L576.2 163.6L576.1 161.7L576.7 159.8ZM127.8 218.1L131.6 215.8L133.5 216.5L135.4 218.3L141.3 225.6L142.3 227.5L142.4 229.4L140.2 233.1L135.4 238.8L133.5 240.6L131.6 241.5L129.7 241.3L126 238.5L122 233.1L120.6 229.4L120.9 227.5L123.2 223.7Z"/></g></g><path d="M75.2 0V526.4M300.8 0V526.4M526.4 0V526.4M0 150.4H601.6M0 300.8H601.6M0 451.2H601.6" stroke="#b4b4b4" stroke-width="1.5" fill="none"/><g clip-path="url(#cpa)"><path d="M0 7.5L7.5 7.5L7.5 15L15 15L15 22.6L22.6 22.6L22.6 15L30.1 15L30.1 7.5L22.6 7.5L22.6 0M45.1 0L45.1 15L52.6 15L52.6 0M67.7 0L67.7 30.1L75.2 30.1L75.2 22.6L90.2 22.6L90.2 30.1L112.8 30.1L112.8 22.6L120.3 22.6L120.3 45.1L112.8 45.1L112.8 60.2L105.3 60.2L105.3 67.7L97.8 67.7L97.8 60.2L75.2 60.2L75.2 67.7L45.1 67.7L45.1 60.2L22.6 60.2L22.6 52.6L7.5 52.6L7.5 60.2L0 60.2M601.6 233.1L586.6 233.1L586.6 203L579 203L579 195.5L556.5 195.5L556.5 157.9L549 157.9L549 150.4L526.4 150.4L526.4 142.9L511.4 142.9L511.4 150.4L488.8 150.4L488.8 157.9L481.3 157.9L481.3 165.4L473.8 165.4L473.8 173L466.2 173L466.2 180.5L451.2 180.5L451.2 233.1L436.2 233.1L436.2 240.6L428.6 240.6L428.6 233.1L421.1 233.1L421.1 218.1L413.6 218.1L413.6 203L406.1 203L406.1 188L398.6 188L398.6 173L391 173L391 165.4L383.5 165.4L383.5 157.9L376 157.9L376 142.9L368.5 142.9L368.5 135.4L361 135.4L361 127.8L353.4 127.8L353.4 112.8L300.8 112.8L300.8 105.3L255.7 105.3L255.7 97.8L233.1 97.8L233.1 82.7L225.6 82.7L225.6 75.2L173 75.2L173 67.7L142.9 67.7L142.9 120.3L150.4 120.3L150.4 127.8L173 127.8L173 135.4L180.5 135.4L180.5 150.4L188 150.4L188 165.4L195.5 165.4L195.5 188L188 188L188 195.5L195.5 195.5L195.5 203L180.5 203L180.5 218.1L225.6 218.1L225.6 210.6L233.1 210.6L233.1 233.1L225.6 233.1L225.6 248.2L218.1 248.2L218.1 263.2L210.6 263.2L210.6 270.7L203 270.7L203 278.2L195.5 278.2L195.5 285.8L180.5 285.8L180.5 293.3L157.9 293.3L157.9 300.8L150.4 300.8L150.4 308.3L142.9 308.3L142.9 376L150.4 376L150.4 421.1L142.9 421.1L142.9 428.6L127.8 428.6L127.8 436.2L120.3 436.2L120.3 443.7L112.8 443.7L112.8 488.8L97.8 488.8L97.8 503.8L90.2 503.8L90.2 518.9L82.7 518.9L82.7 526.4M225.6 112.8L233.1 112.8L233.1 120.3L255.7 120.3L255.7 127.8L225.6 127.8ZM601.6 225.6L594.1 225.6L594.1 240.6L601.6 240.6M451.2 233.1L458.7 233.1L458.7 255.7L451.2 255.7ZM601.6 278.2L594.1 278.2L594.1 270.7L586.6 270.7L586.6 263.2L571.5 263.2L571.5 270.7L579 270.7L579 278.2L586.6 278.2L586.6 285.8L594.1 285.8L594.1 300.8L601.6 300.8M210.6 398.6L225.6 398.6L225.6 428.6L218.1 428.6L218.1 451.2L210.6 451.2L210.6 473.8L203 473.8L203 488.8L195.5 488.8L195.5 496.3L188 496.3L188 488.8L180.5 488.8L180.5 421.1L203 421.1L203 413.6L210.6 413.6ZM300.8 406.1L308.3 406.1L308.3 413.6L300.8 413.6Z" fill="none" stroke="#000" stroke-width="3.4" stroke-linejoin="miter" stroke-linecap="square"/></g><g clip-path="url(#cpa)"><path d="M89.5 -0.6C87.5 -0.3 80.3 0.3 77.5 1.5C74.6 2.7 73.4 4 72.5 6.4C71.6 8.9 71.2 14 71.8 16.4C72.4 18.7 73.2 19.5 76 20.6C78.9 21.8 84.6 22.2 88.8 23.5C93.1 24.7 97.8 28 101.6 28C105.4 28 108.2 25.1 111.5 23.5C114.8 21.9 116.3 19.5 121.5 18.5C126.7 17.6 134.9 17.7 142.7 17.8C150.5 17.9 161.7 18.3 168.3 19.2C174.9 20.2 177.7 21.1 182.5 23.5C187.2 25.8 191.9 29.9 196.7 33.4C201.4 37 206.1 41.5 210.9 44.8C215.6 48.1 220.8 49.5 225 53.3C229.3 57.1 232.9 63 236.4 67.5C239.9 72 242.5 76.5 246.3 80.2C250.1 84 253.9 87.8 259.1 90.2C264.3 92.5 270.9 93.8 277.6 94.4C284.2 95 293.2 93.2 298.8 93.7C304.5 94.2 307.8 96 311.6 97.3C315.4 98.6 317 100.6 321.5 101.5C326 102.5 335.5 103.7 338.6 102.9C341.6 102.2 340.5 99.9 340 97.3C339.5 94.7 337.9 90.9 335.7 87.3C333.6 83.8 329.3 80.7 327.2 76C325.1 71.3 323.7 63.7 323 59C322.3 54.2 322.5 51.6 323 47.6C323.4 43.6 326.3 38.6 325.8 34.8C325.3 31 323.2 28 320.1 24.9C317 21.8 311.6 18.3 307.4 16.4C303.1 14.5 298.8 13.3 294.6 13.5C290.3 13.8 286.3 15.9 281.8 17.8C277.3 19.7 271.9 23.4 267.6 24.9C263.4 26.4 260.5 27.3 256.3 27C252 26.8 246.6 24.7 242.1 23.5C237.6 22.3 232.6 22.1 229.3 19.9C226 17.8 224.3 13.4 222.2 10.7C220.1 8 219.1 5.6 216.5 3.6C213.9 1.6 208.3 -0.5 206.6 -1.4M120.5 78.1C118.9 77.2 113.1 75.6 110.8 73C108.5 70.3 107.2 65.8 106.7 62.2C106.3 58.6 106.7 55 108.1 51.4C109.4 47.8 112.1 43.7 114.8 40.6C117.5 37.4 120.7 34.5 124.3 32.5C127.9 30.5 132.1 29 136.4 28.4C140.7 27.9 145.4 28.2 149.9 29.1C154.4 30 159.1 31.9 163.4 33.8C167.7 35.7 171.9 38.1 175.5 40.6C179.1 43.1 182.7 46 185 48.7C187.2 51.4 187.9 54.3 189 56.8C190.2 59.2 189.7 61.5 191.7 63.5C193.8 65.5 198 66.7 201.2 68.9C204.3 71.2 207.7 73.6 210.6 77C213.5 80.4 216 85.3 218.7 89.1C221.4 93 224.1 97 226.8 99.9C229.5 102.9 231.8 104.7 234.9 106.7C238.1 108.7 240.8 110.6 245.7 112.1C250.6 113.5 258.5 114.6 264.6 115.5C270.7 116.4 277.2 116.8 282.1 117.5C287.1 118.2 292.9 117.9 294.3 119.5C295.6 121.1 292.5 123.9 290.2 126.9C288 130 285.1 133.7 280.8 137.7C276.5 141.8 270.7 146.7 264.6 151.2C258.5 155.7 251.1 160.7 244.4 164.7C237.6 168.7 230.6 172.7 224.1 175.5C217.6 178.3 210.6 180.3 205.2 181.6C199.8 182.8 196.2 183.3 191.7 182.9C187.2 182.6 182.1 181.5 178.2 179.5C174.4 177.6 171.5 174.6 168.8 171.4C166.1 168.3 164.1 164.7 162.1 160.7C160 156.6 158.5 151.9 156.7 147.2C154.9 142.4 153.3 137.3 151.3 132.3C149.2 127.4 147.2 122.9 144.5 117.5C141.8 112.1 138.2 105.3 135.1 99.9C131.9 94.5 127.9 88.8 125.6 85.1C123.3 81.4 122 78.9 121.3 77.7" fill="none" stroke="#e5007d" stroke-width="8.4" stroke-linecap="round" stroke-linejoin="round"/></g><rect x="0" y="0" width="601.6" height="526.4" fill="none" stroke="#000" stroke-width="3.6"/><path d="M75.2 0v-17M75.2 526.4v17M300.8 0v-17M300.8 526.4v17M526.4 0v-17M526.4 526.4v17M0 526.4h-17M601.6 526.4h17M0 300.8h-17M601.6 300.8h17M0 75.2h-17M601.6 75.2h17" stroke="#000" stroke-width="4" stroke-linecap="round" fill="none"/><path d="M0 0v-9.5M0 526.4v9.5M150.4 0v-9.5M150.4 526.4v9.5M225.6 0v-9.5M225.6 526.4v9.5M376 0v-9.5M376 526.4v9.5M451.2 0v-9.5M451.2 526.4v9.5M601.6 0v-9.5M601.6 526.4v9.5M0 451.2h-9.5M601.6 451.2h9.5M0 376h-9.5M601.6 376h9.5M0 225.6h-9.5M601.6 225.6h9.5M0 150.4h-9.5M601.6 150.4h9.5M0 0h-9.5M601.6 0h9.5" stroke="#000" stroke-width="1.6" fill="none"/><text class="t" x="75.2" y="579.2" text-anchor="middle">30E</text><text class="t" x="300.8" y="579.2" text-anchor="middle">60E</text><text class="t" x="526.4" y="579.2" text-anchor="middle">90E</text><text class="t" x="-34.5" y="83.8" text-anchor="end">30N</text><text class="t" x="-34.5" y="309.4" text-anchor="end">0</text><text class="t" x="-34.5" y="535" text-anchor="end">30S</text></g><text class="ti" x="2086.4" y="33.8" text-anchor="end">LM-NoEAP</text><text class="b" x="1498.8" y="34.9">c</text>
<g transform="translate(76.8 692.7)"><g clip-path="url(#cpa)"><g filter="url(#bl)"><path fill="#fbfbe6" fill-rule="evenodd" d="M0 0L68.7 0L68.5 7.5L67.2 11.3L65.5 13.2L62.4 15L56.3 16.9L30.1 18.4L0 18.9ZM599 9.4L601.6 5.8L601.6 270.2L599.4 272.6L599.4 274.5L601.6 277L601.6 308.7L596 306.4L589.8 302.7L586.1 298.9L584.3 295.2L581.2 285.8L577 276.4L575.5 270.7L575.1 265.1L576.9 250L576.3 244.4L573.4 237.3L569.6 231.3L565.9 227.4L562.1 226L550.8 227L537.7 227.1L532 226.3L526.4 223.7L524.5 221.8L522 218.1L519.8 212.4L515.4 197.4L507.6 182.1L503.8 177.2L500.8 174.8L496.7 173L492.6 172.1L488.8 172L485 172.7L481.3 174.3L477.5 176.9L471.9 183.9L462.5 199.2L456.6 210.6L451.2 218.1L443.7 224.8L424.9 236.7L419.2 242L408 259.2L406.1 263.3L402.7 274.5L400.7 278.2L398.6 280.9L396.7 282.4L392.9 284.2L389.2 284.8L383.5 284.7L376 282.9L372.2 281.2L367.9 278.2L364.5 274.5L359.9 267L351 250L345.4 236.9L341 221.8L338.9 212.4L338.4 204.9L338.5 189.9L337.2 182.4L334.7 176.7L325.1 161.7L320.1 150.4L317.7 135.3L320.5 127.8L323.4 124.1L328.5 120.3L332.8 118.4L353.4 113.3L357.2 112.9L372.2 117.4L385.4 119L388 120.3L392.9 124.6L394.8 125.5L398.6 126.1L449.3 126.2L471.9 128.8L503.8 128.7L510.6 127.8L515.6 126L518.9 124.1L519.9 122.2L516.5 120.3L509.5 119.5L475.6 120L466.2 119.4L458.7 117.5L449.3 113.2L432.4 107.3L413.6 106.6L408 105.6L400.4 102.7L390.6 95.9L387.5 92.1L384.1 84.6L381.6 82.2L377.9 79.7L372.2 78.6L357.2 81.1L353.4 81L349.7 80L348.1 79L348.1 77.1L350.1 75.2L354.4 73.3L366.6 70.4L374.2 67.7L383.5 66.4L389.2 66.8L406.1 70.1L413.6 71L486.9 71.4L503.8 75.7L507.6 76.2L517 74.8L532 71.2L539.6 68.1L547.1 62.7L554.6 61.1L559.1 58.3L560.8 56.4L562.9 52.6L564.7 47L565.9 40.3L567.1 37.6L569.6 35.8L577.2 32.9L580.5 30.1L582.4 26.3L584.5 16.9L585.9 15L596 11.3ZM0 154.2L188 153.6L189.9 154.2L193.6 157L198.3 163.6L200.9 171.1L203.4 186.1L205.9 191.8L210.6 196.5L221.1 203L223.2 204.9L224.3 206.8L224.3 210.6L221.5 214.3L209.1 221.8L205.8 225.6L203 231.2L200 248.2L198 253.8L195.5 258.6L193.6 260.8L191.8 262L174.8 267.9L161.7 270.7L156.9 270.7L142.9 266.6L137.2 265.5L133.5 265.4L120.3 270L103.4 272.9L99.6 274.6L93.7 278.2L80.2 289.5L63.5 297L50.8 305L32 309.2L18.8 314.1L0 315.8Z"/><path fill="#ecedc0" fill-rule="evenodd" d="M584.4 71.4L601.6 71.3L601.6 264.7L596 265.6L592.9 267L590.9 268.8L586.6 275.6L584.7 275.9L582.8 274.7L580.9 271.8L579.7 267L579.9 251.9L578.8 244.4L575.3 235.3L571.5 228.6L567.8 223.4L565.9 222L562.1 221.3L550.8 224.5L539.6 225.2L533.9 224.5L528.3 222L526.1 220L523.7 216.2L521.4 210.6L517 196.1L507.6 178.1L503.8 174.1L500.1 171.9L494.4 170.3L488.8 169.9L483.2 171L479.4 172.7L475.6 175.6L472.9 178.6L464.4 191.8L455.4 208.7L449.3 216.7L439.9 224.4L423.2 235L417.4 240.4L406.1 258.9L400.4 274.5L396.7 279.7L394.8 281.1L391 282.4L383.5 282.5L377.9 281.1L374.1 279.4L368.5 274.9L364.1 268.8L356.7 255.7L351.1 244.4L347.3 235L343.2 220L341.7 212.4L341.1 204.9L341.4 188L340.3 180.8L337.7 174.8L329.7 163.6L325 154.2L325.2 150.6L327.2 144.8L330 139.1L332.8 135.8L336.5 133.9L344 131.7L357.2 128.8L383.5 130.5L396.7 132.6L447.4 132.1L473.8 133.5L505.7 132.8L522.6 129.7L528.3 127.6L539.6 120.6L552.9 116.6L556.5 114.9L559 112.8L559.6 110.9L557.4 109L547.1 107.4L532 107.1L528.3 107.7L518.9 113L511.4 114.8L490.7 116L470 115.8L462.5 114L451.2 108.8L434.3 103.4L428.6 102.7L415.5 102.6L408 101L402.3 98.2L399.8 95.9L397.5 92.1L397.5 88.4L398.6 86.5L400.4 84.9L408 82L415.5 81L430.5 81L441.8 82.2L471.9 88.2L488.8 88.5L503.8 91.3L507.6 91.5L539.6 79.3L550.8 77.4L562.1 77.9L565.9 77.5L577.2 73ZM42.4 159.8L105.3 158.6L189.9 158.7L191.8 159.6L193.6 161.7L196.8 167.3L198.4 173L200.5 188L202.9 193.6L206.8 197.6L218.3 204.9L219.9 206.8L220.4 208.7L219.9 210.6L216.2 214.3L204.4 221.8L197.4 231.2L191.8 237.1L173 248.3L163.6 250.1L160.1 251.9L156 255L152.3 256.7L144.8 258.1L133.1 259.4L118.4 266.5L101.5 270.8L90.9 276.4L69.6 289.5L47 300.7L18.8 304.8L0 305.2L0 161.4L18.8 161.3ZM591.8 283.9L596 283.3L601.6 283.7L601.6 305.4L597.8 303.7L594.1 301.2L590.6 297L589.4 293.3L589.1 289.5L589.9 285.8Z"/><path fill="#cdd39f" fill-rule="evenodd" d="M584.7 80.8L601.6 80.6L601.6 261.7L588.4 260.9L586.6 260.3L584.7 258.2L580.3 242.5L577.2 234.4L571.5 223.3L567.8 218.4L565.9 217.1L564 216.7L562.1 217.1L552.7 221.6L545.2 223.2L535.8 222.9L532 221.7L529.1 220L526.4 217L524.5 213.6L518.9 196.5L511.4 180.9L507.6 175.1L503.8 171.8L500.1 170L494.4 168.5L488.8 168.2L481.3 169.7L477.5 171.7L473.8 174.8L466.6 184.2L454.6 206.8L449.3 214L441.8 220.6L422.5 233.1L416.3 238.8L413.6 242.5L406.1 255.6L403.5 261.3L399.5 272.6L397.4 276.4L395.7 278.2L391 280.5L383.5 280.6L376 278L370.4 273.6L365.4 267L357.9 253.8L352.3 242.5L348.7 233.1L344.8 218.1L343.6 210.6L343.9 188L343 180.5L340.1 173L332 161.7L331.6 159.8L332.8 158.5L336.5 156.8L351.6 152.5L370.4 145.3L376 143.9L396.7 143.8L432.4 139.4L488.8 137.9L509.5 135.8L526.4 132.6L545.2 124L573.3 116.6L576.9 114.7L579.1 112.8L580.5 110.9L581.1 109L580.6 107.2L578.9 105.3L575.3 103.5L571.5 102.6L565.9 102.2L556.5 103.6L552.7 103.6L530.2 99.2L526 97.8L523.6 95.9L524 94L526 92.1L537.7 86.2L549 82.8L554.6 82.3L564 84.4L568.6 84.6L575.3 83.7ZM410.6 86.5L417.4 85.5L432.4 85.7L439.9 87L470 94.3L490.7 95.2L515.1 101.1L517 102.6L518 105.3L517.4 107.2L515.5 109L511.5 110.9L507.6 111.9L488.8 113.3L470 113L464.4 111.3L453.1 106.1L436.2 100.8L430.5 100L415.5 99.7L409.8 98.4L405.7 95.9L404.2 94L403.7 92.1L404.3 90.2L406.1 88.5ZM73.3 168.9L105.3 166.8L163.6 166L188 166.3L193.6 167.1L195.9 173L197.8 188L199.5 193.6L203 198L214.3 205.8L215.3 206.8L215.8 208.7L215.3 210.6L213.8 212.4L210.6 214.8L203 217.3L199.3 219.4L192.1 225.6L188 228.5L174.8 234.5L167.3 239.6L159.8 243.5L148.7 251.9L142.9 254L131.6 256.5L116.6 263.8L100.1 268.8L59.8 289.5L50.8 293.6L45.1 295.3L39.5 295.9L18.8 297.4L0 297.5L0 169.2ZM599.7 289.5L601.6 289L601.6 299L597.8 297.3L596.1 295.2L596.2 293.3L597.1 291.4Z"/><path fill="#a9b888" fill-rule="evenodd" d="M550.6 86.5L554.6 86.2L558.4 87.1L570.5 92.1L570.9 94L567.8 95.9L560.2 98.7L554.6 100.1L550.8 99.8L543.3 97.8L538.3 95.9L536.5 94L537.2 92.1L539.8 90.2L545.2 87.9ZM411.8 90.2L417.4 89.1L428.6 89L434.3 89.6L468.1 98.9L490.7 99.9L505.7 104.7L507 105.3L507.5 107.2L502.3 109L490.7 110.3L475.6 110.5L470 110L467.1 109L458.7 104.1L448.8 101.5L439.9 98.4L432.4 97.2L417.4 97L413.6 96.4L412.2 95.9L410.1 94L409.9 92.1ZM582.8 122.4L601.6 118.9L601.6 259.2L592.2 257.3L588.4 255.2L586.6 253.1L584.7 249.5L580.1 236.9L575.3 225.8L571.5 218.6L567.8 213.8L565.9 212.6L564 212.3L562.1 212.8L552.7 219.3L547.1 221.2L541.4 221.7L537.7 221.5L532 219.6L528.3 216.4L525.8 212.4L519.9 195.5L513.2 181.5L509.4 174.8L505.7 171.2L502 169L496.3 167.3L488.8 166.7L483.8 167.3L479.4 168.7L473.8 172.6L465.6 182.4L454.2 204.9L449.3 211.7L441.8 218.5L422.4 231.2L415.5 237.3L411.7 242.5L406.1 252.8L402.3 260.8L398.6 271.2L396.8 274.5L394.8 276.9L392.9 278.1L389.2 279.2L383.5 278.9L379.8 277.8L374.1 274.5L370.4 270.7L367.6 267L359.8 253.8L355 244.4L351 235L348.9 227.5L345.4 210.6L346.1 186.1L345.6 180.5L343.6 173L344 171.7L353.4 171.9L359.1 171.3L374.1 166L385.4 164.4L392.9 159.5L396.7 158.4L411.7 159.5L415.5 159.2L449.3 150L458.1 146.6L465.4 144.8L490.7 142L526.4 136L533.9 133.5L545.2 128.2L550.8 126.7L564 124.3ZM157 174.8L165.4 174.9L174.8 176L189.9 179.4L193.6 181.2L196.5 193.6L201.2 202.1L206.7 206.8L206.3 208.7L197.4 211.9L193.6 213.9L182 223.7L174.8 228.4L165.4 235.7L157.1 240.6L144.8 249.5L139.1 251.8L129.7 254.4L112.8 262.3L98.9 267L79 276.7L65.2 282L50.8 289.1L47 290.3L41.4 291L18.8 292L0 292L0 177.2L20.7 177.4L48.9 179.9L71.4 180.1L103.4 176.5L131.6 176.3Z"/><path fill="#8ea68a" fill-rule="evenodd" d="M551.3 90.2L554.6 90L556.5 90.5L558.8 92.1L559 94L556.8 95.9L554.6 96.4L550.5 95.9L547.6 94L547.7 92.1ZM582.8 127.8L601.6 125.4L601.6 256.9L594.1 255L590.3 252.7L587.8 250L584.7 244.1L581.3 235L573.4 217.6L570.2 212.4L567.8 209.9L565.2 208.7L562.1 208.8L560.2 209.8L553.7 216.2L550.8 218.1L549 218.6L537.7 219.2L533.2 218.1L530.2 215.8L526.4 210.3L521.3 195.5L513.2 178.7L509.7 173L505.7 169.5L502 167.6L496.3 165.9L490.7 165.3L481.3 166.4L477.5 167.8L473.8 170.5L467.9 176.7L463.7 182.4L453.8 203L449.3 209.6L439.9 218.2L421.1 230.4L414 236.9L410.1 242.5L404.2 253.8L396.7 272.1L394.8 274.7L392.9 276.3L389.2 277.5L383.5 277.3L379.8 276L374.6 272.6L371 268.8L367.1 263.2L356.5 244.4L351.9 233.1L347.2 212.4L346.9 204.9L347.9 191.8L348.5 186.1L349.7 183.4L359.1 183.1L377.9 180.1L413.6 179.5L428.6 176.8L449.3 168.2L462.5 155.4L468.1 151.8L475.6 148.8L530.2 138.6L537.7 136.3L547.1 132L552.7 130.5ZM108.3 184.2L150.4 184.5L159.8 185.2L165.4 188.1L177.5 199.3L181.2 204.9L181.1 208.7L171.8 223.7L165.4 231.2L143.5 246.3L139.1 248.7L126 253.5L110.9 260.4L95.9 265.9L77.1 274.9L60.7 280.1L47 285.7L41.4 286.4L22.6 286.9L0 287L0 185.4L18.8 185.5L47 187.9L73.3 188.8L99.6 184.8Z"/><path fill="#7d9c90" fill-rule="evenodd" d="M565.9 135L601.6 130.5L601.6 227L586.6 226.9L582.8 226L579 224.1L578.3 221.8L577.2 220.8L576.2 218.1L571.6 210.6L569.6 208.3L565.9 205.9L562.1 205.5L560.2 206.1L556.5 208.9L549 206.9L545.2 207.1L533.9 209.2L530.2 209L528.3 207.4L524.9 199.3L519.6 189.9L513.2 176.1L509.7 171.1L505.7 168L500.1 165.5L494.4 164.2L486.9 164L481.3 164.8L477.5 166L471.9 170L461.4 182.4L454.5 199.3L451.4 204.9L448.4 208.7L439.9 216.5L420.4 229.4L413.6 235.5L409.8 240.6L404.2 251.3L396.7 269.5L394.8 272.5L392.9 274.4L389.2 275.9L385.4 275.9L380.4 274.5L376 271.7L372.2 267.9L368.5 262.8L357 242.5L352.7 231.2L348.9 214.3L348.4 204.9L349.7 193.5L357.2 193.6L377.9 189.8L413.6 190.8L430.5 187.3L452.3 178.6L454.3 176.7L459.1 169.2L462.5 165.9L475.6 155.6L483.2 151.9L520.8 144L538.2 141L554.6 135.9ZM102.8 191.8L133.5 191.8L146.6 194L157 197.4L161.9 201.2L164.8 204.9L166.8 208.7L167.7 212.4L167.8 216.2L167.4 220L166.1 223.7L163.7 227.5L159.8 231.2L137.2 246.3L107.2 259.3L94 264.2L75.2 273.1L45.1 281.6L0 282.2L0 192.1L18.8 192.3L47 195.3L71.4 195.9L79 195.4Z"/><path fill="#6a8d9a" fill-rule="evenodd" d="M582.8 137.8L601.6 135.2L601.6 207.5L582.8 207.5L571.5 205.7L564 202.8L560.2 202.5L558.4 201L552.7 193.5L549 192.1L545.2 192.6L532 196.4L528.3 196.2L524.5 193.9L520.8 190L513.2 173.8L511.3 171.1L507 167.3L502 164.8L494.4 162.8L486.9 162.5L481.3 162.8L477.5 163.9L475.9 163.6L481.3 158.7L486.9 155.4L491.6 154.2L505.7 151.8L520.8 147.4L528.3 146.2L543.3 144.7L554.6 142.3L564 141.7ZM465.3 173L466.2 171L468.1 169.2L468.5 171.1L466.2 173.3ZM446.2 188L451.2 187.4L453.1 188.1L455 190.3L455.4 191.8L455.1 195.5L451.3 203L447.4 208L440.8 214.3L434.3 219.1L419.2 228.7L412.5 235L409.7 238.8L406.1 245.1L394.8 270.3L392.6 272.6L389.2 273.9L374.1 267.6L370.4 263.2L363.4 251.9L358.2 242.5L355 235L352.5 225.6L350 212.4L350.1 204.9L351.6 201.9L359.1 201.4L377.9 197.9L385.4 197.9L400 199.3L413.6 199.3L432.4 194.3ZM0 277.8L0 198.8L18.8 199L45.1 202.6L50.8 202.9L75.2 202L105.3 198.8L131.6 199.4L137.2 200.9L142.9 203.3L150.4 207.3L156 211L157.9 212.8L160.2 216.2L161.2 220L161 221.8L159.1 225.6L155.2 229.4L133.5 244.8L105.3 257.5L92.1 262.4L75.2 270.6L45.1 277.8Z"/><path fill="#5a84a0" fill-rule="evenodd" d="M564 146.4L601.6 139.3L601.6 196.6L579 199.9L565.9 200.5L562.1 198.9L560.2 197.1L554.6 187.5L552.7 185.8L549 185.1L545.2 185.9L538.1 189.9L533.9 191.5L530.2 192.3L526.4 191.9L520.8 187.9L514 173L509.5 167.7L502 163.3L489.7 159.8L507.6 156L517 152.2L524.5 149.9L543.3 148.6L554.6 146.8ZM447.8 193.6L449.3 193.5L451.2 194.8L451.9 197.4L451.2 200.9L449.3 203.9L445.1 208.7L439 214.3L419.2 227.3L412.8 233.1L406.2 242.5L394.8 266L392.9 268.3L391 268.8L387.3 268.1L377.9 264L372.2 262.5L370.4 260.8L360.3 244.4L356.1 235L352.2 218.1L351.2 210.6L351.6 208.3L377.9 203.4L385.4 203.4L398.6 204.5L413.6 204.5L438 198ZM0 272.8L0 206.4L18.8 206.6L48.9 211.1L75.2 210L103.4 206.8L126 208.4L133.5 210.1L144.8 216.1L149.7 220L150.6 221.8L150.6 223.7L148.8 227.5L145.5 231.2L138.9 236.9L130.9 242.5L107.2 254L90.2 260.1L77.1 267L73.3 268.4L50.8 273.6L45.1 274.4L16.9 273.1Z"/><path fill="#4a77a3" fill-rule="evenodd" d="M564 150.5L601.6 143.5L601.6 190.1L571.5 195.9L565.9 196.3L564 195.7L562.1 194.2L560.6 191.8L558.4 185.7L556.5 182.4L552.7 180.2L549 179.9L545.2 180.7L535.8 186.8L530.2 189.1L526.4 189L524.5 188.1L520.8 185.1L515.2 173L513.2 170L507.6 164.6L505.5 163.6L504.7 161.7L522.5 154.2L526.4 153.1L543.3 152.9L554.6 151ZM429.9 204.9L434.3 204.2L439.9 204.5L441.9 204.9L443.9 206.8L441.2 210.6L434.7 216.2L421.1 224.6L413.6 230.7L407.3 238.8L402.3 248.3L397.6 253.8L392.9 260.9L391 262.1L387.3 262.1L383.5 260.7L376 256.5L368.5 255.4L367.9 253.8L366.6 252.8L361.4 244.4L357.8 236.9L355.6 229.4L353.4 218.1L353.4 216.1L364.6 210.6L376 207.8L385.4 207.4L398.6 208.9L413.6 209.3L419.2 208.3ZM0 265.3L0 214.3L16.9 214.4L24.4 215.4L47 219.9L67.7 220.1L75.2 219.7L99.6 214.9L107.2 214.8L127.8 217.6L133.5 219.2L137.2 221.4L139.1 223.4L140 225.6L139.9 227.5L139.3 229.4L136.7 233.1L132.5 236.9L123 242.5L105.3 251.8L88.4 257L77.1 263.4L71.4 265.8L48.9 270.9L41.4 270.9L30.1 269.4L16.9 266.6Z"/><path fill="#3a66a6" fill-rule="evenodd" d="M582.8 151.4L601.6 148.3L601.6 183.6L588.4 187.4L569.6 191.2L565.9 191.2L564.3 189.9L561.3 180.5L560.2 178.6L556.5 175.8L552.7 174.9L549 174.8L545.2 175.8L532 185L528.3 186.3L526.4 186.1L524.5 185.2L520.8 182.1L518.9 179.3L515.3 171.1L511.7 165.4L513.5 163.6L516.6 161.7L526.4 157.5L532 157.4L545.2 159L554.6 156.2L565.9 155.3ZM380.3 210.6L387.3 210.5L396.7 212.8L409.8 214.7L416.3 216.2L418.4 218.1L418.2 220L414.5 225.6L411.8 231.2L406.9 236.9L406.1 238.8L392.9 252.3L389.2 254.4L385.4 254.1L376 250.1L366.6 248.5L364.7 247.7L360.4 240.6L358.1 235L356.5 229.4L356.3 223.7L362.8 216.5L366.2 214.3L370.4 212.6ZM0 257.9L0 222.3L18.8 222.5L47 228.6L73.3 232.3L77.1 231.8L97.8 223.9L105.3 222.8L122.5 225.6L127.7 227.5L128.7 229.4L128.2 231.2L126.5 233.1L119.7 238.8L114.7 242.5L105.3 248L101.5 249.3L90.2 251L84.6 252.7L80.8 254.8L73.3 260.3L66.7 263.2L52.4 267L45.1 267.7L35.7 266L28.2 263.4L24.6 261.3L20.7 257.4L18.8 256.2L16.9 255.8Z"/><path fill="#2a5298" fill-rule="evenodd" d="M586 157.9L601.6 156.3L601.6 169.5L597.8 170.4L592.2 173L584.7 178.9L582.8 179.6L580.9 179.4L579 177.9L576.6 173L574.8 167.3L574.6 163.6L575.7 161.7L578.5 159.8ZM524.1 163.6L528.3 162.9L532 163.9L537.2 167.3L539.5 171.1L539.5 173L537.4 176.7L533.3 180.5L528.3 183L526.4 182.9L522.5 180.5L519.4 176.7L518.3 173L518.5 169.2L519.2 167.3L520.9 165.4ZM374.8 214.3L383.5 212.9L389.2 213.5L403.6 220L405.5 221.8L406.4 223.7L407.1 229.4L405.7 233.1L404.1 235L397.4 240.6L392.9 245.8L389.2 248.3L387.3 248.8L383.5 248.6L366.5 244.4L362.8 242.5L359.1 235.3L358.3 229.4L361.4 223.7L367 218.1ZM0 250.2L0 230.6L18.8 229.6L27.5 231.2L37.6 234.4L45.1 237.8L56.4 241.8L60.7 244.4L62.5 246.3L64.7 250L65.6 253.8L65.1 255.7L63.8 257.6L61.5 259.4L57.8 261.3L50.8 263.6L45.1 263.8L39.5 262.1L34.9 259.4L33.5 257.6L31.4 251.9L30.1 250.2L28.2 248.9L24.4 247.4L20.7 246.6L15 246.7ZM96 235L101.5 233.4L105.3 233.6L107.2 234.3L109 236L109.6 236.9L109.5 238.8L108.2 240.6L105.9 242.5L101.5 244.1L94 243.1L92.1 242.5L89.7 240.6L89.9 238.8L92.1 236.9Z"/><path fill="#1d3c85" fill-rule="evenodd" d="M524.1 171.1L526.4 169.6L528.3 169.7L530.2 170.6L532.2 173L532.4 174.8L531.6 176.7L528.3 179.2L526.4 179.2L524.5 178.1L522.8 174.8L523.1 173ZM378.1 216.2L385.4 215.2L389.3 216.2L392.3 218.1L398.6 223.7L401.4 227.5L401.9 229.4L401.6 231.2L400.5 233.1L391 243.5L387.3 245.7L381.6 245.6L369.8 242.5L364.7 239.2L362 235L361.5 233.1L362.1 229.4L365.7 223.7L372.2 218.5Z"/><path fill="#0f2466" fill-rule="evenodd" d="M381.3 218.1L385.4 217.7L389.2 219L393.9 223.7L397.2 229.4L397.1 231.2L396.3 233.1L391 240.2L388.4 242.5L385.4 243.6L377.9 242.7L372 240.6L367.1 236.9L365.1 233.1L365.5 229.4L366.6 227.3L369.8 223.7L375.5 220Z"/><path fill="#03084f" fill-rule="evenodd" d="M377.9 221.8L383.5 220.3L387.3 220.9L390.8 223.7L393.4 227.5L394.1 231.2L393.5 233.1L391 237L387.3 240.7L383.5 241.4L376 239.7L371.4 236.9L368.7 233.1L368.4 231.2L370.1 227.5L374.1 223.8Z"/></g></g><path d="M75.2 0V526.4M300.8 0V526.4M526.4 0V526.4M0 150.4H601.6M0 300.8H601.6M0 451.2H601.6" stroke="#b4b4b4" stroke-width="1.5" fill="none"/><g clip-path="url(#cpa)"><path d="M0 22.6L22.6 22.6L22.6 30.1L105.3 30.1L105.3 22.6L142.9 22.6L142.9 30.1L157.9 30.1L157.9 37.6L112.8 37.6L112.8 45.1L105.3 45.1L105.3 67.7L97.8 67.7L97.8 120.3L90.2 120.3L90.2 127.8L97.8 127.8L97.8 135.4L82.7 135.4L82.7 120.3L75.2 120.3L75.2 112.8L67.7 112.8L67.7 105.3L52.6 105.3L52.6 97.8L0 97.8M157.9 0L157.9 7.5L180.5 7.5L180.5 22.6L188 22.6L188 30.1L218.1 30.1L218.1 22.6L225.6 22.6L225.6 15L233.1 15L233.1 7.5L255.7 7.5L255.7 15L270.7 15L270.7 22.6L285.8 22.6L285.8 30.1L308.3 30.1L308.3 22.6L330.9 22.6L330.9 7.5L315.8 7.5L315.8 0M601.6 255.7L594.1 255.7L594.1 248.2L586.6 248.2L586.6 225.6L579 225.6L579 203L571.5 203L571.5 188L564 188L564 173L549 173L549 195.5L556.5 195.5L556.5 218.1L549 218.1L549 225.6L533.9 225.6L533.9 210.6L526.4 210.6L526.4 188L518.9 188L518.9 180.5L526.4 180.5L526.4 165.4L511.4 165.4L511.4 157.9L473.8 157.9L473.8 165.4L466.2 165.4L466.2 173L458.7 173L458.7 195.5L451.2 195.5L451.2 203L443.7 203L443.7 210.6L436.2 210.6L436.2 218.1L421.1 218.1L421.1 225.6L406.1 225.6L406.1 240.6L398.6 240.6L398.6 270.7L391 270.7L391 285.8L383.5 285.8L383.5 278.2L376 278.2L376 255.7L368.5 255.7L368.5 240.6L361 240.6L361 218.1L353.4 218.1L353.4 173L345.9 173L345.9 165.4L338.4 165.4L338.4 157.9L323.4 157.9L323.4 127.8L315.8 127.8L315.8 112.8L255.7 112.8L255.7 127.8L240.6 127.8L240.6 120.3L233.1 120.3L233.1 112.8L225.6 112.8L225.6 105.3L218.1 105.3L218.1 90.2L210.6 90.2L210.6 82.7L195.5 82.7L195.5 75.2L173 75.2L173 67.7L142.9 67.7L142.9 120.3L150.4 120.3L150.4 127.8L173 127.8L173 135.4L180.5 135.4L180.5 150.4L188 150.4L188 165.4L195.5 165.4L195.5 188L188 188L188 195.5L173 195.5L173 203L225.6 203L225.6 210.6L218.1 210.6L218.1 218.1L195.5 218.1L195.5 225.6L173 225.6L173 233.1L203 233.1L203 248.2L195.5 248.2L195.5 263.2L188 263.2L188 270.7L180.5 270.7L180.5 278.2L173 278.2L173 285.8L157.9 285.8L157.9 293.3L150.4 293.3L150.4 300.8L135.4 300.8L135.4 315.8L127.8 315.8L127.8 338.4L120.3 338.4L120.3 361L127.8 361L127.8 368.5L120.3 368.5L120.3 376L127.8 376L127.8 398.6L135.4 398.6L135.4 443.7L112.8 443.7L112.8 451.2L97.8 451.2L97.8 466.2L90.2 466.2L90.2 473.8L82.7 473.8L82.7 481.3L90.2 481.3L90.2 488.8L82.7 488.8L82.7 496.3L75.2 496.3L75.2 526.4M195.5 413.6L210.6 413.6L210.6 443.7L203 443.7L203 458.7L195.5 458.7L195.5 481.3L188 481.3L188 503.8L165.4 503.8L165.4 488.8L157.9 488.8L157.9 473.8L165.4 473.8L165.4 436.2L188 436.2L188 421.1L195.5 421.1ZM571.5 263.2L586.6 263.2L586.6 278.2L571.5 278.2ZM601.6 293.3L594.1 293.3L594.1 285.8L586.6 285.8L586.6 300.8L594.1 300.8L594.1 308.3L601.6 308.3" fill="none" stroke="#000" stroke-width="3.4" stroke-linejoin="miter" stroke-linecap="square"/></g><path fill="#000" d="M342.1 -8.1h64.8v14h-64.8ZM465.4 -8.1h57.8v14h-57.8ZM581.1 -8.1h17.1v14h-17.1ZM584.2 -8.1h14v55.2h-14ZM584.2 105.4h14v57.5h-14ZM584.2 221.6h14v57.8h-14ZM384.4 297.6h58v14h-58ZM500.2 297.6h58.4v14h-58.4ZM342.1 -8.1h14v57.3h-14ZM342.1 107.6h14v58.2h-14ZM342.1 223.5h14v57.9h-14Z"/><rect x="0" y="0" width="601.6" height="526.4" fill="none" stroke="#000" stroke-width="3.6"/><path d="M75.2 0v-17M75.2 526.4v17M300.8 0v-17M300.8 526.4v17M526.4 0v-17M526.4 526.4v17M0 526.4h-17M601.6 526.4h17M0 300.8h-17M601.6 300.8h17M0 75.2h-17M601.6 75.2h17" stroke="#000" stroke-width="4" stroke-linecap="round" fill="none"/><path d="M0 0v-9.5M0 526.4v9.5M150.4 0v-9.5M150.4 526.4v9.5M225.6 0v-9.5M225.6 526.4v9.5M376 0v-9.5M376 526.4v9.5M451.2 0v-9.5M451.2 526.4v9.5M601.6 0v-9.5M601.6 526.4v9.5M0 451.2h-9.5M601.6 451.2h9.5M0 376h-9.5M601.6 376h9.5M0 225.6h-9.5M601.6 225.6h9.5M0 150.4h-9.5M601.6 150.4h9.5M0 0h-9.5M601.6 0h9.5" stroke="#000" stroke-width="1.6" fill="none"/><text class="t" x="75.2" y="579.2" text-anchor="middle">30E</text><text class="t" x="300.8" y="579.2" text-anchor="middle">60E</text><text class="t" x="526.4" y="579.2" text-anchor="middle">90E</text><text class="t" x="-34.5" y="83.8" text-anchor="end">30N</text><text class="t" x="-34.5" y="309.4" text-anchor="end">0</text><text class="t" x="-34.5" y="535" text-anchor="end">30S</text></g><text class="ti" x="673.2" y="672.6" text-anchor="end">EM</text><text class="b" x="90.3" y="675.8">d</text>
<g transform="translate(781.1 692.9)"><g clip-path="url(#cpa)"><g filter="url(#bl)"><path fill="#fbfbe6" fill-rule="evenodd" d="M599 9.4L601.6 5.8L601.6 270.2L599.4 272.6L599.4 274.5L601.6 277L601.6 308.7L596 306.4L589.8 302.7L586.1 298.9L584.3 295.2L581.2 285.8L577 276.4L575.5 270.7L575.1 265.1L576.9 250L576.3 244.4L573.4 237.3L569.6 231.3L565.9 227.4L562.1 226L550.8 227L537.7 227.1L532 226.3L526.4 223.7L524.5 221.8L522 218.1L519.8 212.4L515.4 197.4L507.6 182.1L503.8 177.2L500.8 174.8L496.7 173L492.6 172.1L488.8 172L485 172.7L481.3 174.3L477.5 176.9L471.9 183.9L462.5 199.2L456.6 210.6L451.2 218.1L443.7 224.8L424.9 236.7L419.2 242L408 259.2L406.1 263.3L402.7 274.5L400.7 278.2L398.6 280.9L396.7 282.4L392.9 284.2L389.2 284.8L383.5 284.7L376 282.9L372.2 281.2L367.9 278.2L363.2 272.6L354.9 257.6L348.4 244.4L344.7 235L341 221.8L338.9 212.4L338.4 204.9L338.5 189.9L337.2 182.4L334.7 176.7L323.8 159.8L321 154.2L319 148.5L317 133.5L317.3 129.7L319.3 126L323.5 122.2L330.9 118L353.4 113L357.2 112.6L372.2 116.6L385.4 117.8L389.2 119.5L394.4 124.1L398.6 125L449.3 125.2L468.1 128.2L471.9 127.9L473.8 127L475.6 126L476.5 124.1L475.8 122.2L472.9 120.3L462.5 117.2L455 114.1L445.6 111.2L436.2 107.2L430.5 106.2L413.6 105.8L408 104.3L398.6 98.1L392.9 95.9L389.8 94L388.2 92.1L384.2 84.6L379.8 80.8L376 79L370.4 78.7L357.2 81.1L353.4 81L349.7 80L348.1 79L348.1 77.1L350.1 75.2L354.4 73.3L366.6 70.4L374.2 67.7L381.6 66.5L387.3 66.6L406.1 70.4L413.6 71L415.5 70.2L417.4 65.2L419.2 62.7L423 61.4L436.2 62.9L455 66.4L464.4 69.5L471.9 71.2L488.8 71.9L505.7 76.6L511.4 76.5L524.5 73.7L535.8 70.1L539.6 68.1L547.1 62.7L554.6 61.1L558.4 59L560.8 56.4L562.9 52.6L564.7 47L565.9 40.3L567.1 37.6L569.6 35.8L577.2 32.9L580.5 30.1L582.4 26.3L584.5 16.9L585.9 15L596 11.3ZM0 315.4L0 170.4L48.9 170.1L193.6 170L196 171.1L198.9 174.8L202.9 188L204.9 191.4L209.1 195.5L221.8 204L223.8 206.8L223.9 210.6L221.2 214.3L210 221.8L205 227.5L202.7 233.1L200 248.2L198 253.8L195.5 258.3L191.8 261.4L174.8 267.5L161.7 270.2L156 270L142.9 266.7L135.4 265.7L131.6 266.3L120.3 270.1L105.3 272.7L101.5 274L97.1 276.4L80.8 289L63.9 297L50.8 304.8L32 309.3L17.7 314Z"/><path fill="#ecedc0" fill-rule="evenodd" d="M422.8 65.8L426.8 65.2L432.4 65.4L453.1 68.4L457.3 69.6L481.3 79.1L513.7 84.6L528.3 86.4L547.1 86.6L559 84.6L565.9 82.7L568.9 80.8L573.6 75.2L579 72.4L584.7 71.4L601.6 71.3L601.6 264.7L596 265.6L592.9 267L590.9 268.8L586.6 275.6L584.7 275.9L582.8 274.7L580.9 271.8L579.7 267L579.9 251.9L578.8 244.4L575.3 235.3L571.5 228.6L567.8 223.4L565.9 222L562.1 221.3L550.8 224.5L539.6 225.2L533.9 224.5L528.3 222L526.1 220L523.7 216.2L521.4 210.6L517 196.1L507.6 178.1L503.8 174.1L500.1 171.9L494.4 170.3L488.8 169.9L483.2 171L479.4 172.7L475.6 175.6L472.9 178.6L464.4 191.8L455.4 208.7L449.3 216.7L439.9 224.4L423.2 235L417.4 240.4L406.1 258.9L400.4 274.5L396.7 279.7L394.8 281.1L391 282.4L383.5 282.5L377.9 281.1L374.1 279.4L368.5 274.9L364.1 268.8L356.7 255.7L351.1 244.4L347.3 235L343.2 220L341.7 212.4L341.1 204.9L341.4 188L340.3 180.8L337.7 174.8L327.3 159.8L324.5 154.2L323.3 150.4L323.9 146.6L326.5 139.1L329 134.2L330.9 131.9L334.2 129.7L338.4 128.5L351.3 126L357.2 125.4L374.1 127.3L383.5 127.8L392.9 130.5L396.7 130.9L447.4 130.8L470 133L475.6 131.9L488.8 128.1L507.6 127L528.3 119.4L533.9 117.9L560.2 115.6L564.5 114.7L563.7 112.8L560.2 112.7L528.3 115.5L522.6 115.6L498.2 113.2L475.6 108.1L470 106.4L445.6 90.5L432.4 80.4L426.8 75.1L422.3 69.6L421.7 67.7ZM0 175.7L107.2 173.9L176.7 173.9L193.6 174.3L195.5 175.2L196.3 176.7L199.2 188L201.2 192.1L206.5 197.4L218 204.9L219.4 206.8L219.9 208.7L219.6 210.6L216.3 214.3L205.4 221.8L202.1 225.6L199.3 229.9L191.8 237.4L173 248.5L163.6 250.9L152.3 256.9L146.6 258.1L133.5 259.8L118.4 266.6L101.5 271L91.3 276.4L71.4 288.5L47 300.5L18.8 304.8L0 305.4ZM591.8 283.9L596 283.3L601.6 283.7L601.6 305.4L597.8 303.7L594.1 301.2L590.6 297L589.4 293.3L589.1 289.5L589.9 285.8Z"/><path fill="#cdd39f" fill-rule="evenodd" d="M428.6 69.6L430.5 68.7L436.2 68.6L453.1 70.8L479.4 81.1L528.3 89.2L549 90L567.8 85.5L584.7 79.3L601.6 79L601.6 261.7L588.4 260.9L586.6 260.3L584.7 258.2L580.3 242.5L577.2 234.4L571.5 223.3L567.8 218.4L565.9 217.1L564 216.7L562.1 217.1L552.7 221.6L545.2 223.2L535.8 222.9L532 221.7L529.1 220L526.4 217L524.5 213.6L518.9 196.5L511.4 180.9L507.6 175.1L503.8 171.8L500.1 170L494.4 168.5L488.8 168.2L481.3 169.7L477.5 171.7L473.8 174.8L466.6 184.2L454.6 206.8L449.3 214L441.8 220.6L422.5 233.1L416.3 238.8L413.6 242.5L406.1 255.6L403.5 261.3L399.5 272.6L397.4 276.4L395.7 278.2L391 280.5L383.5 280.6L376 278L370.4 273.6L365.4 267L357.9 253.8L352.3 242.5L348.7 233.1L344.8 218.1L343.6 210.6L343.9 188L343 180.5L340.1 173L330.7 159.8L330.9 158.3L332.3 156L334.6 153.8L355.3 144.4L364.7 141.5L372.2 139.9L381.6 139.3L396.7 140.1L434.3 137L470 137.8L488.8 132.9L507.6 132L519.2 129.7L525.6 127.8L535.8 123L541.4 121.4L566.9 118.4L572 116.6L576.7 112.8L576.7 110.9L575.3 110.4L571.5 109.6L565.9 109.2L549 109.7L524.5 112.4L502 111.3L494.4 110.1L473.8 104.8L468.1 102.1L445.6 86.6L432.1 75.2L428.9 71.4ZM97 180.5L163.6 179.5L191.8 180.4L193.6 180.9L194.6 182.4L196.8 189.9L199.3 194.3L203 198.1L213.2 204.9L214.9 206.8L215.6 208.7L215.2 210.6L211.7 214.3L201.2 219.9L191.4 227.5L186.1 230.4L173 236.3L159.1 244.4L148.5 252.1L142.9 254.1L129.7 257.4L116.6 263.8L99.6 269.2L77.1 280.9L50.8 293.6L45.1 295.4L39.5 296L18.8 297.5L0 297.7L0 182L71.4 181.9ZM599.7 289.5L601.6 289L601.6 299L597.8 297.3L596.1 295.2L596.2 293.3L597.1 291.4Z"/><path fill="#a9b888" fill-rule="evenodd" d="M435.6 73.3L436.2 72.5L438 71.7L439.9 71.7L453.1 73.1L479.4 83.2L502 86.4L524.5 91.1L545.2 92.9L550.8 92.5L567.8 88.1L586.6 82.2L601.6 82.2L601.6 108.5L565.9 106.7L549 106.9L524.5 110.1L503.8 109.5L496.3 108.7L475.6 103.1L470 100.7L447.4 84.9L438.4 77.1ZM584.7 115.5L601.6 112.2L601.6 259.2L592.2 257.3L588.4 255.2L586.6 253.1L584.7 249.5L580.1 236.9L575.3 225.8L571.5 218.6L567.8 213.8L565.9 212.6L564 212.3L562.1 212.8L552.7 219.3L547.1 221.2L541.4 221.7L537.7 221.5L532 219.6L528.3 216.4L525.8 212.4L519.9 195.5L513.2 181.5L509.4 174.8L505.7 171.2L502 169L496.3 167.3L488.8 166.7L483.8 167.3L479.4 168.7L473.8 172.6L465.6 182.4L454.2 204.9L449.3 211.7L441.8 218.5L422.4 231.2L415.5 237.3L411.7 242.5L406.1 252.8L402.3 260.8L398.6 271.2L396.8 274.5L394.8 276.9L392.9 278.1L389.2 279.2L383.5 278.9L379.8 277.8L374.1 274.5L370.4 270.7L367.6 267L359.8 253.8L355 244.4L351 235L348.9 227.5L345.4 210.6L346.1 186.1L345.6 180.5L343.6 173L344 171.5L357.2 171.2L374.1 165.5L383.5 164.4L387.3 162.3L392.9 156.3L396.7 154.3L411.7 153.9L423 148.9L431.4 146.6L468.1 143.8L488.8 137.3L509.5 135.1L522.6 132.8L528.3 131.2L539.1 126L544.6 124.1L571.5 120.5L577.2 118.8ZM99 188L159.8 186.6L173 187.6L187.6 189.9L191.8 191.1L193.6 192.2L195.5 194.1L201.2 202.4L206.4 206.8L207.4 208.7L205.7 210.6L195.5 216.1L184.5 223.7L157.5 240.6L144.8 249.5L139.1 251.8L129.7 254.6L112.8 262.3L99.1 267L79 276.8L65.7 282L50.8 289L47 290.2L41.4 291L18.8 292L0 292.1L0 188.4L18.8 188.5L47 190.2L69.6 190.5L77.1 190.2Z"/><path fill="#8ea68a" fill-rule="evenodd" d="M443 75.2L447.4 74.8L453.1 75.5L479.4 85.2L502 88.2L526.4 93.6L547.1 95.6L550.8 95.2L567.8 90.4L586.6 84.3L601.6 84.4L601.6 105.4L588.4 105.6L571.5 104.5L550.8 104.1L524.5 108L498.2 107.3L477.5 101.6L471.9 99.5L448.5 82.7L442.9 77.1ZM575.3 123.2L601.6 119L601.6 256.9L594.1 255L590.3 252.7L587.8 250L584.7 244.1L581.3 235L573.4 217.6L570.2 212.4L567.8 209.9L565.2 208.7L562.1 208.8L560.2 209.8L553.7 216.2L550.8 218.1L549 218.6L537.7 219.2L533.2 218.1L530.2 215.8L526.4 210.3L521.3 195.5L513.2 178.7L509.7 173L505.7 169.5L501.3 167.3L494.4 165.6L488.8 165.3L483.2 165.9L479.4 167L475.6 169L473.1 171.1L466.3 178.6L463.7 182.4L453.8 203L449.3 209.6L439.9 218.2L421.1 230.4L414 236.9L410.1 242.5L404.2 253.8L396.7 272.1L394.8 274.7L392.9 276.3L391 277.1L387.3 277.7L383.5 277.3L379.8 276L376 273.7L372.6 270.7L367.1 263.2L359.4 250L354.8 240.6L351.9 233.1L348.6 220L347.2 212.4L346.9 204.9L348.3 188L349 184.2L349.7 183.4L359.1 183.1L377.9 180.1L411.7 179.6L419.2 178.4L426.8 175.9L436.2 170.7L447.9 167.3L450.1 165.4L455 158.7L457.7 156L460.9 154.2L470 150.3L479.4 145L485 142.8L492.6 140.9L526.4 135.3L532.2 133.5L543.3 128.2L549 126.5ZM0 287L0 194.8L16.9 194.8L47 196.9L71.4 197.5L105.3 194L156 194.6L163.6 196.3L171.4 201.2L178.2 206.8L179.7 208.7L180.4 212.4L177.5 218.1L168 229.4L163.4 233.1L154.1 238.8L142.9 246.6L110.9 260.3L95.9 265.9L77.1 274.9L61.1 280.1L48.9 285.1L45.1 286L20.7 287Z"/><path fill="#7d9c90" fill-rule="evenodd" d="M449.5 79L451.2 78.2L455 78.6L477.5 86.9L502 89.9L524.5 95.4L542 97.8L549 99.2L557.3 95.9L586.6 86.2L590.3 85.8L601.6 86.3L601.6 103.3L584.7 103.5L554.2 101.5L549 100.3L546.3 101.5L538.9 103.4L524.5 105.9L509.5 106.1L498.2 105.6L479.4 100.1L473 97.8L454.8 84.6L450.5 80.8ZM552.1 129.7L601.6 124.5L601.6 227L586.6 226.9L582.8 226L579 224.1L578.3 221.8L577.2 220.8L576.2 218.1L571.6 210.6L569.6 208.3L565.9 205.9L562.1 205.5L560.2 206.1L556.5 208.9L549 206.9L545.2 207.1L533.9 209.2L530.2 209L528.3 207.4L524.9 199.3L519.6 189.9L513.2 176.1L509.7 171.1L505.7 168L500.1 165.5L494.4 164.2L486.9 164L481.3 164.8L477.5 166L471.9 170L461.4 182.4L454.5 199.3L451.4 204.9L448.4 208.7L439.9 216.5L420.4 229.4L413.6 235.5L409.8 240.6L404.2 251.3L396.7 269.5L394.8 272.5L392.9 274.4L389.2 275.9L385.4 275.9L380.4 274.5L376 271.7L372.2 267.9L368.8 263.2L357.9 244.4L352.7 231.2L348.9 214.3L348.4 204.9L349.7 193.5L357.2 193.6L377.9 189.8L413.6 190.8L430.5 187.3L448.2 180.5L453.1 178L459 169.2L462.5 165.6L470.6 159.8L480.5 150.4L486.9 146.6L493.9 144.8L530.2 137.9L537.7 135.4L545.5 131.6ZM0 282.3L0 200.3L16.9 200.4L48.9 203L71.4 203.2L105.3 199.9L127.8 199.9L137.2 200.5L151.9 203L159.8 206.1L163.6 209.3L165.9 212.4L167.3 216.2L167.5 220L165.5 225.6L162.3 229.4L137.2 246.1L109 258.5L94 264.2L75.2 273L45.1 281.6Z"/><path fill="#6a8d9a" fill-rule="evenodd" d="M460.2 84.6L464.4 84.6L477.5 89L503.8 92L533.6 99.6L533.2 101.5L522.6 103.8L507.6 104.3L498.2 103.9L479.4 98.1L473.8 95.9L463.7 88.4ZM585.2 88.4L590.3 87.6L601.6 88.1L601.6 101.5L590.3 102L582.1 101.5L565.4 99.6L562.1 97.8L565.4 95.9ZM565.9 133.7L601.6 129.5L601.6 207.5L582.8 207.5L571.5 205.7L564 202.8L560.2 202.5L558.4 201L552.7 193.5L549 192.1L545.2 192.6L532 196.4L528.3 196.2L524.5 193.9L520.8 190L513.2 173.8L511.3 171.1L507 167.3L502 164.8L494.4 162.8L486.9 162.5L481.3 162.8L477.5 163.9L475.9 163.6L486.9 153.5L493.3 150.4L515.1 144.5L539.6 139.7L554.6 134.5ZM466.1 171.1L470 168.1L470.3 169.2L466.2 173.3L465.3 173ZM446.2 188L451.2 187.4L453.1 188.1L455 190.3L455.4 191.8L455.1 195.5L451.3 203L447.4 208L440.8 214.3L434.3 219.1L419.2 228.7L412.5 235L409.7 238.8L406.1 245.1L394.8 270.3L392.6 272.6L389.2 273.9L374.1 267.6L370.4 263.2L363.4 251.9L358.2 242.5L355 235L352.5 225.6L350 212.4L350.1 204.9L351.6 201.9L359.1 201.4L377.9 197.9L385.4 197.9L400 199.3L413.6 199.3L432.4 194.3ZM0 277.8L0 205.8L16.9 205.9L50.8 209L75.2 208.4L105.3 205.8L131.6 206.4L142.9 209.4L154.2 214.4L158.6 218.1L159.8 220.2L160 223.7L157.9 227.1L155.5 229.4L134 244.4L107.2 256.6L92.1 262.2L74.2 270.7L45.1 277.8Z"/><path fill="#5a84a0" fill-rule="evenodd" d="M584.8 90.2L590.3 89.2L601.6 89.8L601.6 99.8L586.6 100.2L579 99.3L573.5 97.8L573.1 95.9L575.8 94ZM473.3 92.1L473.8 91.5L475.6 91.3L481.3 91.5L500.1 92.9L511.6 95.9L517.5 97.8L521.2 99.6L519.8 101.5L517 101.9L500.1 102.5L495.8 101.5L479.2 95.9L475.4 94ZM592.6 135.4L601.6 134.3L601.6 196.6L579 199.9L565.9 200.5L562.1 198.9L560.2 197.1L554.6 187.5L552.7 185.8L549 185.1L545.2 185.9L538.1 189.9L533.9 191.5L530.2 192.3L526.4 191.9L520.8 187.9L514 173L509.5 167.7L502 163.3L489.3 159.8L505.7 155.3L515.1 148.9L522.6 146.5L543.3 143.8L554.6 141.3L564 140.6ZM447.8 193.6L449.3 193.5L451.2 194.8L451.9 197.4L451.2 200.9L449.3 203.9L445.1 208.7L439 214.3L419.2 227.3L412.8 233.1L406.2 242.5L394.8 266L392.9 268.3L391 268.8L387.3 268.1L377.9 264L372.2 262.5L370.4 260.8L360.3 244.4L356.1 235L352.2 218.1L351.2 210.6L351.6 208.3L377.9 203.4L385.4 203.4L398.6 204.5L413.6 204.5L438 198ZM0 272.7L0 211.8L18.8 212L45.1 215.3L50.8 215.6L73.3 214.8L103.4 212.1L126 213.3L133.5 214.7L142.9 218.6L147.8 221.8L149.1 223.7L149.3 225.6L147.2 229.4L143.3 233.1L136.3 238.8L130.6 242.5L107.2 253.9L90.2 259.9L73.3 268.2L50.8 273.6L45.1 274.4Z"/><path fill="#4a77a3" fill-rule="evenodd" d="M584.7 92.1L590.3 90.9L601.6 91.6L601.6 98L586.6 98.4L581.9 97.8L578.6 95.9L580.7 94ZM486.9 95.9L488.8 94.3L490.7 94.1L500.1 94.7L509.7 97.8L511 99.6L500.1 100.7L490.6 97.8ZM565.9 145.3L601.6 138.5L601.6 190.1L571.5 195.9L565.9 196.3L564 195.7L561.7 193.6L556.5 182.4L554.6 180.9L550.8 179.9L545.2 180.7L535.8 186.8L532 188.6L528.3 189.3L526.4 189L520.8 185.1L514 171.1L510.7 167.3L507.6 164.6L505.5 163.6L504.5 161.7L511.4 158.6L518.7 152.3L524.5 149.6L530.2 148.8L543.3 148.1L554.6 146.1ZM429.9 204.9L434.3 204.2L439.9 204.5L441.9 204.9L443.9 206.8L441.2 210.6L434.7 216.2L421.1 224.6L413.6 230.7L407.3 238.8L402.3 248.3L397.6 253.8L392.9 260.9L391 262.1L387.3 262.1L383.5 260.7L376 256.5L368.5 255.4L367.9 253.8L366.6 252.8L361.4 244.4L357.8 236.9L355.6 229.4L353.4 218.1L353.4 216.1L364.6 210.6L376 207.8L385.4 207.4L398.6 208.9L413.6 209.3L419.2 208.3ZM0 265.4L0 218.1L16.9 218.2L47 222.5L69.6 222.7L77.1 222.2L97.8 218.8L107.2 218.5L126 220.5L131.6 221.6L136.3 223.7L138.2 225.6L138.9 227.5L137.7 231.2L132 236.9L122.6 242.5L107.2 250.7L88.4 256.8L76.9 263.2L71.4 265.5L50.8 270.4L43.2 271L30.1 269.4L15 266.3Z"/><path fill="#3a66a6" fill-rule="evenodd" d="M586.1 94L590.3 92.9L600.4 94L598.1 95.9L590.3 96.6L585.7 95.9ZM579.5 146.6L601.6 142.6L601.6 183.6L590.3 186.9L569.6 191.2L565.9 191.2L564 189.4L562 182.4L560.2 178.6L556.5 175.8L550.8 174.8L545.2 175.8L532 185L528.3 186.3L526.4 186.1L524.5 185.2L520.8 182.1L518.9 179.3L515.3 171.1L511.7 165.4L522.6 156L526.4 153.6L532 153.3L537.6 154.2L543.3 155.8L545.2 155.8L551.4 152.3L554.6 151.4L565.9 150.1ZM380.3 210.6L387.3 210.5L396.7 212.8L409.8 214.7L416.3 216.2L418.4 218.1L418.2 220L414.5 225.6L411.8 231.2L406.9 236.9L406.1 238.8L392.9 252.3L389.2 254.4L385.4 254.1L376 250.1L366.6 248.5L364.7 247.7L360.4 240.6L358.1 235L356.5 229.4L356.3 223.7L362.8 216.5L366.2 214.3L370.4 212.6ZM0 257.9L0 224.6L20.7 224.8L48.9 229.9L73.3 233L77.1 232.5L95.9 226.4L105.3 225.2L120.3 227.5L125.2 229.4L126.1 231.2L123.3 235L116.8 240.6L111.3 244.4L105.3 247.7L101.5 248.9L90.2 250.8L84.6 252.5L80.8 254.4L73.3 259.8L65.7 263.2L52.6 266.7L45.1 267.5L37.6 266.3L30.1 264L25 261.3L20.7 257.8L16.9 256.2Z"/><path fill="#2a5298" fill-rule="evenodd" d="M585.8 150.4L601.6 147.4L601.6 169.5L596 171.1L592.2 173L584.7 178.9L582.8 179.6L580.9 179.4L579 177.9L577.3 174.8L574.8 167.3L574 161.7L575 157.9L577.6 154.2L580.3 152.3ZM520.7 165.4L526.4 162.3L528.3 162.3L532 163.6L537.2 167.3L539.5 171.1L539.5 173L537.4 176.7L533.3 180.5L528.3 183L526.4 182.9L522.6 180.6L520.7 178.6L518.9 175.5L518.2 171.1L518.9 168.1ZM374.8 214.3L383.5 212.9L389.2 213.5L403.6 220L405.5 221.8L406.4 223.7L407.1 229.4L405.7 233.1L404.1 235L397.4 240.6L392.9 245.8L389.2 248.3L387.3 248.8L383.5 248.6L366.5 244.4L362.8 242.5L359.1 235.3L358.3 229.4L361.4 223.7L367 218.1ZM0 231.6L16.9 230.6L24.4 231.5L37.4 235L54.5 241.2L60.4 244.4L63.7 248.2L65.1 251.9L64.4 255.7L60.5 259.4L56.7 261.3L50.8 263.2L45.1 263.4L39.5 261.8L35.7 259.4L34 257.6L30.1 250.5L28.2 249L24.4 247.5L20.7 246.8L15 246.8L0 249.9ZM97.3 235L101.5 233.9L105.3 234.2L107.2 235.1L108.5 236.9L108.4 238.8L107.2 240.6L103.4 243L99.6 243.6L93.9 242.5L91.4 240.6L91.6 238.8L93.5 236.9Z"/><path fill="#1d3c85" fill-rule="evenodd" d="M524.1 171.1L526.4 169.6L528.3 169.7L530.2 170.6L532.2 173L532.4 174.8L531.6 176.7L528.3 179.2L526.4 179.2L524.5 178.1L522.8 174.8L523.1 173ZM378.1 216.2L385.4 215.2L389.3 216.2L392.3 218.1L398.6 223.7L401.4 227.5L401.9 229.4L401.6 231.2L400.5 233.1L391 243.5L387.3 245.7L381.6 245.6L369.8 242.5L364.7 239.2L362 235L361.5 233.1L362.1 229.4L365.7 223.7L372.2 218.5Z"/><path fill="#0f2466" fill-rule="evenodd" d="M381.3 218.1L385.4 217.7L389.2 219L393.9 223.7L397.2 229.4L397.1 231.2L396.3 233.1L391 240.2L388.4 242.5L385.4 243.6L377.9 242.7L372 240.6L367.1 236.9L365.1 233.1L365.5 229.4L366.6 227.3L369.8 223.7L375.5 220Z"/><path fill="#03084f" fill-rule="evenodd" d="M377.9 221.8L383.5 220.3L387.3 220.9L390.8 223.7L393.4 227.5L394.1 231.2L393.5 233.1L391 237L387.3 240.7L383.5 241.4L376 239.7L371.4 236.9L368.7 233.1L368.4 231.2L370.1 227.5L374.1 223.8Z"/></g></g><path d="M75.2 0V526.4M300.8 0V526.4M526.4 0V526.4M0 150.4H601.6M0 300.8H601.6M0 451.2H601.6" stroke="#b4b4b4" stroke-width="1.5" fill="none"/><g clip-path="url(#cpa)"><path d="M0 22.6L22.6 22.6L22.6 30.1L105.3 30.1L105.3 22.6L142.9 22.6L142.9 30.1L157.9 30.1L157.9 37.6L112.8 37.6L112.8 45.1L105.3 45.1L105.3 67.7L97.8 67.7L97.8 120.3L90.2 120.3L90.2 127.8L97.8 127.8L97.8 135.4L82.7 135.4L82.7 120.3L75.2 120.3L75.2 112.8L67.7 112.8L67.7 105.3L52.6 105.3L52.6 97.8L0 97.8M157.9 0L157.9 7.5L180.5 7.5L180.5 22.6L188 22.6L188 30.1L218.1 30.1L218.1 22.6L225.6 22.6L225.6 15L233.1 15L233.1 7.5L255.7 7.5L255.7 15L270.7 15L270.7 22.6L285.8 22.6L285.8 30.1L308.3 30.1L308.3 22.6L330.9 22.6L330.9 7.5L315.8 7.5L315.8 0M601.6 255.7L594.1 255.7L594.1 248.2L586.6 248.2L586.6 225.6L579 225.6L579 203L571.5 203L571.5 188L564 188L564 173L549 173L549 195.5L556.5 195.5L556.5 218.1L549 218.1L549 225.6L533.9 225.6L533.9 210.6L526.4 210.6L526.4 188L518.9 188L518.9 180.5L526.4 180.5L526.4 165.4L511.4 165.4L511.4 157.9L473.8 157.9L473.8 165.4L466.2 165.4L466.2 173L458.7 173L458.7 195.5L451.2 195.5L451.2 203L443.7 203L443.7 210.6L436.2 210.6L436.2 218.1L421.1 218.1L421.1 225.6L406.1 225.6L406.1 240.6L398.6 240.6L398.6 270.7L391 270.7L391 285.8L383.5 285.8L383.5 278.2L376 278.2L376 255.7L368.5 255.7L368.5 240.6L361 240.6L361 218.1L353.4 218.1L353.4 173L345.9 173L345.9 165.4L338.4 165.4L338.4 157.9L323.4 157.9L323.4 127.8L315.8 127.8L315.8 112.8L255.7 112.8L255.7 127.8L240.6 127.8L240.6 120.3L233.1 120.3L233.1 112.8L225.6 112.8L225.6 105.3L218.1 105.3L218.1 90.2L210.6 90.2L210.6 82.7L195.5 82.7L195.5 75.2L173 75.2L173 67.7L142.9 67.7L142.9 120.3L150.4 120.3L150.4 127.8L173 127.8L173 135.4L180.5 135.4L180.5 150.4L188 150.4L188 165.4L195.5 165.4L195.5 188L188 188L188 195.5L173 195.5L173 203L225.6 203L225.6 210.6L218.1 210.6L218.1 218.1L195.5 218.1L195.5 225.6L173 225.6L173 233.1L203 233.1L203 248.2L195.5 248.2L195.5 263.2L188 263.2L188 270.7L180.5 270.7L180.5 278.2L173 278.2L173 285.8L157.9 285.8L157.9 293.3L150.4 293.3L150.4 300.8L135.4 300.8L135.4 315.8L127.8 315.8L127.8 338.4L120.3 338.4L120.3 361L127.8 361L127.8 368.5L120.3 368.5L120.3 376L127.8 376L127.8 398.6L135.4 398.6L135.4 443.7L112.8 443.7L112.8 451.2L97.8 451.2L97.8 466.2L90.2 466.2L90.2 473.8L82.7 473.8L82.7 481.3L90.2 481.3L90.2 488.8L82.7 488.8L82.7 496.3L75.2 496.3L75.2 526.4M195.5 413.6L210.6 413.6L210.6 443.7L203 443.7L203 458.7L195.5 458.7L195.5 481.3L188 481.3L188 503.8L165.4 503.8L165.4 488.8L157.9 488.8L157.9 473.8L165.4 473.8L165.4 436.2L188 436.2L188 421.1L195.5 421.1ZM571.5 263.2L586.6 263.2L586.6 278.2L571.5 278.2ZM601.6 293.3L594.1 293.3L594.1 285.8L586.6 285.8L586.6 300.8L594.1 300.8L594.1 308.3L601.6 308.3" fill="none" stroke="#000" stroke-width="3.4" stroke-linejoin="miter" stroke-linecap="square"/></g><g clip-path="url(#cpa)"><path d="M405.1 -1C401.9 1.1 392.8 8.4 385.8 11.7C378.8 15 368.7 16.9 363.3 18.9C357.9 20.9 356.1 19.9 353.7 23.7C351.3 27.4 348.8 36.3 348.8 41.4C348.8 46.5 350.8 50.8 353.7 54.3C356.6 57.8 361.7 60.7 366.5 62.3C371.3 63.9 377.2 63.6 382.6 63.9C388 64.2 393.9 63.3 398.7 63.9C403.5 64.5 405.4 64.8 411.6 67.2C417.8 69.6 427.7 74.4 435.7 78.4C443.7 82.4 451.8 87 459.8 91.3C467.8 95.6 475.8 100.9 483.9 104.1C491.9 107.3 498.7 108.6 508.1 110.6C517.5 112.6 529.5 114.6 540.2 116.2C550.9 117.8 563.3 119.1 572.4 120.2C581.5 121.3 591.1 122.2 594.9 122.6" fill="none" stroke="#e5007d" stroke-width="8.4" stroke-linecap="round" stroke-linejoin="round"/></g><g clip-path="url(#cpa)"><path d="M464 0C474 9 486 12 500 10.5C512 9.5 522 6 531 0ZM590 120L598.5 124.5L599.5 111.5L596.5 111.5Z" fill="#e5007d"/></g><rect x="0" y="0" width="601.6" height="526.4" fill="none" stroke="#000" stroke-width="3.6"/><path d="M75.2 0v-17M75.2 526.4v17M300.8 0v-17M300.8 526.4v17M526.4 0v-17M526.4 526.4v17M0 526.4h-17M601.6 526.4h17M0 300.8h-17M601.6 300.8h17M0 75.2h-17M601.6 75.2h17" stroke="#000" stroke-width="4" stroke-linecap="round" fill="none"/><path d="M0 0v-9.5M0 526.4v9.5M150.4 0v-9.5M150.4 526.4v9.5M225.6 0v-9.5M225.6 526.4v9.5M376 0v-9.5M376 526.4v9.5M451.2 0v-9.5M451.2 526.4v9.5M601.6 0v-9.5M601.6 526.4v9.5M0 451.2h-9.5M601.6 451.2h9.5M0 376h-9.5M601.6 376h9.5M0 225.6h-9.5M601.6 225.6h9.5M0 150.4h-9.5M601.6 150.4h9.5M0 0h-9.5M601.6 0h9.5" stroke="#000" stroke-width="1.6" fill="none"/><text class="t" x="75.2" y="579.2" text-anchor="middle">30E</text><text class="t" x="300.8" y="579.2" text-anchor="middle">60E</text><text class="t" x="526.4" y="579.2" text-anchor="middle">90E</text><text class="t" x="-34.5" y="83.8" text-anchor="end">30N</text><text class="t" x="-34.5" y="309.4" text-anchor="end">0</text><text class="t" x="-34.5" y="535" text-anchor="end">30S</text></g><text class="ti" x="1363.1" y="672.6" text-anchor="end">EM-HTP</text><text class="b" x="794.2" y="671.7">e</text>
<g transform="translate(1492.8 695)"><g clip-path="url(#cpa)"><g filter="url(#bl)"><path fill="#fbfbe6" fill-rule="evenodd" d="M599 9.4L601.6 5.8L601.6 270.2L599.4 272.6L599.4 274.5L601.6 277L601.6 308.7L596 306.4L589.8 302.7L586.1 298.9L584.3 295.2L581.2 285.8L577 276.4L575.5 270.7L575.1 265.1L576.9 250L576.3 244.4L573.4 237.3L569.6 231.3L565.9 227.4L562.1 226L550.8 227L537.7 227.1L532 226.3L526.4 223.7L524.5 221.8L522 218.1L519.8 212.4L515.4 197.4L507.6 182.1L503.8 177.2L500.8 174.8L496.7 173L492.6 172.1L488.8 172L485 172.7L481.3 174.3L477.5 176.9L471.9 183.9L462.5 199.2L456.6 210.6L451.2 218.1L443.7 224.8L424.9 236.7L419.2 242L408 259.2L406.1 263.3L402.7 274.5L400.7 278.2L398.6 280.9L396.7 282.4L392.9 284.2L389.2 284.8L383.5 284.7L376 282.9L372.2 281.2L367.9 278.2L363.2 272.6L354.9 257.6L348.4 244.4L344.7 235L341 221.8L338.9 212.4L338.4 204.9L338.5 189.9L337.2 182.4L334.7 176.7L323.8 159.8L321 154.2L319 148.5L317 133.5L317.3 129.7L319.3 126L323.5 122.2L330.9 118L353.4 113L357.2 112.6L372.2 116.6L385.4 117.8L389.2 119.5L394.4 124.1L398.6 125L449.3 125.2L468.1 128.2L471.9 127.9L473.8 127L475.6 126L476.5 124.1L475.8 122.2L472.9 120.3L462.5 117.2L455 114.1L445.6 111.2L436.2 107.2L430.5 106.2L413.6 105.8L408 104.3L398.6 98.1L392.9 95.9L389.8 94L388.2 92.1L384.2 84.6L379.8 80.8L376 79L370.4 78.7L357.2 81.1L353.4 81L349.7 80L348.1 79L348.1 77.1L350.1 75.2L354.4 73.3L366.6 70.4L374.2 67.7L379.8 66.7L387.3 66.6L402.3 69.5L404.2 69L407.4 63.9L409.6 62L413.6 61.1L438 62.6L466.2 68.4L490.7 71.9L503.8 75.3L513.2 75.8L524.5 73.7L535.8 70.1L539.6 68.1L547.1 62.7L554.6 61.1L558.4 59L560.8 56.4L562.9 52.6L564.7 47L565.9 40.3L567.1 37.6L569.6 35.8L577.2 32.9L580.5 30.1L582.4 26.3L584.5 16.9L585.9 15L596 11.3ZM0 315.4L0 170.4L48.9 170.1L193.6 170L196 171.1L198.9 174.8L202.9 188L204.9 191.4L209.1 195.5L221.8 204L223.8 206.8L223.9 210.6L221.2 214.3L210 221.8L205 227.5L202.7 233.1L200 248.2L198 253.8L195.5 258.3L191.8 261.4L174.8 267.5L161.7 270.2L156 270L142.9 266.7L135.4 265.7L131.6 266.3L120.3 270.1L105.3 272.7L101.5 274L97.1 276.4L80.8 289L63.9 297L50.8 304.8L32 309.3L17.7 314Z"/><path fill="#ecedc0" fill-rule="evenodd" d="M410.9 65.8L413.6 64.6L415.5 64.4L438 65.2L508 79L520.8 80.9L539.6 82.6L556 80.8L564 79.4L570.2 77.1L577.2 73.1L580.9 71.9L586.6 71.3L601.6 71.3L601.6 264.7L596 265.6L592.9 267L590.9 268.8L586.6 275.6L584.7 275.9L582.8 274.7L580.9 271.8L579.7 267L579.9 251.9L578.8 244.4L575.3 235.3L571.5 228.6L567.8 223.4L565.9 222L562.1 221.3L550.8 224.5L539.6 225.2L533.9 224.5L528.3 222L526.1 220L523.7 216.2L521.4 210.6L517 196.1L507.6 178.1L503.8 174.1L500.1 171.9L494.4 170.3L488.8 169.9L483.2 171L479.4 172.7L475.6 175.6L472.9 178.6L464.4 191.8L455.4 208.7L449.3 216.7L439.9 224.4L423.2 235L417.4 240.4L406.1 258.9L400.4 274.5L396.7 279.7L394.8 281.1L391 282.4L383.5 282.5L377.9 281.1L374.1 279.4L368.5 274.9L364.1 268.8L356.7 255.7L351.1 244.4L347.3 235L343.2 220L341.7 212.4L341.1 204.9L341.4 188L340.3 180.8L337.7 174.8L327.3 159.8L324.5 154.2L323.3 150.4L323.9 146.6L326.5 139.1L329 134.2L330.9 131.9L334.2 129.7L338.4 128.5L351.3 126L357.2 125.4L374.1 127.3L383.5 127.8L392.9 130.5L396.7 130.9L447.4 130.8L470 133L475.6 131.9L488.8 128.1L507.6 127L530.2 118.8L537.7 117.5L562.1 115.5L564.8 114.7L565.9 112.8L560.2 111.3L545.2 111L520.8 112.2L498.2 111.7L490.7 110.2L477.5 106.3L460.6 100.7L430.5 85.5L419.2 77.6L411.6 71.4L410.2 69.6L409.9 67.7ZM0 175.7L107.2 173.9L176.7 173.9L193.6 174.3L195.5 175.2L196.3 176.7L199.2 188L201.2 192.1L206.5 197.4L218 204.9L219.4 206.8L219.9 208.7L219.6 210.6L216.3 214.3L205.4 221.8L202.1 225.6L199.3 229.9L191.8 237.4L173 248.5L163.6 250.9L152.3 256.9L146.6 258.1L133.5 259.8L118.4 266.6L101.5 271L91.3 276.4L71.4 288.5L47 300.5L18.8 304.8L0 305.4ZM591.8 283.9L596 283.3L601.6 283.7L601.6 305.4L597.8 303.7L594.1 301.2L590.6 297L589.4 293.3L589.1 289.5L589.9 285.8Z"/><path fill="#cdd39f" fill-rule="evenodd" d="M418.5 67.7L424.9 67.3L438 67.7L518.9 83.1L541.4 86.3L562.1 83L577.2 78.3L584.7 76.9L601.6 77.1L601.6 261.7L588.4 260.9L586.6 260.3L584.7 258.2L580.3 242.5L577.2 234.4L571.5 223.3L567.8 218.4L565.9 217.1L564 216.7L562.1 217.1L552.7 221.6L545.2 223.2L535.8 222.9L532 221.7L529.1 220L526.4 217L524.5 213.6L518.9 196.5L511.4 180.9L507.6 175.1L503.8 171.8L500.1 170L494.4 168.5L488.8 168.2L481.3 169.7L477.5 171.7L473.8 174.8L466.6 184.2L454.6 206.8L449.3 214L441.8 220.6L422.5 233.1L416.3 238.8L413.6 242.5L406.1 255.6L403.5 261.3L399.5 272.6L397.4 276.4L395.7 278.2L391 280.5L383.5 280.6L376 278L370.4 273.6L365.4 267L357.9 253.8L352.3 242.5L348.7 233.1L344.8 218.1L343.6 210.6L343.9 188L343 180.5L340.1 173L330.7 159.8L330.9 158.3L332.3 156L334.6 153.8L347.8 147.5L357.2 143.8L366.5 141L374.1 139.6L383.5 139.3L396.7 140.1L434.3 137L449.3 137L468.1 138L471.9 137.4L488.8 132.9L510.3 131.6L524.5 128.2L535.8 123L541.4 121.4L566.9 118.4L572 116.6L574.9 114.7L576.3 112.8L573.8 110.9L562.1 108.1L541.4 107.4L520.8 109.1L505.7 109.5L498.2 109.4L492.6 108.3L462.5 98.3L434.3 83.4L423 75.8L417.6 71.4L416.3 69.6ZM97 180.5L163.6 179.5L191.8 180.4L193.6 180.9L194.6 182.4L196.8 189.9L199.3 194.3L203 198.1L213.2 204.9L214.9 206.8L215.6 208.7L215.2 210.6L211.7 214.3L201.2 219.9L191.4 227.5L186.1 230.4L173 236.3L159.1 244.4L148.5 252.1L142.9 254.1L129.7 257.4L116.6 263.8L99.6 269.2L77.1 280.9L50.8 293.6L45.1 295.4L39.5 296L18.8 297.5L0 297.7L0 182L71.4 181.9ZM599.7 289.5L601.6 289L601.6 299L597.8 297.3L596.1 295.2L596.2 293.3L597.1 291.4Z"/><path fill="#a9b888" fill-rule="evenodd" d="M424.4 71.4L426.8 70.5L430.5 70.1L439.9 70.6L494.4 80.1L520.8 85.7L541.4 89.3L562.1 85.4L573.4 81.4L582.8 79.1L588.4 78.6L601.6 79.1L601.6 259.2L592.2 257.3L588.4 255.2L586.6 253.1L584.7 249.5L580.1 236.9L575.3 225.8L571.5 218.6L567.8 213.8L565.9 212.6L564 212.3L562.1 212.8L552.7 219.3L547.1 221.2L541.4 221.7L537.7 221.5L532 219.6L528.3 216.4L525.8 212.4L519.9 195.5L513.2 181.5L509.4 174.8L505.7 171.2L502 169L496.3 167.3L488.8 166.7L483.8 167.3L479.4 168.7L473.8 172.6L465.6 182.4L454.2 204.9L449.3 211.7L441.8 218.5L422.4 231.2L415.5 237.3L411.7 242.5L406.1 252.8L402.3 260.8L398.6 271.2L396.8 274.5L394.8 276.9L391 278.8L387.3 279.3L383.5 278.9L377.9 277L372.1 272.6L366.4 265.1L357.8 250L352.5 238.8L349.9 231.2L346.6 218.1L345.4 210.6L346.1 186.1L345.6 180.5L343.6 173L344 171.5L357.2 171.2L374.1 165.5L383.5 164.4L387.3 162.3L392.9 156.3L396.7 154.3L411.7 153.9L423 148.9L431.4 146.6L468.1 143.8L488.8 137.3L509.5 135.1L522.6 132.8L528.3 131.2L543.3 124.4L549 123.3L571.5 120.5L577.2 118.8L584.7 115.5L596.1 112.8L587.9 110.9L580.9 110.1L564 105.9L543.3 104.4L511.4 107.4L500.1 107.7L494.4 107L462.5 95.7L434.3 80.2L427.3 75.2L425.2 73.3ZM99 188L159.8 186.6L173 187.6L187.6 189.9L191.8 191.1L193.6 192.2L195.5 194.1L201.2 202.4L206.4 206.8L207.4 208.7L205.7 210.6L195.5 216.1L184.5 223.7L157.5 240.6L144.8 249.5L139.1 251.8L129.7 254.6L112.8 262.3L99.1 267L79 276.8L65.7 282L50.8 289L47 290.2L41.4 291L18.8 292L0 292.1L0 188.4L18.8 188.5L47 190.2L69.6 190.5L77.1 190.2Z"/><path fill="#8ea68a" fill-rule="evenodd" d="M433.5 73.3L436.2 72.9L441.8 73.4L498.2 82.4L520.8 87.9L541.4 92.2L562.1 87.8L573.4 83.2L582.8 80.5L588.4 80L601.6 80.7L601.6 108.9L584.7 108.7L573.4 106.5L564 103.6L543.3 101.6L518.9 104.8L502 106L496.3 105.8L478.2 99.6L462.5 93.3L437.4 79L432.9 75.2ZM575.3 123.2L601.6 119L601.6 256.9L594.1 255L590.3 252.7L587.8 250L584.7 244.1L581.3 235L573.4 217.6L570.2 212.4L567.8 209.9L565.2 208.7L562.1 208.8L560.2 209.8L553.7 216.2L550.8 218.1L549 218.6L537.7 219.2L533.2 218.1L530.2 215.8L526.4 210.3L521.3 195.5L513.2 178.7L509.7 173L505.7 169.5L501.3 167.3L494.4 165.6L488.8 165.3L483.2 165.9L479.4 167L475.6 169L473.1 171.1L466.3 178.6L463.7 182.4L453.8 203L449.3 209.6L439.9 218.2L421.1 230.4L414 236.9L410.1 242.5L404.2 253.8L396.7 272.1L394.8 274.7L392.9 276.3L391 277.1L387.3 277.7L383.5 277.3L379.8 276L376 273.7L372.6 270.7L367.1 263.2L359.4 250L354.8 240.6L351.9 233.1L348.6 220L347.2 212.4L346.9 204.9L348.3 188L349 184.2L349.7 183.4L359.1 183.1L377.9 180.1L411.7 179.6L419.2 178.4L426.8 175.9L436.2 170.7L447.9 167.3L450.1 165.4L455 158.7L457.7 156L460.9 154.2L470 150.3L479.4 145L485 142.8L492.6 140.9L526.4 135.3L532.2 133.5L543.3 128.2L549 126.5ZM0 287L0 194.8L16.9 194.8L47 196.9L71.4 197.5L105.3 194L156 194.6L163.6 196.3L171.4 201.2L178.2 206.8L179.7 208.7L180.4 212.4L177.5 218.1L168 229.4L163.4 233.1L154.1 238.8L142.9 246.6L110.9 260.3L95.9 265.9L77.1 274.9L61.1 280.1L48.9 285.1L45.1 286L20.7 287Z"/><path fill="#7d9c90" fill-rule="evenodd" d="M442.8 77.1L449.4 77.1L500.1 84.4L541.4 95.8L562.1 90.1L573.4 84.9L582.8 81.9L588.4 81.4L601.6 82.1L601.6 107.3L584.7 107.3L573.4 104.8L564 101.4L541.4 98L533.9 100.1L520.8 102.4L503.8 104.2L496.3 104.2L479.4 98.1L464.4 91.8L445.6 80.8L443.3 79ZM552.1 129.7L601.6 124.5L601.6 227L586.6 226.9L582.8 226L579 224.1L578.3 221.8L577.2 220.8L576.2 218.1L571.6 210.6L569.6 208.3L565.9 205.9L562.1 205.5L560.2 206.1L556.5 208.9L549 206.9L545.2 207.1L533.9 209.2L530.2 209L528.3 207.4L524.9 199.3L519.6 189.9L513.2 176.1L509.7 171.1L505.7 168L500.1 165.5L494.4 164.2L486.9 164L481.3 164.8L477.5 166L471.9 170L461.4 182.4L454.5 199.3L451.4 204.9L448.4 208.7L439.9 216.5L420.4 229.4L413.6 235.5L409.8 240.6L404.2 251.3L396.7 269.5L394.8 272.5L392.9 274.4L389.2 275.9L385.4 275.9L380.4 274.5L376 271.7L372.2 267.9L368.8 263.2L357.9 244.4L352.7 231.2L348.9 214.3L348.4 204.9L349.7 193.5L357.2 193.6L377.9 189.8L413.6 190.8L430.5 187.3L448.2 180.5L453.1 178L459 169.2L462.5 165.6L470.6 159.8L480.5 150.4L486.9 146.6L493.9 144.8L530.2 137.9L537.7 135.4L545.5 131.6ZM0 282.3L0 200.3L16.9 200.4L48.9 203L71.4 203.2L105.3 199.9L127.8 199.9L137.2 200.5L151.9 203L159.8 206.1L163.6 209.3L165.9 212.4L167.3 216.2L167.5 220L165.5 225.6L162.3 229.4L137.2 246.1L109 258.5L94 264.2L75.2 273L45.1 281.6Z"/><path fill="#6a8d9a" fill-rule="evenodd" d="M454.7 80.8L483.2 83.7L500.1 86L526.7 94L530.9 95.9L530.3 97.8L523.6 99.6L505.7 102.3L500.1 102.8L496.3 102.5L481.3 96.9L466 90.2L454.2 82.7ZM585.6 82.7L601.6 83.4L601.6 105.9L588.4 106.2L582.8 105.6L573.4 103.1L564 99.2L556.8 97.8L553.7 95.9L557.2 94L564 91.7L573.7 86.5L582.8 83.2ZM565.9 133.7L601.6 129.5L601.6 207.5L582.8 207.5L571.5 205.7L564 202.8L560.2 202.5L558.4 201L552.7 193.5L549 192.1L545.2 192.6L532 196.4L528.3 196.2L524.5 193.9L520.8 190L513.2 173.8L511.3 171.1L507 167.3L502 164.8L494.4 162.8L486.9 162.5L481.3 162.8L477.5 163.9L475.9 163.6L486.9 153.5L493.3 150.4L515.1 144.5L539.6 139.7L554.6 134.5ZM466.1 171.1L470 168.1L470.3 169.2L466.2 173.3L465.3 173ZM446.2 188L451.2 187.4L453.1 188.1L455 190.3L455.4 191.8L455.1 195.5L451.3 203L447.4 208L440.8 214.3L434.3 219.1L419.2 228.7L412.5 235L409.7 238.8L406.1 245.1L394.8 270.3L392.6 272.6L389.2 273.9L374.1 267.6L370.4 263.2L363.4 251.9L358.2 242.5L355 235L352.5 225.6L350 212.4L350.1 204.9L351.6 201.9L359.1 201.4L377.9 197.9L385.4 197.9L400 199.3L413.6 199.3L432.4 194.3ZM0 277.8L0 205.8L16.9 205.9L50.8 209L75.2 208.4L105.3 205.8L131.6 206.4L142.9 209.4L154.2 214.4L158.6 218.1L159.8 220.2L160 223.7L157.9 227.1L155.5 229.4L134 244.4L107.2 256.6L92.1 262.2L74.2 270.7L45.1 277.8Z"/><path fill="#5a84a0" fill-rule="evenodd" d="M582.6 84.6L588.4 83.9L601.6 84.7L601.6 104.5L588.4 105L582.8 104.3L571.5 100.8L565.9 97.8L563.9 95.9L564.6 94L569.7 90.2ZM465.1 86.5L466.2 84.8L470 84.7L483.2 85.5L498.2 87.3L513.2 91.8L521.7 95.9L519.9 97.8L515.1 99L505.7 100.6L498.2 101.2L494.4 100.3L479.1 94L471 90.2ZM592.6 135.4L601.6 134.3L601.6 196.6L579 199.9L565.9 200.5L562.1 198.9L560.2 197.1L554.6 187.5L552.7 185.8L549 185.1L545.2 185.9L538.1 189.9L533.9 191.5L530.2 192.3L526.4 191.9L520.8 187.9L514 173L509.5 167.7L502 163.3L489.3 159.8L505.7 155.3L515.1 148.9L522.6 146.5L543.3 143.8L554.6 141.3L564 140.6ZM447.8 193.6L449.3 193.5L451.2 194.8L451.9 197.4L451.2 200.9L449.3 203.9L445.1 208.7L439 214.3L419.2 227.3L412.8 233.1L406.2 242.5L394.8 266L392.9 268.3L391 268.8L387.3 268.1L377.9 264L372.2 262.5L370.4 260.8L360.3 244.4L356.1 235L352.2 218.1L351.2 210.6L351.6 208.3L377.9 203.4L385.4 203.4L398.6 204.5L413.6 204.5L438 198ZM0 272.7L0 211.8L18.8 212L45.1 215.3L50.8 215.6L73.3 214.8L103.4 212.1L126 213.3L133.5 214.7L142.9 218.6L147.8 221.8L149.1 223.7L149.3 225.6L147.2 229.4L143.3 233.1L136.3 238.8L130.6 242.5L107.2 253.9L90.2 259.9L73.3 268.2L50.8 273.6L45.1 274.4Z"/><path fill="#4a77a3" fill-rule="evenodd" d="M581.1 86.5L586.6 85.1L601.6 86L601.6 103.2L584.7 103.5L572.8 99.6L569.2 97.8L567.4 95.9L567.8 94L569.8 92.1L575.3 89ZM474.4 88.4L477.5 87.5L481.3 87.4L498.2 88.9L508.6 92.1L512.9 94L514.8 95.9L511.3 97.8L498.2 99.6L494.4 98.6L483.7 94L476.3 90.2ZM565.9 145.3L601.6 138.5L601.6 190.1L571.5 195.9L565.9 196.3L564 195.7L561.7 193.6L556.5 182.4L554.6 180.9L550.8 179.9L545.2 180.7L535.8 186.8L532 188.6L528.3 189.3L526.4 189L520.8 185.1L514 171.1L510.7 167.3L507.6 164.6L505.5 163.6L504.5 161.7L511.4 158.6L518.7 152.3L524.5 149.6L530.2 148.8L543.3 148.1L554.6 146.1ZM429.9 204.9L434.3 204.2L439.9 204.5L441.9 204.9L443.9 206.8L441.2 210.6L434.7 216.2L421.1 224.6L413.6 230.7L407.3 238.8L402.3 248.3L397.6 253.8L392.9 260.9L391 262.1L387.3 262.1L383.5 260.7L376 256.5L368.5 255.4L367.9 253.8L366.6 252.8L361.4 244.4L357.8 236.9L355.6 229.4L353.4 218.1L353.4 216.1L364.6 210.6L376 207.8L385.4 207.4L398.6 208.9L413.6 209.3L419.2 208.3ZM0 265.4L0 218.1L16.9 218.2L47 222.5L69.6 222.7L77.1 222.2L97.8 218.8L107.2 218.5L126 220.5L131.6 221.6L136.3 223.7L138.2 225.6L138.9 227.5L137.7 231.2L132 236.9L122.6 242.5L107.2 250.7L88.4 256.8L76.9 263.2L71.4 265.5L50.8 270.4L43.2 271L30.1 269.4L15 266.3Z"/><path fill="#3a66a6" fill-rule="evenodd" d="M585.1 86.5L588.4 86.3L601.6 87.3L601.6 101.9L588.4 102.5L584.7 102.2L575.3 99.1L572.6 97.8L570.4 95.9L570.6 94L572.7 92.1L579 88.8ZM484.3 90.2L490.7 89.9L500.1 91L507.2 94L507.7 95.9L501.3 97.8L496.3 97.5L485.2 92.1ZM579.5 146.6L601.6 142.6L601.6 183.6L590.3 186.9L569.6 191.2L565.9 191.2L564 189.4L562 182.4L560.2 178.6L556.5 175.8L550.8 174.8L545.2 175.8L532 185L528.3 186.3L526.4 186.1L524.5 185.2L520.8 182.1L518.9 179.3L515.3 171.1L511.7 165.4L522.6 156L526.4 153.6L532 153.3L537.6 154.2L543.3 155.8L545.2 155.8L551.4 152.3L554.6 151.4L565.9 150.1ZM380.3 210.6L387.3 210.5L396.7 212.8L409.8 214.7L416.3 216.2L418.4 218.1L418.2 220L414.5 225.6L411.8 231.2L406.9 236.9L406.1 238.8L392.9 252.3L389.2 254.4L385.4 254.1L376 250.1L366.6 248.5L364.7 247.7L360.4 240.6L358.1 235L356.5 229.4L356.3 223.7L362.8 216.5L366.2 214.3L370.4 212.6ZM0 257.9L0 224.6L20.7 224.8L48.9 229.9L73.3 233L77.1 232.5L95.9 226.4L105.3 225.2L120.3 227.5L125.2 229.4L126.1 231.2L123.3 235L116.8 240.6L111.3 244.4L105.3 247.7L101.5 248.9L90.2 250.8L84.6 252.5L80.8 254.4L73.3 259.8L65.7 263.2L52.6 266.7L45.1 267.5L37.6 266.3L30.1 264L25 261.3L20.7 257.8L16.9 256.2Z"/><path fill="#2a5298" fill-rule="evenodd" d="M583.1 88.4L588.4 87.5L601.6 88.6L601.6 100.6L588.4 101.3L584.7 101L575.9 97.8L573.4 95.9L573.5 94L575.6 92.1ZM494.1 94L494.4 93.3L496.3 92.5L498.2 92.7L501.5 94L500.1 95.7L498.2 95.9ZM585.8 150.4L601.6 147.4L601.6 169.5L596 171.1L592.2 173L584.7 178.9L582.8 179.6L580.9 179.4L579 177.9L577.3 174.8L574.8 167.3L574 161.7L575 157.9L577.6 154.2L580.3 152.3ZM520.7 165.4L526.4 162.3L528.3 162.3L532 163.6L537.2 167.3L539.5 171.1L539.5 173L537.4 176.7L533.3 180.5L528.3 183L526.4 182.9L522.6 180.6L520.7 178.6L518.9 175.5L518.2 171.1L518.9 168.1ZM374.8 214.3L383.5 212.9L389.2 213.5L403.6 220L405.5 221.8L406.4 223.7L407.1 229.4L405.7 233.1L404.1 235L397.4 240.6L392.9 245.8L389.2 248.3L387.3 248.8L383.5 248.6L366.5 244.4L362.8 242.5L359.1 235.3L358.3 229.4L361.4 223.7L367 218.1ZM0 231.6L16.9 230.6L24.4 231.5L37.4 235L54.5 241.2L60.4 244.4L63.7 248.2L65.1 251.9L64.4 255.7L60.5 259.4L56.7 261.3L50.8 263.2L45.1 263.4L39.5 261.8L35.7 259.4L34 257.6L30.1 250.5L28.2 249L24.4 247.5L20.7 246.8L15 246.8L0 249.9ZM97.3 235L101.5 233.9L105.3 234.2L107.2 235.1L108.5 236.9L108.4 238.8L107.2 240.6L103.4 243L99.6 243.6L93.9 242.5L91.4 240.6L91.6 238.8L93.5 236.9Z"/><path fill="#1d3c85" fill-rule="evenodd" d="M581.9 90.2L586.6 88.7L601.6 89.9L601.6 99.3L586.6 100.1L579.4 97.8L576.4 95.9L576.2 94L578.4 92.1ZM524.1 171.1L526.4 169.6L528.3 169.7L530.2 170.6L532.2 173L532.4 174.8L531.6 176.7L528.3 179.2L526.4 179.2L524.5 178.1L522.8 174.8L523.1 173ZM378.1 216.2L385.4 215.2L389.3 216.2L392.3 218.1L398.6 223.7L401.4 227.5L401.9 229.4L401.6 231.2L400.5 233.1L391 243.5L387.3 245.7L381.6 245.6L369.8 242.5L364.7 239.2L362 235L361.5 233.1L362.1 229.4L365.7 223.7L372.2 218.5Z"/><path fill="#0f2466" fill-rule="evenodd" d="M585.1 90.2L588.4 89.9L601.6 91.2L601.6 98L586.6 98.8L582.7 97.8L579.4 95.9L579 94L581.1 92.1ZM381.3 218.1L385.4 217.7L389.2 219L393.9 223.7L397.2 229.4L397.1 231.2L396.3 233.1L391 240.2L388.4 242.5L385.4 243.6L377.9 242.7L372 240.6L367.1 236.9L365.1 233.1L365.5 229.4L366.6 227.3L369.8 223.7L375.5 220Z"/><path fill="#03084f" fill-rule="evenodd" d="M583.9 92.1L588.4 91.2L601.6 92.9L601.6 96.3L586.6 97.6L582.5 95.9L581.8 94ZM377.9 221.8L383.5 220.3L387.3 220.9L390.8 223.7L393.4 227.5L394.1 231.2L393.5 233.1L391 237L387.3 240.7L383.5 241.4L376 239.7L371.4 236.9L368.7 233.1L368.4 231.2L370.1 227.5L374.1 223.8Z"/></g></g><path d="M75.2 0V526.4M300.8 0V526.4M526.4 0V526.4M0 150.4H601.6M0 300.8H601.6M0 451.2H601.6" stroke="#b4b4b4" stroke-width="1.5" fill="none"/><g clip-path="url(#cpa)"><path d="M0 22.6L22.6 22.6L22.6 30.1L105.3 30.1L105.3 22.6L142.9 22.6L142.9 30.1L157.9 30.1L157.9 37.6L112.8 37.6L112.8 45.1L105.3 45.1L105.3 67.7L97.8 67.7L97.8 120.3L90.2 120.3L90.2 127.8L97.8 127.8L97.8 135.4L82.7 135.4L82.7 120.3L75.2 120.3L75.2 112.8L67.7 112.8L67.7 105.3L52.6 105.3L52.6 97.8L0 97.8M157.9 0L157.9 7.5L180.5 7.5L180.5 22.6L188 22.6L188 30.1L218.1 30.1L218.1 22.6L225.6 22.6L225.6 15L233.1 15L233.1 7.5L255.7 7.5L255.7 15L270.7 15L270.7 22.6L285.8 22.6L285.8 30.1L308.3 30.1L308.3 22.6L330.9 22.6L330.9 7.5L315.8 7.5L315.8 0M601.6 255.7L594.1 255.7L594.1 248.2L586.6 248.2L586.6 225.6L579 225.6L579 203L571.5 203L571.5 188L564 188L564 173L549 173L549 195.5L556.5 195.5L556.5 218.1L549 218.1L549 225.6L533.9 225.6L533.9 210.6L526.4 210.6L526.4 188L518.9 188L518.9 180.5L526.4 180.5L526.4 165.4L511.4 165.4L511.4 157.9L473.8 157.9L473.8 165.4L466.2 165.4L466.2 173L458.7 173L458.7 195.5L451.2 195.5L451.2 203L443.7 203L443.7 210.6L436.2 210.6L436.2 218.1L421.1 218.1L421.1 225.6L406.1 225.6L406.1 240.6L398.6 240.6L398.6 270.7L391 270.7L391 285.8L383.5 285.8L383.5 278.2L376 278.2L376 255.7L368.5 255.7L368.5 240.6L361 240.6L361 218.1L353.4 218.1L353.4 173L345.9 173L345.9 165.4L338.4 165.4L338.4 157.9L323.4 157.9L323.4 127.8L315.8 127.8L315.8 112.8L255.7 112.8L255.7 127.8L240.6 127.8L240.6 120.3L233.1 120.3L233.1 112.8L225.6 112.8L225.6 105.3L218.1 105.3L218.1 90.2L210.6 90.2L210.6 82.7L195.5 82.7L195.5 75.2L173 75.2L173 67.7L142.9 67.7L142.9 120.3L150.4 120.3L150.4 127.8L173 127.8L173 135.4L180.5 135.4L180.5 150.4L188 150.4L188 165.4L195.5 165.4L195.5 188L188 188L188 195.5L173 195.5L173 203L225.6 203L225.6 210.6L218.1 210.6L218.1 218.1L195.5 218.1L195.5 225.6L173 225.6L173 233.1L203 233.1L203 248.2L195.5 248.2L195.5 263.2L188 263.2L188 270.7L180.5 270.7L180.5 278.2L173 278.2L173 285.8L157.9 285.8L157.9 293.3L150.4 293.3L150.4 300.8L135.4 300.8L135.4 315.8L127.8 315.8L127.8 338.4L120.3 338.4L120.3 361L127.8 361L127.8 368.5L120.3 368.5L120.3 376L127.8 376L127.8 398.6L135.4 398.6L135.4 443.7L112.8 443.7L112.8 451.2L97.8 451.2L97.8 466.2L90.2 466.2L90.2 473.8L82.7 473.8L82.7 481.3L90.2 481.3L90.2 488.8L82.7 488.8L82.7 496.3L75.2 496.3L75.2 526.4M195.5 413.6L210.6 413.6L210.6 443.7L203 443.7L203 458.7L195.5 458.7L195.5 481.3L188 481.3L188 503.8L165.4 503.8L165.4 488.8L157.9 488.8L157.9 473.8L165.4 473.8L165.4 436.2L188 436.2L188 421.1L195.5 421.1ZM571.5 263.2L586.6 263.2L586.6 278.2L571.5 278.2ZM601.6 293.3L594.1 293.3L594.1 285.8L586.6 285.8L586.6 300.8L594.1 300.8L594.1 308.3L601.6 308.3" fill="none" stroke="#000" stroke-width="3.4" stroke-linejoin="miter" stroke-linecap="square"/></g><g clip-path="url(#cpa)"><path d="M403.4 -1.2C400.5 0.7 393 6.7 386.2 10C379.4 13.3 368.3 16 362.8 18.6C357.3 21.2 355.8 21.6 353.4 25.6C351 29.6 348.7 38.1 348.7 42.8C348.7 47.5 350.8 50.7 353.4 53.8C356 56.9 359.6 60 364.3 61.6C369 63.2 375.8 62.9 381.5 63.1C387.2 63.4 393.2 62.3 398.7 63.1C404.2 63.9 409.4 66 414.3 67.8C419.2 69.6 422.9 71.5 428.4 74.1C433.9 76.7 440.6 80 447.1 83.4C453.6 86.8 461.5 91 467.5 94.4C473.5 97.8 477.9 101.3 483.1 103.8C488.3 106.3 490.9 107.7 498.7 109.2C506.5 110.8 520.9 111.8 530 113.1C539.1 114.4 545.6 116 553.4 117C561.2 118 570.3 118.8 576.8 119.4C583.3 120.1 589.9 120.7 592.5 120.9" fill="none" stroke="#e5007d" stroke-width="8.4" stroke-linecap="round" stroke-linejoin="round"/></g><g clip-path="url(#cpa)"><path d="M464 0C475 9 488 11.5 502 10C514 9 523 6 533 0Z" fill="#e5007d"/></g><rect x="0" y="0" width="601.6" height="526.4" fill="none" stroke="#000" stroke-width="3.6"/><path d="M75.2 0v-17M75.2 526.4v17M300.8 0v-17M300.8 526.4v17M526.4 0v-17M526.4 526.4v17M0 526.4h-17M601.6 526.4h17M0 300.8h-17M601.6 300.8h17M0 75.2h-17M601.6 75.2h17" stroke="#000" stroke-width="4" stroke-linecap="round" fill="none"/><path d="M0 0v-9.5M0 526.4v9.5M150.4 0v-9.5M150.4 526.4v9.5M225.6 0v-9.5M225.6 526.4v9.5M376 0v-9.5M376 526.4v9.5M451.2 0v-9.5M451.2 526.4v9.5M601.6 0v-9.5M601.6 526.4v9.5M0 451.2h-9.5M601.6 451.2h9.5M0 376h-9.5M601.6 376h9.5M0 225.6h-9.5M601.6 225.6h9.5M0 150.4h-9.5M601.6 150.4h9.5M0 0h-9.5M601.6 0h9.5" stroke="#000" stroke-width="1.6" fill="none"/><text class="t" x="75.2" y="579.2" text-anchor="middle">30E</text><text class="t" x="300.8" y="579.2" text-anchor="middle">60E</text><text class="t" x="526.4" y="579.2" text-anchor="middle">90E</text><text class="t" x="-34.5" y="83.8" text-anchor="end">30N</text><text class="t" x="-34.5" y="309.4" text-anchor="end">0</text><text class="t" x="-34.5" y="535" text-anchor="end">30S</text></g><text class="ti" x="2079.8" y="670.7" text-anchor="end">EM-Him</text><text class="b" x="1500.2" y="675.6">f</text>
<g><rect x="796.1" y="1289" width="39.2" height="47.9" fill="#ffffff" stroke="#000" stroke-width="1.3"/><rect x="835.3" y="1289" width="39.2" height="47.9" fill="#fbfbe6" stroke="#000" stroke-width="1.3"/><rect x="874.5" y="1289" width="39.2" height="47.9" fill="#ecedc0" stroke="#000" stroke-width="1.3"/><rect x="913.7" y="1289" width="39.2" height="47.9" fill="#cdd39f" stroke="#000" stroke-width="1.3"/><rect x="952.9" y="1289" width="39.2" height="47.9" fill="#a9b888" stroke="#000" stroke-width="1.3"/><rect x="992.1" y="1289" width="39.2" height="47.9" fill="#8ea68a" stroke="#000" stroke-width="1.3"/><rect x="1031.3" y="1289" width="39.2" height="47.9" fill="#7d9c90" stroke="#000" stroke-width="1.3"/><rect x="1070.5" y="1289" width="39.2" height="47.9" fill="#6a8d9a" stroke="#000" stroke-width="1.3"/><rect x="1109.7" y="1289" width="39.2" height="47.9" fill="#5a84a0" stroke="#000" stroke-width="1.3"/><rect x="1148.9" y="1289" width="39.2" height="47.9" fill="#4a77a3" stroke="#000" stroke-width="1.3"/><rect x="1188.1" y="1289" width="39.2" height="47.9" fill="#3a66a6" stroke="#000" stroke-width="1.3"/><rect x="1227.3" y="1289" width="39.2" height="47.9" fill="#2a5298" stroke="#000" stroke-width="1.3"/><rect x="1266.5" y="1289" width="39.2" height="47.9" fill="#1d3c85" stroke="#000" stroke-width="1.3"/><rect x="1305.7" y="1289" width="39.2" height="47.9" fill="#0f2466" stroke="#000" stroke-width="1.3"/><rect x="1344.9" y="1289" width="39.2" height="47.9" fill="#03084f" stroke="#000" stroke-width="1.3"/><rect x="796.1" y="1289" width="588" height="47.9" fill="none" stroke="#000" stroke-width="1.6"/><text class="cb" x="835.3" y="1367.7" text-anchor="middle">2</text><text class="cb" x="874.5" y="1367.7" text-anchor="middle">3</text><text class="cb" x="913.7" y="1367.7" text-anchor="middle">4</text><text class="cb" x="952.9" y="1367.7" text-anchor="middle">5</text><text class="cb" x="992.1" y="1367.7" text-anchor="middle">6</text><text class="cb" x="1031.3" y="1367.7" text-anchor="middle">7</text><text class="cb" x="1070.5" y="1367.7" text-anchor="middle">8</text><text class="cb" x="1109.7" y="1367.7" text-anchor="middle">9</text><text class="cb" x="1148.9" y="1367.7" text-anchor="middle">10</text><text class="cb" x="1188.1" y="1367.7" text-anchor="middle">11</text><text class="cb" x="1227.3" y="1367.7" text-anchor="middle">12</text><text class="cb" x="1266.5" y="1367.7" text-anchor="middle">13</text><text class="cb" x="1305.7" y="1367.7" text-anchor="middle">14</text><text class="cb" x="1344.9" y="1367.7" text-anchor="middle">15</text><text class="u" x="1097" y="1399" text-anchor="middle">mm/day</text></g>
</svg></body></html>
